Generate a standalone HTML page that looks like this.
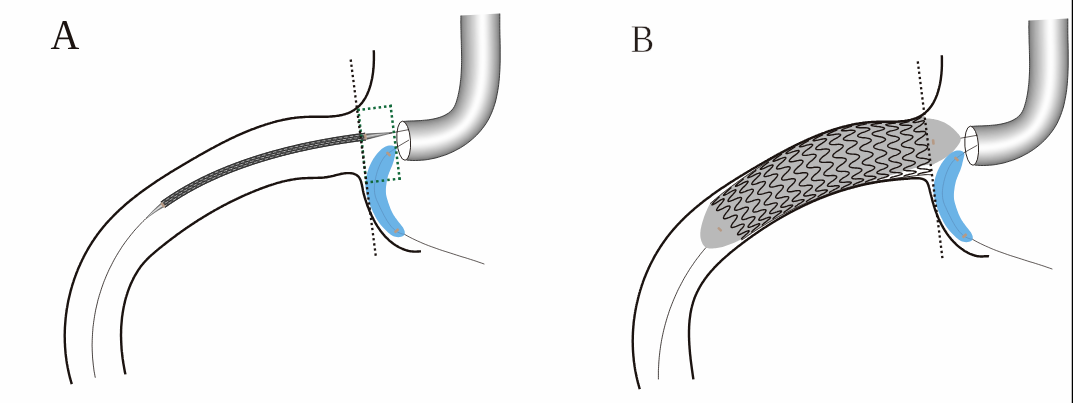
<!DOCTYPE html>
<html><head><meta charset="utf-8"><title>Figure</title>
<style>
html,body{margin:0;padding:0;background:#fefefe;}
body{width:1073px;height:403px;overflow:hidden;font-family:"Liberation Serif",serif;}
svg{display:block;will-change:transform;}
</style></head>
<body>
<svg width="1073" height="403" viewBox="0 0 1073 403">
<defs>
<linearGradient id="tp" gradientUnits="userSpaceOnUse" x1="365" y1="134" x2="366" y2="139.5">
<stop offset="0" stop-color="#444"/><stop offset="0.5" stop-color="#cfcfcf"/><stop offset="1" stop-color="#444"/>
</linearGradient>
<linearGradient id="tl" gradientUnits="userSpaceOnUse" x1="157" y1="204" x2="161" y2="209">
<stop offset="0" stop-color="#666"/><stop offset="0.5" stop-color="#eee"/><stop offset="1" stop-color="#666"/>
</linearGradient>
<filter id="soft" x="-5%" y="-5%" width="110%" height="110%"><feGaussianBlur stdDeviation="0.9"/></filter>
</defs>
<rect width="1073" height="403" fill="#fefefe"/>

<g font-family="Liberation Serif, serif" text-rendering="geometricPrecision">
<text transform="translate(50.51 48.6) scale(0.9446 1.0071)" font-size="42.27" fill="#1b1310">A</text>
<text transform="translate(630.69 52.15) scale(0.8954 1)" font-size="39.23" fill="#241c19" stroke="#fefefe" stroke-width="0.55">B</text>
</g>

<g id="A">
<g id="common">
<clipPath id="tubeclip"><path d="M403.2,121.4 L405.3,121.3 L407.5,121.1 L409.6,121.0 L411.7,120.9 L413.9,120.9 L416.0,120.8 L418.1,120.7 L420.3,120.6 L422.4,120.4 L424.5,120.2 L426.6,120.0 L428.8,119.8 L430.9,119.4 L433.0,119.1 L435.1,118.6 L437.1,118.1 L439.2,117.5 L441.2,116.8 L443.2,116.0 L445.1,115.1 L447.0,114.0 L448.8,112.9 L450.4,111.5 L451.9,110.0 L453.3,108.3 L454.4,106.5 L455.3,104.6 L456.1,102.6 L456.7,100.6 L457.3,98.5 L457.9,96.5 L458.3,94.4 L458.8,92.3 L459.2,90.2 L459.6,88.1 L459.9,86.0 L460.2,83.9 L460.4,81.7 L460.7,79.6 L460.9,77.5 L461.0,75.4 L461.2,73.2 L461.3,71.1 L461.4,69.0 L461.5,66.8 L461.5,64.7 L461.6,62.6 L461.6,60.4 L461.6,58.3 L461.6,56.2 L461.6,54.0 L461.5,51.9 L461.5,49.8 L461.4,47.6 L461.4,45.5 L461.3,43.4 L461.3,41.2 L461.2,39.1 L461.1,37.0 L461.1,34.8 L461.0,32.7 L461.0,30.5 L460.9,28.4 L460.9,26.3 L460.9,24.1 L460.8,22.0 L460.9,19.9 L460.9,17.7 L460.9,15.6 L499.8,13.6 L499.8,16.6 L499.8,19.5 L499.8,22.5 L499.8,25.4 L499.8,28.4 L499.9,31.4 L499.9,34.3 L500.0,37.3 L500.1,40.2 L500.1,43.2 L500.2,46.1 L500.2,49.1 L500.2,52.1 L500.2,55.0 L500.2,58.0 L500.2,60.9 L500.1,63.9 L500.0,66.8 L499.9,69.8 L499.7,72.8 L499.5,75.7 L499.3,78.7 L499.0,81.6 L498.7,84.5 L498.3,87.5 L497.8,90.4 L497.3,93.3 L496.7,96.2 L496.1,99.1 L495.4,102.0 L494.5,104.8 L493.6,107.6 L492.6,110.4 L491.5,113.1 L490.3,115.8 L489.0,118.5 L487.5,121.1 L486.0,123.6 L484.3,126.0 L482.5,128.4 L480.7,130.7 L478.7,132.9 L476.7,135.1 L474.6,137.1 L472.4,139.1 L470.1,141.0 L467.8,142.8 L465.4,144.6 L462.9,146.2 L460.4,147.8 L457.8,149.2 L455.2,150.6 L452.6,151.9 L449.9,153.1 L447.1,154.3 L444.4,155.3 L441.5,156.2 L438.7,157.1 L435.9,157.9 L433.0,158.5 L430.1,159.1 L427.2,159.6 L424.2,160.0 L421.3,160.2 L418.3,160.4 L415.4,160.5 L412.4,160.5 L409.4,160.3 L406.5,160.1Z"/></clipPath>
<g clip-path="url(#tubeclip)"><g filter="url(#soft)">
<path d="M399.1,120.2 L403.1,119.9 L405.2,119.7 L407.3,119.6 L409.4,119.5 L411.5,119.4 L413.6,119.3 L415.7,119.2 L417.8,119.1 L419.9,119.0 L422.0,118.9 L424.1,118.7 L426.2,118.5 L428.3,118.3 L430.3,118.0 L432.4,117.7 L434.5,117.2 L436.5,116.7 L438.5,116.2 L440.5,115.5 L442.5,114.7 L444.4,113.8 L446.2,112.8 L448.0,111.7 L449.6,110.3 L451.1,108.9 L452.4,107.2 L453.5,105.4 L454.4,103.5 L455.1,101.5 L455.7,99.5 L456.2,97.4 L456.7,95.4 L457.2,93.3 L457.6,91.2 L457.9,89.2 L458.3,87.1 L458.6,85.0 L458.8,82.9 L459.1,80.8 L459.3,78.7 L459.5,76.6 L459.6,74.5 L459.7,72.4 L459.8,70.3 L459.9,68.2 L460.0,66.1 L460.0,64.0 L460.1,61.9 L460.1,59.8 L460.1,57.7 L460.0,55.6 L460.0,53.5 L460.0,51.4 L459.9,49.3 L459.9,47.2 L459.8,45.1 L459.8,43.0 L459.7,40.9 L459.6,38.8 L459.6,36.7 L459.5,34.6 L459.5,32.5 L459.4,30.4 L459.4,28.3 L459.3,26.2 L459.3,24.1 L459.3,22.0 L459.3,19.9 L459.3,17.8 L459.3,15.7 L459.4,11.7 L461.2,11.6 L461.2,15.6 L461.1,17.7 L461.1,19.9 L461.1,22.0 L461.1,24.2 L461.1,26.3 L461.2,28.4 L461.2,30.6 L461.3,32.7 L461.3,34.9 L461.4,37.0 L461.5,39.1 L461.5,41.3 L461.6,43.4 L461.6,45.6 L461.7,47.7 L461.7,49.8 L461.8,52.0 L461.8,54.1 L461.8,56.3 L461.8,58.4 L461.8,60.5 L461.8,62.7 L461.8,64.8 L461.7,67.0 L461.6,69.1 L461.5,71.2 L461.4,73.4 L461.3,75.5 L461.1,77.6 L460.9,79.8 L460.7,81.9 L460.4,84.0 L460.1,86.1 L459.8,88.3 L459.4,90.4 L459.0,92.5 L458.5,94.6 L458.0,96.6 L457.5,98.7 L456.9,100.8 L456.2,102.8 L455.4,104.8 L454.5,106.7 L453.4,108.5 L452.1,110.2 L450.6,111.7 L448.9,113.1 L447.1,114.2 L445.2,115.3 L443.3,116.2 L441.3,117.0 L439.3,117.7 L437.2,118.3 L435.2,118.9 L433.1,119.3 L431.0,119.7 L428.8,120.0 L426.7,120.3 L424.6,120.5 L422.5,120.7 L420.3,120.8 L418.2,120.9 L416.1,121.0 L413.9,121.1 L411.8,121.2 L409.6,121.3 L407.5,121.4 L405.4,121.5 L403.2,121.7 L399.2,121.9Z" fill="#6e6e6e"/>
<path d="M399.2,121.4 L403.2,121.1 L405.3,121.0 L407.4,120.9 L409.6,120.8 L411.7,120.7 L413.8,120.6 L415.9,120.5 L418.1,120.4 L420.2,120.3 L422.3,120.2 L424.4,120.0 L426.6,119.8 L428.7,119.5 L430.8,119.2 L432.9,118.8 L435.0,118.4 L437.0,117.9 L439.1,117.3 L441.1,116.6 L443.1,115.8 L445.0,114.9 L446.9,113.8 L448.6,112.7 L450.3,111.3 L451.8,109.8 L453.1,108.1 L454.2,106.3 L455.1,104.4 L455.9,102.4 L456.6,100.4 L457.1,98.3 L457.7,96.3 L458.1,94.2 L458.6,92.1 L459.0,90.0 L459.3,87.9 L459.7,85.8 L460.0,83.7 L460.2,81.6 L460.4,79.5 L460.6,77.4 L460.8,75.2 L460.9,73.1 L461.1,71.0 L461.2,68.9 L461.2,66.7 L461.3,64.6 L461.3,62.5 L461.3,60.3 L461.3,58.2 L461.3,56.1 L461.3,53.9 L461.3,51.8 L461.2,49.7 L461.2,47.6 L461.1,45.4 L461.1,43.3 L461.0,41.2 L460.9,39.0 L460.9,36.9 L460.8,34.8 L460.8,32.7 L460.7,30.5 L460.7,28.4 L460.6,26.3 L460.6,24.1 L460.6,22.0 L460.6,19.9 L460.6,17.7 L460.6,15.6 L460.7,11.6 L462.5,11.5 L462.5,15.5 L462.4,17.7 L462.4,19.9 L462.4,22.0 L462.4,24.2 L462.4,26.4 L462.5,28.5 L462.5,30.7 L462.6,32.9 L462.6,35.0 L462.7,37.2 L462.8,39.4 L462.8,41.5 L462.9,43.7 L462.9,45.9 L463.0,48.0 L463.0,50.2 L463.1,52.4 L463.1,54.5 L463.1,56.7 L463.1,58.9 L463.1,61.0 L463.1,63.2 L463.0,65.4 L463.0,67.5 L462.9,69.7 L462.8,71.9 L462.6,74.0 L462.5,76.2 L462.3,78.4 L462.1,80.5 L461.8,82.7 L461.5,84.8 L461.2,87.0 L460.8,89.1 L460.4,91.2 L460.0,93.3 L459.5,95.4 L459.0,97.5 L458.4,99.6 L457.8,101.7 L457.1,103.7 L456.2,105.7 L455.3,107.7 L454.1,109.5 L452.8,111.2 L451.2,112.7 L449.5,114.1 L447.7,115.3 L445.8,116.3 L443.9,117.3 L441.9,118.1 L439.8,118.8 L437.8,119.5 L435.7,120.0 L433.5,120.5 L431.4,120.9 L429.3,121.2 L427.1,121.5 L425.0,121.7 L422.8,121.9 L420.7,122.1 L418.5,122.2 L416.3,122.3 L414.2,122.4 L412.0,122.5 L409.8,122.6 L407.7,122.7 L405.5,122.8 L403.3,122.9 L399.3,123.2Z" fill="#797979"/>
<path d="M399.3,122.7 L403.3,122.4 L405.4,122.3 L407.6,122.2 L409.7,122.1 L411.9,122.0 L414.1,121.9 L416.2,121.8 L418.4,121.7 L420.5,121.6 L422.7,121.4 L424.8,121.2 L427.0,121.0 L429.1,120.7 L431.2,120.4 L433.4,120.0 L435.5,119.5 L437.5,119.0 L439.6,118.4 L441.6,117.7 L443.6,116.8 L445.6,115.9 L447.5,114.9 L449.3,113.7 L450.9,112.3 L452.5,110.8 L453.8,109.1 L455.0,107.3 L455.9,105.4 L456.7,103.4 L457.4,101.3 L458.0,99.3 L458.6,97.2 L459.1,95.1 L459.6,93.0 L460.0,90.9 L460.4,88.8 L460.8,86.6 L461.1,84.5 L461.4,82.4 L461.6,80.2 L461.8,78.1 L462.0,75.9 L462.2,73.8 L462.3,71.6 L462.4,69.5 L462.5,67.3 L462.5,65.2 L462.6,63.0 L462.6,60.8 L462.6,58.7 L462.6,56.5 L462.6,54.4 L462.6,52.2 L462.5,50.1 L462.5,47.9 L462.4,45.7 L462.4,43.6 L462.3,41.4 L462.2,39.3 L462.2,37.1 L462.1,35.0 L462.1,32.8 L462.0,30.6 L462.0,28.5 L461.9,26.3 L461.9,24.2 L461.9,22.0 L461.9,19.9 L461.9,17.7 L461.9,15.5 L462.0,11.5 L463.8,11.5 L463.8,15.5 L463.7,17.6 L463.7,19.8 L463.7,22.0 L463.7,24.2 L463.7,26.4 L463.8,28.6 L463.8,30.8 L463.9,33.0 L463.9,35.2 L464.0,37.4 L464.1,39.6 L464.1,41.8 L464.2,44.0 L464.2,46.2 L464.3,48.4 L464.3,50.6 L464.4,52.8 L464.4,55.0 L464.4,57.2 L464.4,59.4 L464.4,61.6 L464.3,63.7 L464.3,65.9 L464.2,68.1 L464.1,70.3 L464.0,72.5 L463.8,74.7 L463.7,76.9 L463.5,79.1 L463.2,81.3 L462.9,83.4 L462.6,85.6 L462.3,87.8 L461.9,89.9 L461.5,92.1 L461.0,94.2 L460.5,96.3 L459.9,98.4 L459.3,100.5 L458.6,102.6 L457.9,104.7 L457.0,106.7 L456.0,108.6 L454.8,110.5 L453.4,112.2 L451.9,113.7 L450.1,115.1 L448.3,116.3 L446.4,117.4 L444.4,118.3 L442.4,119.2 L440.4,119.9 L438.3,120.6 L436.2,121.2 L434.0,121.6 L431.9,122.1 L429.7,122.4 L427.5,122.7 L425.4,123.0 L423.2,123.2 L421.0,123.4 L418.8,123.5 L416.6,123.6 L414.4,123.8 L412.2,123.8 L410.0,123.9 L407.8,124.0 L405.6,124.1 L403.4,124.2 L399.5,124.5Z" fill="#8b8b8b"/>
<path d="M399.4,124.0 L403.4,123.7 L405.6,123.6 L407.8,123.5 L409.9,123.4 L412.1,123.3 L414.3,123.2 L416.5,123.1 L418.7,123.0 L420.9,122.9 L423.0,122.7 L425.2,122.5 L427.4,122.2 L429.5,122.0 L431.7,121.6 L433.8,121.2 L436.0,120.7 L438.1,120.1 L440.1,119.5 L442.2,118.7 L444.2,117.9 L446.2,116.9 L448.1,115.9 L449.9,114.7 L451.6,113.3 L453.2,111.8 L454.5,110.1 L455.7,108.2 L456.7,106.3 L457.5,104.3 L458.3,102.3 L458.9,100.2 L459.5,98.1 L460.1,96.0 L460.6,93.9 L461.1,91.7 L461.5,89.6 L461.9,87.4 L462.2,85.3 L462.5,83.1 L462.8,81.0 L463.0,78.8 L463.2,76.6 L463.4,74.4 L463.5,72.3 L463.6,70.1 L463.7,67.9 L463.8,65.7 L463.8,63.5 L463.9,61.4 L463.9,59.2 L463.9,57.0 L463.9,54.8 L463.8,52.6 L463.8,50.4 L463.8,48.2 L463.7,46.1 L463.7,43.9 L463.6,41.7 L463.5,39.5 L463.5,37.3 L463.4,35.1 L463.4,33.0 L463.3,30.8 L463.3,28.6 L463.2,26.4 L463.2,24.2 L463.2,22.0 L463.2,19.8 L463.2,17.7 L463.2,15.5 L463.3,11.5 L465.1,11.4 L465.1,15.4 L465.0,17.6 L465.0,19.8 L465.0,22.1 L465.0,24.3 L465.0,26.5 L465.1,28.7 L465.1,30.9 L465.2,33.2 L465.2,35.4 L465.3,37.6 L465.4,39.8 L465.4,42.1 L465.5,44.3 L465.5,46.5 L465.6,48.7 L465.6,51.0 L465.6,53.2 L465.7,55.4 L465.7,57.6 L465.7,59.8 L465.6,62.1 L465.6,64.3 L465.5,66.5 L465.4,68.7 L465.3,70.9 L465.2,73.2 L465.0,75.4 L464.9,77.6 L464.6,79.8 L464.4,82.0 L464.1,84.2 L463.7,86.4 L463.4,88.6 L463.0,90.8 L462.5,92.9 L462.0,95.1 L461.5,97.2 L460.8,99.4 L460.2,101.5 L459.5,103.5 L458.7,105.6 L457.8,107.6 L456.7,109.6 L455.5,111.4 L454.1,113.1 L452.5,114.7 L450.8,116.1 L448.9,117.3 L447.0,118.4 L445.0,119.4 L443.0,120.2 L440.9,121.0 L438.8,121.7 L436.6,122.3 L434.5,122.8 L432.3,123.3 L430.1,123.7 L427.9,124.0 L425.7,124.3 L423.5,124.5 L421.3,124.7 L419.1,124.8 L416.9,125.0 L414.7,125.1 L412.4,125.2 L410.2,125.2 L408.0,125.3 L405.8,125.4 L403.6,125.5 L399.6,125.7Z" fill="#959595"/>
<path d="M399.5,125.2 L403.5,125.0 L405.7,124.9 L407.9,124.8 L410.1,124.7 L412.3,124.6 L414.6,124.5 L416.8,124.4 L419.0,124.3 L421.2,124.2 L423.4,124.0 L425.6,123.8 L427.8,123.5 L430.0,123.2 L432.1,122.8 L434.3,122.4 L436.4,121.8 L438.6,121.3 L440.7,120.6 L442.8,119.8 L444.8,119.0 L446.8,118.0 L448.7,116.9 L450.5,115.7 L452.3,114.3 L453.8,112.7 L455.2,111.0 L456.4,109.2 L457.5,107.2 L458.4,105.2 L459.1,103.2 L459.8,101.1 L460.5,99.0 L461.1,96.9 L461.6,94.7 L462.1,92.6 L462.5,90.4 L462.9,88.3 L463.3,86.1 L463.6,83.9 L463.9,81.7 L464.2,79.5 L464.4,77.3 L464.6,75.1 L464.7,72.9 L464.8,70.7 L464.9,68.5 L465.0,66.3 L465.1,64.1 L465.1,61.9 L465.1,59.6 L465.2,57.4 L465.1,55.2 L465.1,53.0 L465.1,50.8 L465.1,48.6 L465.0,46.4 L464.9,44.2 L464.9,42.0 L464.8,39.7 L464.8,37.5 L464.7,35.3 L464.7,33.1 L464.6,30.9 L464.6,28.7 L464.5,26.5 L464.5,24.3 L464.5,22.0 L464.5,19.8 L464.5,17.6 L464.5,15.4 L464.6,11.4 L466.4,11.3 L466.3,15.3 L466.3,17.6 L466.3,19.8 L466.3,22.1 L466.3,24.3 L466.3,26.6 L466.4,28.8 L466.4,31.1 L466.5,33.3 L466.5,35.6 L466.6,37.8 L466.7,40.1 L466.7,42.3 L466.8,44.6 L466.8,46.8 L466.9,49.1 L466.9,51.3 L466.9,53.6 L466.9,55.8 L466.9,58.1 L466.9,60.3 L466.9,62.6 L466.8,64.8 L466.8,67.1 L466.7,69.3 L466.6,71.6 L466.4,73.8 L466.2,76.0 L466.0,78.3 L465.8,80.5 L465.5,82.8 L465.2,85.0 L464.9,87.2 L464.5,89.4 L464.0,91.6 L463.5,93.8 L463.0,96.0 L462.4,98.1 L461.8,100.3 L461.1,102.4 L460.4,104.5 L459.5,106.5 L458.6,108.6 L457.5,110.5 L456.2,112.4 L454.8,114.1 L453.2,115.7 L451.4,117.1 L449.6,118.3 L447.6,119.4 L445.6,120.4 L443.5,121.3 L441.4,122.1 L439.3,122.8 L437.1,123.5 L435.0,124.0 L432.8,124.5 L430.6,124.9 L428.3,125.2 L426.1,125.5 L423.9,125.8 L421.6,126.0 L419.4,126.1 L417.1,126.3 L414.9,126.4 L412.7,126.5 L410.4,126.6 L408.2,126.6 L405.9,126.7 L403.7,126.8 L399.7,127.0Z" fill="#9e9e9e"/>
<path d="M399.6,126.5 L403.6,126.3 L405.9,126.2 L408.1,126.1 L410.3,126.0 L412.6,125.9 L414.8,125.9 L417.0,125.7 L419.3,125.6 L421.5,125.4 L423.7,125.2 L426.0,125.0 L428.2,124.7 L430.4,124.4 L432.6,124.0 L434.8,123.5 L436.9,123.0 L439.1,122.4 L441.2,121.7 L443.3,120.9 L445.4,120.0 L447.4,119.0 L449.3,117.9 L451.2,116.7 L452.9,115.3 L454.5,113.7 L456.0,112.0 L457.2,110.1 L458.3,108.2 L459.2,106.2 L460.0,104.1 L460.7,102.0 L461.4,99.9 L462.0,97.8 L462.6,95.6 L463.1,93.4 L463.6,91.3 L464.0,89.1 L464.4,86.9 L464.8,84.7 L465.1,82.5 L465.3,80.2 L465.6,78.0 L465.8,75.8 L465.9,73.6 L466.1,71.3 L466.2,69.1 L466.3,66.8 L466.3,64.6 L466.4,62.4 L466.4,60.1 L466.4,57.9 L466.4,55.7 L466.4,53.4 L466.4,51.2 L466.3,48.9 L466.3,46.7 L466.2,44.5 L466.2,42.2 L466.1,40.0 L466.1,37.7 L466.0,35.5 L466.0,33.3 L465.9,31.0 L465.9,28.8 L465.8,26.5 L465.8,24.3 L465.8,22.1 L465.8,19.8 L465.8,17.6 L465.8,15.3 L465.9,11.3 L467.7,11.3 L467.6,15.3 L467.6,17.5 L467.6,19.8 L467.6,22.1 L467.6,24.4 L467.6,26.6 L467.7,28.9 L467.7,31.2 L467.8,33.5 L467.8,35.8 L467.9,38.0 L467.9,40.3 L468.0,42.6 L468.1,44.9 L468.1,47.1 L468.2,49.4 L468.2,51.7 L468.2,54.0 L468.2,56.3 L468.2,58.5 L468.2,60.8 L468.2,63.1 L468.1,65.4 L468.0,67.6 L467.9,69.9 L467.8,72.2 L467.6,74.5 L467.5,76.7 L467.2,79.0 L467.0,81.2 L466.7,83.5 L466.4,85.7 L466.0,88.0 L465.6,90.2 L465.1,92.4 L464.6,94.6 L464.0,96.8 L463.4,99.0 L462.7,101.2 L462.0,103.3 L461.2,105.4 L460.3,107.5 L459.4,109.5 L458.2,111.5 L456.9,113.3 L455.5,115.1 L453.8,116.6 L452.1,118.1 L450.2,119.3 L448.2,120.5 L446.2,121.5 L444.1,122.4 L442.0,123.2 L439.8,124.0 L437.6,124.6 L435.4,125.2 L433.2,125.7 L431.0,126.1 L428.7,126.4 L426.5,126.8 L424.2,127.0 L422.0,127.2 L419.7,127.4 L417.4,127.6 L415.1,127.7 L412.9,127.8 L410.6,127.9 L408.3,128.0 L406.0,128.0 L403.8,128.1 L399.8,128.3Z" fill="#a8a8a8"/>
<path d="M399.7,127.8 L403.7,127.6 L406.0,127.5 L408.3,127.4 L410.5,127.3 L412.8,127.3 L415.0,127.2 L417.3,127.0 L419.6,126.9 L421.8,126.7 L424.1,126.5 L426.3,126.3 L428.6,126.0 L430.8,125.6 L433.0,125.2 L435.2,124.7 L437.4,124.1 L439.6,123.5 L441.7,122.8 L443.9,122.0 L445.9,121.1 L448.0,120.1 L449.9,118.9 L451.8,117.7 L453.6,116.2 L455.2,114.7 L456.7,113.0 L457.9,111.1 L459.0,109.1 L460.0,107.1 L460.9,105.0 L461.6,102.9 L462.3,100.8 L463.0,98.7 L463.6,96.5 L464.2,94.3 L464.7,92.1 L465.1,89.9 L465.5,87.7 L465.9,85.4 L466.2,83.2 L466.5,81.0 L466.8,78.7 L467.0,76.5 L467.2,74.2 L467.3,71.9 L467.4,69.7 L467.5,67.4 L467.6,65.1 L467.7,62.9 L467.7,60.6 L467.7,58.3 L467.7,56.1 L467.7,53.8 L467.7,51.5 L467.6,49.3 L467.6,47.0 L467.5,44.7 L467.5,42.5 L467.4,40.2 L467.4,37.9 L467.3,35.7 L467.3,33.4 L467.2,31.1 L467.2,28.9 L467.1,26.6 L467.1,24.3 L467.1,22.1 L467.1,19.8 L467.1,17.5 L467.1,15.3 L467.2,11.3 L469.0,11.2 L468.9,15.2 L468.9,17.5 L468.9,19.8 L468.9,22.1 L468.9,24.4 L468.9,26.7 L469.0,29.0 L469.0,31.3 L469.1,33.6 L469.1,35.9 L469.2,38.2 L469.2,40.5 L469.3,42.8 L469.4,45.2 L469.4,47.5 L469.4,49.8 L469.5,52.1 L469.5,54.4 L469.5,56.7 L469.5,59.0 L469.5,61.3 L469.4,63.6 L469.4,65.9 L469.3,68.2 L469.2,70.5 L469.0,72.8 L468.9,75.1 L468.7,77.4 L468.4,79.7 L468.2,82.0 L467.8,84.2 L467.5,86.5 L467.1,88.8 L466.6,91.0 L466.2,93.3 L465.6,95.5 L465.0,97.7 L464.4,99.9 L463.7,102.1 L462.9,104.2 L462.1,106.3 L461.2,108.4 L460.1,110.5 L459.0,112.4 L457.7,114.3 L456.2,116.0 L454.5,117.6 L452.7,119.1 L450.8,120.3 L448.8,121.5 L446.7,122.6 L444.6,123.5 L442.5,124.3 L440.3,125.1 L438.1,125.8 L435.9,126.3 L433.7,126.9 L431.4,127.3 L429.1,127.7 L426.9,128.0 L424.6,128.3 L422.3,128.5 L420.0,128.7 L417.7,128.9 L415.4,129.0 L413.1,129.1 L410.8,129.2 L408.5,129.3 L406.2,129.3 L403.9,129.4 L399.9,129.6Z" fill="#b0b0b0"/>
<path d="M399.8,129.0 L403.8,128.9 L406.1,128.8 L408.4,128.7 L410.7,128.7 L413.0,128.6 L415.3,128.5 L417.6,128.4 L419.9,128.2 L422.2,128.0 L424.4,127.8 L426.7,127.5 L429.0,127.2 L431.2,126.8 L433.5,126.4 L435.7,125.9 L437.9,125.3 L440.1,124.6 L442.3,123.9 L444.4,123.1 L446.5,122.1 L448.6,121.1 L450.5,119.9 L452.4,118.7 L454.2,117.2 L455.9,115.6 L457.4,113.9 L458.7,112.0 L459.8,110.1 L460.8,108.0 L461.7,106.0 L462.5,103.8 L463.3,101.7 L464.0,99.5 L464.6,97.4 L465.2,95.2 L465.7,92.9 L466.2,90.7 L466.6,88.5 L467.0,86.2 L467.4,83.9 L467.7,81.7 L467.9,79.4 L468.2,77.1 L468.4,74.8 L468.5,72.6 L468.7,70.3 L468.8,68.0 L468.9,65.7 L468.9,63.4 L469.0,61.1 L469.0,58.8 L469.0,56.5 L469.0,54.2 L469.0,51.9 L468.9,49.6 L468.9,47.3 L468.8,45.0 L468.8,42.7 L468.7,40.4 L468.7,38.2 L468.6,35.9 L468.6,33.6 L468.5,31.3 L468.5,29.0 L468.4,26.7 L468.4,24.4 L468.4,22.1 L468.4,19.8 L468.4,17.5 L468.4,15.2 L468.5,11.2 L470.3,11.1 L470.2,15.1 L470.2,17.5 L470.2,19.8 L470.2,22.1 L470.2,24.5 L470.2,26.8 L470.3,29.1 L470.3,31.4 L470.4,33.8 L470.4,36.1 L470.5,38.4 L470.5,40.8 L470.6,43.1 L470.7,45.4 L470.7,47.8 L470.7,50.1 L470.8,52.4 L470.8,54.8 L470.8,57.1 L470.8,59.4 L470.7,61.8 L470.7,64.1 L470.6,66.4 L470.5,68.8 L470.4,71.1 L470.3,73.4 L470.1,75.7 L469.9,78.1 L469.6,80.4 L469.3,82.7 L469.0,85.0 L468.6,87.3 L468.2,89.6 L467.7,91.8 L467.2,94.1 L466.7,96.4 L466.0,98.6 L465.3,100.8 L464.6,103.0 L463.8,105.1 L462.9,107.3 L462.0,109.4 L460.9,111.4 L459.7,113.4 L458.4,115.3 L456.8,117.0 L455.1,118.6 L453.3,120.1 L451.4,121.4 L449.4,122.5 L447.3,123.6 L445.2,124.6 L443.0,125.4 L440.8,126.2 L438.6,126.9 L436.4,127.5 L434.1,128.1 L431.8,128.5 L429.5,128.9 L427.2,129.3 L424.9,129.6 L422.6,129.8 L420.3,130.0 L418.0,130.2 L415.6,130.3 L413.3,130.4 L411.0,130.5 L408.6,130.6 L406.3,130.6 L404.0,130.7 L400.0,130.8Z" fill="#b7b7b7"/>
<path d="M400.0,130.3 L403.9,130.2 L406.3,130.1 L408.6,130.0 L410.9,130.0 L413.2,129.9 L415.5,129.8 L417.9,129.7 L420.2,129.5 L422.5,129.3 L424.8,129.1 L427.1,128.8 L429.4,128.4 L431.7,128.0 L433.9,127.6 L436.2,127.0 L438.4,126.4 L440.6,125.8 L442.8,125.0 L445.0,124.1 L447.1,123.2 L449.1,122.1 L451.1,121.0 L453.1,119.7 L454.9,118.2 L456.6,116.6 L458.1,114.9 L459.4,113.0 L460.6,111.0 L461.7,109.0 L462.6,106.9 L463.4,104.8 L464.2,102.6 L465.0,100.4 L465.6,98.2 L466.2,96.0 L466.8,93.8 L467.3,91.5 L467.8,89.3 L468.2,87.0 L468.5,84.7 L468.9,82.4 L469.1,80.1 L469.4,77.8 L469.6,75.5 L469.8,73.2 L469.9,70.9 L470.0,68.5 L470.1,66.2 L470.2,63.9 L470.2,61.6 L470.3,59.3 L470.3,56.9 L470.3,54.6 L470.3,52.3 L470.2,50.0 L470.2,47.6 L470.1,45.3 L470.1,43.0 L470.0,40.7 L470.0,38.4 L469.9,36.0 L469.9,33.7 L469.8,31.4 L469.8,29.1 L469.7,26.8 L469.7,24.4 L469.7,22.1 L469.7,19.8 L469.7,17.5 L469.7,15.1 L469.8,11.1 L471.6,11.1 L471.5,15.1 L471.5,17.4 L471.5,19.8 L471.5,22.1 L471.5,24.5 L471.5,26.9 L471.6,29.2 L471.6,31.6 L471.7,33.9 L471.7,36.3 L471.8,38.7 L471.8,41.0 L471.9,43.4 L472.0,45.7 L472.0,48.1 L472.0,50.5 L472.1,52.8 L472.1,55.2 L472.1,57.5 L472.1,59.9 L472.0,62.3 L472.0,64.6 L471.9,67.0 L471.8,69.3 L471.6,71.7 L471.5,74.0 L471.3,76.4 L471.1,78.7 L470.8,81.1 L470.5,83.4 L470.2,85.7 L469.8,88.1 L469.3,90.4 L468.8,92.7 L468.3,94.9 L467.7,97.2 L467.0,99.5 L466.3,101.7 L465.5,103.9 L464.7,106.0 L463.8,108.2 L462.8,110.3 L461.7,112.3 L460.5,114.3 L459.1,116.2 L457.5,118.0 L455.8,119.6 L454.0,121.1 L452.0,122.4 L450.0,123.6 L447.9,124.7 L445.7,125.7 L443.6,126.5 L441.4,127.3 L439.1,128.1 L436.8,128.7 L434.6,129.2 L432.3,129.7 L429.9,130.2 L427.6,130.5 L425.3,130.8 L422.9,131.1 L420.6,131.3 L418.2,131.5 L415.9,131.6 L413.5,131.7 L411.2,131.8 L408.8,131.9 L406.5,131.9 L404.1,132.0 L400.1,132.1Z" fill="#bfbfbf"/>
<path d="M400.1,131.6 L404.1,131.5 L406.4,131.4 L408.7,131.4 L411.1,131.3 L413.4,131.2 L415.8,131.1 L418.1,131.0 L420.5,130.8 L422.8,130.6 L425.1,130.3 L427.5,130.0 L429.8,129.7 L432.1,129.2 L434.4,128.8 L436.7,128.2 L438.9,127.6 L441.1,126.9 L443.4,126.1 L445.5,125.2 L447.7,124.3 L449.7,123.2 L451.8,122.0 L453.7,120.7 L455.5,119.2 L457.2,117.6 L458.8,115.8 L460.2,113.9 L461.4,112.0 L462.5,109.9 L463.4,107.8 L464.3,105.7 L465.2,103.5 L465.9,101.3 L466.6,99.1 L467.3,96.9 L467.9,94.6 L468.4,92.3 L468.9,90.0 L469.3,87.7 L469.7,85.4 L470.0,83.1 L470.3,80.8 L470.6,78.5 L470.8,76.1 L471.0,73.8 L471.2,71.4 L471.3,69.1 L471.4,66.8 L471.5,64.4 L471.5,62.1 L471.5,59.7 L471.6,57.4 L471.6,55.0 L471.5,52.7 L471.5,50.3 L471.5,48.0 L471.4,45.6 L471.4,43.3 L471.3,40.9 L471.3,38.6 L471.2,36.2 L471.2,33.9 L471.1,31.5 L471.1,29.2 L471.0,26.8 L471.0,24.5 L471.0,22.1 L471.0,19.8 L471.0,17.4 L471.0,15.1 L471.1,11.1 L472.9,11.0 L472.8,15.0 L472.8,17.4 L472.8,19.8 L472.8,22.2 L472.8,24.5 L472.8,26.9 L472.9,29.3 L472.9,31.7 L473.0,34.1 L473.0,36.5 L473.1,38.9 L473.1,41.2 L473.2,43.6 L473.2,46.0 L473.3,48.4 L473.3,50.8 L473.3,53.2 L473.4,55.6 L473.4,58.0 L473.3,60.3 L473.3,62.7 L473.2,65.1 L473.1,67.5 L473.0,69.9 L472.9,72.3 L472.7,74.6 L472.5,77.0 L472.3,79.4 L472.0,81.8 L471.7,84.1 L471.3,86.5 L470.9,88.8 L470.4,91.2 L469.9,93.5 L469.4,95.8 L468.7,98.1 L468.0,100.3 L467.3,102.6 L466.5,104.8 L465.6,107.0 L464.7,109.1 L463.6,111.2 L462.5,113.3 L461.2,115.3 L459.8,117.2 L458.2,118.9 L456.5,120.6 L454.6,122.1 L452.6,123.4 L450.6,124.6 L448.5,125.7 L446.3,126.7 L444.1,127.7 L441.9,128.5 L439.6,129.2 L437.3,129.9 L435.0,130.4 L432.7,130.9 L430.3,131.4 L428.0,131.8 L425.6,132.1 L423.3,132.4 L420.9,132.6 L418.5,132.8 L416.1,132.9 L413.8,133.1 L411.4,133.1 L409.0,133.2 L406.6,133.2 L404.2,133.3 L400.2,133.4Z" fill="#c7c7c7"/>
<path d="M400.2,132.9 L404.2,132.8 L406.5,132.7 L408.9,132.7 L411.3,132.6 L413.7,132.5 L416.0,132.4 L418.4,132.3 L420.8,132.1 L423.1,131.9 L425.5,131.6 L427.8,131.3 L430.2,130.9 L432.5,130.5 L434.8,130.0 L437.1,129.4 L439.4,128.7 L441.7,128.0 L443.9,127.2 L446.1,126.3 L448.2,125.3 L450.3,124.2 L452.4,123.0 L454.3,121.7 L456.2,120.2 L457.9,118.6 L459.5,116.8 L460.9,114.9 L462.2,112.9 L463.3,110.9 L464.3,108.7 L465.2,106.6 L466.1,104.4 L466.9,102.2 L467.6,100.0 L468.3,97.7 L468.9,95.4 L469.5,93.1 L470.0,90.8 L470.4,88.5 L470.8,86.2 L471.2,83.8 L471.5,81.5 L471.8,79.1 L472.0,76.8 L472.2,74.4 L472.4,72.0 L472.5,69.7 L472.6,67.3 L472.7,64.9 L472.8,62.5 L472.8,60.2 L472.8,57.8 L472.8,55.4 L472.8,53.0 L472.8,50.7 L472.8,48.3 L472.7,45.9 L472.7,43.5 L472.6,41.2 L472.6,38.8 L472.5,36.4 L472.5,34.0 L472.4,31.7 L472.4,29.3 L472.3,26.9 L472.3,24.5 L472.3,22.1 L472.3,19.8 L472.3,17.4 L472.3,15.0 L472.4,11.0 L474.2,10.9 L474.1,14.9 L474.1,17.3 L474.1,19.8 L474.1,22.2 L474.1,24.6 L474.1,27.0 L474.2,29.4 L474.2,31.8 L474.3,34.2 L474.3,36.7 L474.4,39.1 L474.4,41.5 L474.5,43.9 L474.5,46.3 L474.6,48.7 L474.6,51.1 L474.6,53.6 L474.6,56.0 L474.6,58.4 L474.6,60.8 L474.6,63.2 L474.5,65.6 L474.4,68.0 L474.3,70.5 L474.1,72.9 L473.9,75.3 L473.7,77.7 L473.5,80.1 L473.2,82.5 L472.8,84.8 L472.5,87.2 L472.0,89.6 L471.6,91.9 L471.0,94.3 L470.4,96.6 L469.8,98.9 L469.0,101.2 L468.3,103.5 L467.4,105.7 L466.5,107.9 L465.5,110.0 L464.4,112.2 L463.3,114.2 L462.0,116.2 L460.5,118.1 L458.9,119.9 L457.1,121.6 L455.2,123.1 L453.2,124.4 L451.2,125.7 L449.0,126.8 L446.9,127.8 L444.6,128.8 L442.4,129.6 L440.1,130.4 L437.8,131.0 L435.5,131.6 L433.1,132.2 L430.7,132.6 L428.4,133.0 L426.0,133.4 L423.6,133.7 L421.2,133.9 L418.8,134.1 L416.4,134.2 L414.0,134.4 L411.6,134.4 L409.1,134.5 L406.7,134.5 L404.3,134.6 L400.3,134.6Z" fill="#cecece"/>
<path d="M400.3,134.1 L404.3,134.0 L406.7,134.0 L409.1,134.0 L411.5,133.9 L413.9,133.8 L416.3,133.7 L418.7,133.6 L421.1,133.4 L423.5,133.1 L425.8,132.9 L428.2,132.5 L430.6,132.1 L432.9,131.7 L435.3,131.2 L437.6,130.6 L439.9,129.9 L442.2,129.2 L444.4,128.3 L446.6,127.4 L448.8,126.4 L450.9,125.2 L453.0,124.0 L455.0,122.7 L456.9,121.2 L458.6,119.5 L460.2,117.8 L461.7,115.8 L462.9,113.9 L464.1,111.8 L465.2,109.7 L466.1,107.5 L467.0,105.3 L467.9,103.1 L468.6,100.8 L469.3,98.6 L470.0,96.3 L470.6,94.0 L471.1,91.6 L471.6,89.3 L472.0,86.9 L472.4,84.6 L472.7,82.2 L473.0,79.8 L473.2,77.4 L473.5,75.0 L473.6,72.6 L473.8,70.2 L473.9,67.8 L474.0,65.4 L474.1,63.0 L474.1,60.6 L474.1,58.2 L474.1,55.8 L474.1,53.4 L474.1,51.0 L474.1,48.6 L474.0,46.2 L474.0,43.8 L473.9,41.4 L473.9,39.0 L473.8,36.6 L473.8,34.2 L473.7,31.8 L473.7,29.4 L473.6,27.0 L473.6,24.6 L473.6,22.2 L473.6,19.8 L473.6,17.4 L473.6,14.9 L473.7,10.9 L475.5,10.9 L475.4,14.9 L475.4,17.3 L475.4,19.7 L475.4,22.2 L475.4,24.6 L475.4,27.1 L475.5,29.5 L475.5,32.0 L475.6,34.4 L475.6,36.8 L475.7,39.3 L475.7,41.7 L475.8,44.2 L475.8,46.6 L475.9,49.0 L475.9,51.5 L475.9,53.9 L475.9,56.4 L475.9,58.8 L475.9,61.3 L475.8,63.7 L475.8,66.1 L475.7,68.6 L475.5,71.0 L475.4,73.4 L475.2,75.9 L474.9,78.3 L474.7,80.7 L474.4,83.2 L474.0,85.6 L473.6,88.0 L473.2,90.4 L472.7,92.7 L472.1,95.1 L471.5,97.4 L470.8,99.8 L470.0,102.1 L469.2,104.3 L468.3,106.6 L467.4,108.8 L466.4,111.0 L465.3,113.1 L464.0,115.2 L462.7,117.2 L461.2,119.1 L459.6,120.9 L457.8,122.5 L455.9,124.1 L453.8,125.4 L451.8,126.7 L449.6,127.9 L447.4,128.9 L445.2,129.9 L442.9,130.7 L440.6,131.5 L438.3,132.2 L435.9,132.8 L433.5,133.4 L431.2,133.9 L428.8,134.3 L426.3,134.6 L423.9,134.9 L421.5,135.2 L419.1,135.4 L416.6,135.6 L414.2,135.7 L411.7,135.8 L409.3,135.8 L406.9,135.8 L404.4,135.8 L400.4,135.9Z" fill="#d6d6d6"/>
<path d="M400.4,135.4 L404.4,135.3 L406.8,135.3 L409.2,135.3 L411.7,135.2 L414.1,135.2 L416.5,135.0 L419.0,134.9 L421.4,134.7 L423.8,134.4 L426.2,134.1 L428.6,133.8 L431.0,133.4 L433.4,132.9 L435.7,132.4 L438.1,131.7 L440.4,131.1 L442.7,130.3 L445.0,129.4 L447.2,128.5 L449.4,127.4 L451.5,126.3 L453.6,125.0 L455.6,123.7 L457.5,122.1 L459.3,120.5 L460.9,118.7 L462.4,116.8 L463.7,114.8 L464.9,112.7 L466.0,110.6 L467.0,108.4 L468.0,106.2 L468.8,104.0 L469.6,101.7 L470.4,99.4 L471.1,97.1 L471.7,94.8 L472.2,92.4 L472.7,90.0 L473.2,87.7 L473.6,85.3 L473.9,82.9 L474.2,80.5 L474.5,78.1 L474.7,75.6 L474.9,73.2 L475.0,70.8 L475.2,68.4 L475.3,65.9 L475.3,63.5 L475.4,61.1 L475.4,58.6 L475.4,56.2 L475.4,53.8 L475.4,51.4 L475.4,48.9 L475.3,46.5 L475.3,44.1 L475.2,41.6 L475.2,39.2 L475.1,36.8 L475.1,34.3 L475.0,31.9 L474.9,29.5 L474.9,27.0 L474.9,24.6 L474.9,22.2 L474.9,19.7 L474.9,17.3 L474.9,14.9 L475.0,10.9 L476.8,10.8 L476.7,14.8 L476.7,17.3 L476.7,19.7 L476.7,22.2 L476.7,24.7 L476.7,27.1 L476.8,29.6 L476.8,32.1 L476.9,34.5 L476.9,37.0 L477.0,39.5 L477.0,42.0 L477.1,44.4 L477.1,46.9 L477.2,49.4 L477.2,51.8 L477.2,54.3 L477.2,56.8 L477.2,59.2 L477.2,61.7 L477.1,64.2 L477.0,66.6 L476.9,69.1 L476.8,71.6 L476.6,74.0 L476.4,76.5 L476.2,79.0 L475.9,81.4 L475.6,83.8 L475.2,86.3 L474.8,88.7 L474.3,91.1 L473.8,93.5 L473.2,95.9 L472.5,98.3 L471.8,100.6 L471.1,102.9 L470.2,105.2 L469.3,107.5 L468.3,109.7 L467.2,111.9 L466.1,114.0 L464.8,116.1 L463.4,118.1 L461.9,120.1 L460.2,121.9 L458.4,123.5 L456.5,125.1 L454.5,126.5 L452.3,127.7 L450.2,128.9 L448.0,130.0 L445.7,131.0 L443.4,131.9 L441.1,132.7 L438.7,133.4 L436.4,134.0 L434.0,134.6 L431.6,135.1 L429.1,135.5 L426.7,135.9 L424.3,136.2 L421.8,136.5 L419.3,136.7 L416.9,136.9 L414.4,137.0 L411.9,137.1 L409.5,137.1 L407.0,137.1 L404.5,137.1 L400.6,137.2Z" fill="#dedede"/>
<path d="M400.5,136.7 L404.5,136.6 L407.0,136.6 L409.4,136.6 L411.9,136.6 L414.3,136.5 L416.8,136.3 L419.2,136.2 L421.7,136.0 L424.1,135.7 L426.6,135.4 L429.0,135.0 L431.4,134.6 L433.8,134.1 L436.2,133.5 L438.5,132.9 L440.9,132.2 L443.2,131.4 L445.5,130.5 L447.7,129.6 L450.0,128.5 L452.1,127.3 L454.2,126.0 L456.2,124.7 L458.2,123.1 L460.0,121.5 L461.6,119.7 L463.1,117.8 L464.5,115.7 L465.8,113.7 L466.9,111.5 L467.9,109.3 L468.9,107.1 L469.8,104.9 L470.7,102.6 L471.4,100.3 L472.1,97.9 L472.8,95.6 L473.3,93.2 L473.9,90.8 L474.3,88.4 L474.7,86.0 L475.1,83.6 L475.4,81.1 L475.7,78.7 L475.9,76.3 L476.1,73.8 L476.3,71.4 L476.4,68.9 L476.5,66.4 L476.6,64.0 L476.7,61.5 L476.7,59.1 L476.7,56.6 L476.7,54.2 L476.7,51.7 L476.7,49.2 L476.6,46.8 L476.6,44.3 L476.5,41.9 L476.5,39.4 L476.4,36.9 L476.4,34.5 L476.3,32.0 L476.2,29.6 L476.2,27.1 L476.2,24.7 L476.2,22.2 L476.2,19.7 L476.2,17.3 L476.2,14.8 L476.3,10.8 L478.1,10.7 L478.0,14.7 L478.0,17.2 L478.0,19.7 L478.0,22.2 L478.0,24.7 L478.0,27.2 L478.1,29.7 L478.1,32.2 L478.2,34.7 L478.2,37.2 L478.3,39.7 L478.3,42.2 L478.4,44.7 L478.4,47.2 L478.5,49.7 L478.5,52.2 L478.5,54.7 L478.5,57.2 L478.5,59.7 L478.4,62.2 L478.4,64.7 L478.3,67.2 L478.2,69.6 L478.0,72.1 L477.8,74.6 L477.6,77.1 L477.4,79.6 L477.1,82.1 L476.8,84.5 L476.4,87.0 L475.9,89.5 L475.4,91.9 L474.9,94.3 L474.3,96.7 L473.6,99.1 L472.9,101.5 L472.1,103.8 L471.2,106.1 L470.2,108.4 L469.2,110.6 L468.1,112.8 L466.9,115.0 L465.6,117.1 L464.2,119.1 L462.6,121.0 L460.9,122.8 L459.1,124.5 L457.1,126.1 L455.1,127.5 L452.9,128.8 L450.8,130.0 L448.5,131.1 L446.2,132.1 L443.9,133.0 L441.6,133.8 L439.2,134.6 L436.8,135.2 L434.4,135.8 L432.0,136.3 L429.5,136.8 L427.0,137.2 L424.6,137.5 L422.1,137.8 L419.6,138.0 L417.1,138.2 L414.6,138.3 L412.1,138.4 L409.6,138.4 L407.1,138.4 L404.7,138.4 L400.7,138.4Z" fill="#e6e6e6"/>
<path d="M400.6,137.9 L404.6,137.9 L407.1,137.9 L409.6,137.9 L412.1,137.9 L414.5,137.8 L417.0,137.7 L419.5,137.5 L422.0,137.3 L424.4,137.0 L426.9,136.7 L429.4,136.3 L431.8,135.8 L434.2,135.3 L436.6,134.7 L439.0,134.1 L441.4,133.4 L443.7,132.5 L446.0,131.6 L448.3,130.6 L450.5,129.5 L452.7,128.4 L454.8,127.1 L456.9,125.7 L458.8,124.1 L460.7,122.4 L462.3,120.6 L463.9,118.7 L465.3,116.7 L466.6,114.6 L467.7,112.5 L468.8,110.3 L469.8,108.0 L470.8,105.8 L471.7,103.5 L472.5,101.1 L473.2,98.8 L473.8,96.4 L474.4,94.0 L475.0,91.6 L475.5,89.2 L475.9,86.7 L476.3,84.3 L476.6,81.8 L476.9,79.3 L477.1,76.9 L477.4,74.4 L477.5,71.9 L477.7,69.4 L477.8,67.0 L477.9,64.5 L477.9,62.0 L478.0,59.5 L478.0,57.0 L478.0,54.5 L478.0,52.0 L478.0,49.6 L477.9,47.1 L477.9,44.6 L477.8,42.1 L477.8,39.6 L477.7,37.1 L477.7,34.6 L477.6,32.2 L477.5,29.7 L477.5,27.2 L477.5,24.7 L477.5,22.2 L477.5,19.7 L477.5,17.2 L477.5,14.7 L477.6,10.7 L479.4,10.7 L479.3,14.7 L479.3,17.2 L479.3,19.7 L479.3,22.2 L479.3,24.8 L479.3,27.3 L479.4,29.8 L479.4,32.3 L479.5,34.9 L479.5,37.4 L479.6,39.9 L479.6,42.4 L479.7,44.9 L479.7,47.5 L479.8,50.0 L479.8,52.5 L479.8,55.0 L479.8,57.6 L479.8,60.1 L479.7,62.6 L479.6,65.1 L479.6,67.7 L479.4,70.2 L479.3,72.7 L479.1,75.2 L478.9,77.7 L478.6,80.2 L478.3,82.7 L477.9,85.2 L477.5,87.7 L477.1,90.2 L476.6,92.7 L476.0,95.1 L475.4,97.5 L474.7,100.0 L473.9,102.3 L473.1,104.7 L472.2,107.0 L471.2,109.3 L470.1,111.5 L469.0,113.8 L467.7,115.9 L466.4,118.0 L464.9,120.0 L463.3,122.0 L461.6,123.8 L459.7,125.5 L457.8,127.1 L455.7,128.5 L453.5,129.8 L451.3,131.0 L449.1,132.2 L446.8,133.2 L444.4,134.1 L442.1,135.0 L439.7,135.7 L437.3,136.4 L434.8,137.0 L432.4,137.6 L429.9,138.0 L427.4,138.5 L424.9,138.8 L422.4,139.1 L419.9,139.3 L417.4,139.5 L414.8,139.6 L412.3,139.7 L409.8,139.7 L407.3,139.8 L404.8,139.7 L400.8,139.7Z" fill="#efefef"/>
<path d="M400.7,139.2 L404.7,139.2 L407.2,139.2 L409.7,139.2 L412.2,139.2 L414.8,139.1 L417.3,139.0 L419.8,138.8 L422.3,138.6 L424.8,138.3 L427.3,137.9 L429.7,137.5 L432.2,137.1 L434.6,136.5 L437.1,135.9 L439.5,135.3 L441.9,134.5 L444.2,133.7 L446.6,132.7 L448.9,131.7 L451.1,130.6 L453.3,129.4 L455.4,128.1 L457.5,126.7 L459.5,125.1 L461.3,123.4 L463.1,121.6 L464.6,119.7 L466.1,117.6 L467.4,115.5 L468.6,113.4 L469.7,111.2 L470.8,108.9 L471.8,106.7 L472.7,104.3 L473.5,102.0 L474.3,99.6 L474.9,97.2 L475.6,94.8 L476.1,92.4 L476.6,89.9 L477.1,87.4 L477.5,85.0 L477.8,82.5 L478.1,80.0 L478.4,77.5 L478.6,75.0 L478.8,72.5 L478.9,70.0 L479.0,67.5 L479.1,65.0 L479.2,62.4 L479.3,59.9 L479.3,57.4 L479.3,54.9 L479.3,52.4 L479.2,49.9 L479.2,47.4 L479.2,44.8 L479.1,42.3 L479.1,39.8 L479.0,37.3 L478.9,34.8 L478.9,32.3 L478.8,29.8 L478.8,27.3 L478.8,24.7 L478.8,22.2 L478.7,19.7 L478.8,17.2 L478.8,14.7 L478.9,10.7 L480.7,10.6 L480.6,14.6 L480.6,17.1 L480.6,19.7 L480.6,22.2 L480.6,24.8 L480.6,27.3 L480.7,29.9 L480.7,32.5 L480.8,35.0 L480.8,37.6 L480.9,40.1 L480.9,42.7 L481.0,45.2 L481.0,47.8 L481.1,50.3 L481.1,52.9 L481.1,55.4 L481.1,58.0 L481.0,60.5 L481.0,63.1 L480.9,65.6 L480.8,68.2 L480.7,70.7 L480.5,73.3 L480.3,75.8 L480.1,78.3 L479.8,80.9 L479.5,83.4 L479.1,85.9 L478.7,88.4 L478.2,90.9 L477.7,93.4 L477.1,95.9 L476.5,98.4 L475.7,100.8 L474.9,103.2 L474.1,105.6 L473.1,107.9 L472.1,110.2 L471.0,112.5 L469.8,114.7 L468.5,116.8 L467.2,119.0 L465.7,121.0 L464.1,122.9 L462.3,124.8 L460.4,126.5 L458.4,128.0 L456.3,129.5 L454.1,130.9 L451.9,132.1 L449.6,133.2 L447.3,134.3 L445.0,135.2 L442.6,136.1 L440.1,136.9 L437.7,137.6 L435.2,138.2 L432.8,138.8 L430.3,139.3 L427.8,139.7 L425.2,140.1 L422.7,140.4 L420.2,140.6 L417.6,140.8 L415.1,140.9 L412.5,141.0 L410.0,141.1 L407.4,141.1 L404.9,141.0 L400.9,141.0Z" fill="#f7f7f7"/>
<path d="M400.8,140.5 L404.8,140.5 L407.4,140.5 L409.9,140.5 L412.4,140.5 L415.0,140.4 L417.5,140.3 L420.1,140.1 L422.6,139.9 L425.1,139.6 L427.6,139.2 L430.1,138.8 L432.6,138.3 L435.1,137.8 L437.5,137.1 L440.0,136.4 L442.4,135.7 L444.7,134.8 L447.1,133.8 L449.4,132.8 L451.7,131.7 L453.9,130.4 L456.1,129.1 L458.1,127.7 L460.1,126.1 L462.0,124.4 L463.8,122.6 L465.4,120.6 L466.9,118.6 L468.2,116.5 L469.5,114.3 L470.6,112.1 L471.7,109.8 L472.7,107.5 L473.7,105.2 L474.5,102.8 L475.3,100.5 L476.0,98.0 L476.7,95.6 L477.3,93.1 L477.8,90.6 L478.2,88.2 L478.7,85.7 L479.0,83.1 L479.3,80.6 L479.6,78.1 L479.8,75.6 L480.0,73.0 L480.2,70.5 L480.3,68.0 L480.4,65.4 L480.5,62.9 L480.5,60.4 L480.6,57.8 L480.6,55.3 L480.6,52.7 L480.5,50.2 L480.5,47.6 L480.5,45.1 L480.4,42.6 L480.4,40.0 L480.3,37.5 L480.2,34.9 L480.2,32.4 L480.1,29.9 L480.1,27.3 L480.1,24.8 L480.0,22.2 L480.0,19.7 L480.1,17.2 L480.1,14.6 L480.1,10.6 L482.0,10.5 L481.9,14.5 L481.9,17.1 L481.9,19.7 L481.9,22.3 L481.9,24.8 L481.9,27.4 L482.0,30.0 L482.0,32.6 L482.1,35.2 L482.1,37.7 L482.2,40.3 L482.2,42.9 L482.3,45.5 L482.3,48.1 L482.4,50.6 L482.4,53.2 L482.4,55.8 L482.4,58.4 L482.3,61.0 L482.3,63.5 L482.2,66.1 L482.1,68.7 L481.9,71.3 L481.8,73.8 L481.6,76.4 L481.3,79.0 L481.0,81.5 L480.7,84.1 L480.3,86.6 L479.9,89.2 L479.4,91.7 L478.9,94.2 L478.2,96.7 L477.6,99.2 L476.8,101.6 L476.0,104.0 L475.1,106.4 L474.1,108.8 L473.0,111.1 L471.9,113.4 L470.7,115.6 L469.4,117.8 L468.0,119.9 L466.4,121.9 L464.8,123.9 L463.0,125.7 L461.1,127.5 L459.0,129.0 L456.9,130.5 L454.7,131.9 L452.5,133.2 L450.2,134.3 L447.8,135.4 L445.5,136.4 L443.1,137.3 L440.6,138.1 L438.2,138.8 L435.7,139.5 L433.2,140.0 L430.6,140.6 L428.1,141.0 L425.6,141.4 L423.0,141.7 L420.4,141.9 L417.9,142.1 L415.3,142.3 L412.7,142.3 L410.1,142.4 L407.6,142.4 L405.0,142.3 L401.0,142.3Z" fill="#fcfcfc"/>
<path d="M400.9,141.7 L404.9,141.8 L407.5,141.8 L410.1,141.8 L412.6,141.8 L415.2,141.7 L417.8,141.6 L420.3,141.4 L422.9,141.2 L425.4,140.9 L428.0,140.5 L430.5,140.1 L433.0,139.5 L435.5,139.0 L438.0,138.3 L440.4,137.6 L442.9,136.8 L445.3,135.9 L447.6,134.9 L450.0,133.9 L452.2,132.7 L454.5,131.5 L456.7,130.1 L458.8,128.6 L460.8,127.1 L462.7,125.3 L464.5,123.5 L466.1,121.6 L467.6,119.5 L469.0,117.4 L470.3,115.2 L471.5,113.0 L472.7,110.7 L473.7,108.4 L474.7,106.1 L475.6,103.7 L476.4,101.3 L477.1,98.8 L477.8,96.4 L478.4,93.9 L478.9,91.4 L479.4,88.9 L479.8,86.3 L480.2,83.8 L480.6,81.3 L480.8,78.7 L481.1,76.2 L481.3,73.6 L481.4,71.0 L481.6,68.5 L481.7,65.9 L481.8,63.3 L481.8,60.8 L481.8,58.2 L481.9,55.6 L481.9,53.1 L481.8,50.5 L481.8,47.9 L481.8,45.4 L481.7,42.8 L481.7,40.2 L481.6,37.7 L481.5,35.1 L481.5,32.5 L481.4,30.0 L481.4,27.4 L481.4,24.8 L481.3,22.3 L481.3,19.7 L481.4,17.1 L481.4,14.5 L481.4,10.5 L483.3,10.5 L483.2,14.5 L483.2,17.1 L483.2,19.7 L483.2,22.3 L483.2,24.9 L483.2,27.5 L483.3,30.1 L483.3,32.7 L483.4,35.3 L483.4,37.9 L483.5,40.5 L483.5,43.1 L483.6,45.7 L483.6,48.3 L483.7,51.0 L483.7,53.6 L483.7,56.2 L483.7,58.8 L483.6,61.4 L483.6,64.0 L483.5,66.6 L483.3,69.2 L483.2,71.8 L483.0,74.4 L482.8,77.0 L482.6,79.6 L482.3,82.2 L481.9,84.7 L481.5,87.3 L481.1,89.9 L480.6,92.4 L480.0,95.0 L479.4,97.5 L478.6,100.0 L477.9,102.5 L477.0,104.9 L476.1,107.3 L475.1,109.7 L474.0,112.0 L472.8,114.3 L471.5,116.5 L470.2,118.7 L468.7,120.8 L467.2,122.9 L465.5,124.9 L463.7,126.7 L461.7,128.4 L459.7,130.0 L457.5,131.5 L455.3,132.9 L453.1,134.2 L450.7,135.4 L448.4,136.5 L446.0,137.5 L443.5,138.4 L441.1,139.3 L438.6,140.0 L436.1,140.7 L433.6,141.3 L431.0,141.8 L428.5,142.3 L425.9,142.7 L423.3,143.0 L420.7,143.2 L418.1,143.4 L415.5,143.6 L412.9,143.7 L410.3,143.7 L407.7,143.7 L405.1,143.6 L401.1,143.5Z" fill="#fefefe"/>
<path d="M401.1,143.0 L405.0,143.1 L407.6,143.1 L410.2,143.2 L412.8,143.1 L415.4,143.0 L418.0,142.9 L420.6,142.7 L423.2,142.5 L425.8,142.1 L428.3,141.8 L430.9,141.3 L433.4,140.8 L435.9,140.2 L438.4,139.5 L440.9,138.8 L443.4,138.0 L445.8,137.0 L448.2,136.1 L450.5,135.0 L452.8,133.8 L455.1,132.5 L457.3,131.1 L459.4,129.6 L461.4,128.0 L463.4,126.3 L465.2,124.5 L466.9,122.5 L468.4,120.5 L469.9,118.3 L471.2,116.2 L472.4,113.9 L473.6,111.7 L474.7,109.3 L475.7,107.0 L476.6,104.6 L477.4,102.1 L478.2,99.7 L478.9,97.2 L479.5,94.7 L480.1,92.1 L480.6,89.6 L481.0,87.0 L481.4,84.5 L481.8,81.9 L482.1,79.3 L482.3,76.8 L482.5,74.2 L482.7,71.6 L482.8,69.0 L483.0,66.4 L483.0,63.8 L483.1,61.2 L483.1,58.6 L483.2,56.0 L483.2,53.4 L483.1,50.8 L483.1,48.2 L483.1,45.6 L483.0,43.0 L483.0,40.4 L482.9,37.8 L482.8,35.2 L482.8,32.7 L482.7,30.1 L482.7,27.5 L482.7,24.9 L482.6,22.3 L482.6,19.7 L482.7,17.1 L482.7,14.5 L482.7,10.5 L484.6,10.4 L484.5,14.4 L484.5,17.0 L484.5,19.7 L484.5,22.3 L484.5,24.9 L484.5,27.6 L484.6,30.2 L484.6,32.8 L484.7,35.5 L484.7,38.1 L484.8,40.7 L484.8,43.4 L484.9,46.0 L484.9,48.6 L484.9,51.3 L485.0,53.9 L485.0,56.5 L484.9,59.2 L484.9,61.8 L484.8,64.4 L484.7,67.1 L484.6,69.7 L484.5,72.3 L484.3,75.0 L484.1,77.6 L483.8,80.2 L483.5,82.8 L483.1,85.4 L482.7,88.0 L482.2,90.6 L481.7,93.2 L481.1,95.7 L480.5,98.3 L479.7,100.8 L478.9,103.3 L478.1,105.8 L477.1,108.2 L476.0,110.6 L474.9,112.9 L473.7,115.2 L472.4,117.5 L471.0,119.7 L469.5,121.8 L467.9,123.8 L466.2,125.8 L464.3,127.7 L462.4,129.4 L460.3,131.0 L458.1,132.6 L455.9,134.0 L453.6,135.3 L451.3,136.5 L448.9,137.6 L446.5,138.6 L444.0,139.6 L441.6,140.4 L439.1,141.2 L436.5,141.9 L434.0,142.5 L431.4,143.1 L428.8,143.5 L426.2,143.9 L423.6,144.3 L421.0,144.5 L418.4,144.7 L415.7,144.9 L413.1,145.0 L410.5,145.0 L407.8,145.0 L405.2,144.9 L401.2,144.8Z" fill="#fefefe"/>
<path d="M401.2,144.3 L405.2,144.4 L407.8,144.4 L410.4,144.5 L413.0,144.4 L415.6,144.4 L418.3,144.2 L420.9,144.0 L423.5,143.8 L426.1,143.4 L428.7,143.0 L431.2,142.6 L433.8,142.0 L436.4,141.4 L438.9,140.7 L441.4,140.0 L443.8,139.1 L446.3,138.2 L448.7,137.2 L451.1,136.0 L453.4,134.8 L455.7,133.6 L457.9,132.2 L460.0,130.6 L462.1,129.0 L464.1,127.3 L465.9,125.4 L467.6,123.5 L469.2,121.4 L470.7,119.3 L472.0,117.1 L473.3,114.9 L474.5,112.6 L475.7,110.2 L476.7,107.8 L477.6,105.4 L478.5,103.0 L479.3,100.5 L480.0,98.0 L480.7,95.4 L481.3,92.9 L481.8,90.3 L482.2,87.7 L482.6,85.2 L483.0,82.6 L483.3,80.0 L483.6,77.3 L483.8,74.7 L484.0,72.1 L484.1,69.5 L484.2,66.9 L484.3,64.3 L484.4,61.6 L484.4,59.0 L484.4,56.4 L484.4,53.8 L484.4,51.1 L484.4,48.5 L484.4,45.9 L484.3,43.3 L484.3,40.6 L484.2,38.0 L484.1,35.4 L484.1,32.8 L484.0,30.2 L484.0,27.5 L484.0,24.9 L483.9,22.3 L483.9,19.7 L483.9,17.0 L484.0,14.4 L484.0,10.4 L485.8,10.3 L485.8,14.3 L485.8,17.0 L485.8,19.6 L485.8,22.3 L485.8,25.0 L485.8,27.6 L485.9,30.3 L485.9,33.0 L486.0,35.6 L486.0,38.3 L486.1,40.9 L486.1,43.6 L486.2,46.3 L486.2,48.9 L486.2,51.6 L486.3,54.2 L486.2,56.9 L486.2,59.6 L486.2,62.2 L486.1,64.9 L486.0,67.6 L485.9,70.2 L485.7,72.9 L485.5,75.5 L485.3,78.2 L485.0,80.8 L484.7,83.5 L484.3,86.1 L483.9,88.7 L483.4,91.3 L482.9,93.9 L482.3,96.5 L481.6,99.1 L480.8,101.6 L480.0,104.1 L479.1,106.6 L478.1,109.1 L477.0,111.5 L475.8,113.8 L474.6,116.1 L473.3,118.4 L471.8,120.6 L470.3,122.7 L468.7,124.8 L466.9,126.8 L465.0,128.6 L463.0,130.4 L460.9,132.0 L458.7,133.6 L456.5,135.0 L454.2,136.3 L451.8,137.6 L449.4,138.7 L447.0,139.8 L444.5,140.7 L442.0,141.6 L439.5,142.4 L436.9,143.1 L434.4,143.8 L431.8,144.3 L429.2,144.8 L426.5,145.2 L423.9,145.6 L421.3,145.8 L418.6,146.1 L415.9,146.2 L413.3,146.3 L410.6,146.3 L408.0,146.3 L405.3,146.2 L401.3,146.1Z" fill="#f8f8f8"/>
<path d="M401.3,145.6 L405.3,145.7 L407.9,145.7 L410.6,145.8 L413.2,145.8 L415.9,145.7 L418.5,145.5 L421.1,145.3 L423.8,145.1 L426.4,144.7 L429.0,144.3 L431.6,143.8 L434.2,143.3 L436.8,142.6 L439.3,141.9 L441.8,141.1 L444.3,140.3 L446.8,139.3 L449.2,138.3 L451.6,137.1 L454.0,135.9 L456.3,134.6 L458.5,133.2 L460.7,131.6 L462.8,130.0 L464.7,128.3 L466.6,126.4 L468.4,124.4 L470.0,122.4 L471.5,120.2 L472.9,118.0 L474.2,115.8 L475.5,113.5 L476.6,111.1 L477.7,108.7 L478.7,106.3 L479.6,103.8 L480.4,101.3 L481.1,98.8 L481.8,96.2 L482.4,93.6 L482.9,91.0 L483.4,88.4 L483.8,85.8 L484.2,83.2 L484.5,80.6 L484.8,77.9 L485.0,75.3 L485.2,72.7 L485.4,70.0 L485.5,67.4 L485.6,64.7 L485.7,62.1 L485.7,59.4 L485.7,56.8 L485.7,54.1 L485.7,51.5 L485.7,48.8 L485.7,46.2 L485.6,43.5 L485.6,40.9 L485.5,38.2 L485.4,35.6 L485.4,32.9 L485.3,30.3 L485.3,27.6 L485.3,25.0 L485.2,22.3 L485.2,19.6 L485.2,17.0 L485.3,14.3 L485.3,10.3 L487.1,10.3 L487.1,14.3 L487.1,16.9 L487.0,19.6 L487.1,22.3 L487.1,25.0 L487.1,27.7 L487.2,30.4 L487.2,33.1 L487.3,35.8 L487.3,38.5 L487.4,41.1 L487.4,43.8 L487.5,46.5 L487.5,49.2 L487.5,51.9 L487.5,54.6 L487.5,57.3 L487.5,60.0 L487.5,62.7 L487.4,65.3 L487.3,68.0 L487.1,70.7 L487.0,73.4 L486.8,76.1 L486.5,78.8 L486.2,81.4 L485.9,84.1 L485.5,86.8 L485.1,89.4 L484.6,92.0 L484.0,94.7 L483.4,97.3 L482.7,99.9 L481.9,102.4 L481.1,105.0 L480.1,107.5 L479.1,109.9 L478.0,112.4 L476.8,114.7 L475.5,117.1 L474.1,119.3 L472.6,121.5 L471.1,123.7 L469.4,125.8 L467.6,127.7 L465.7,129.6 L463.7,131.4 L461.6,133.0 L459.4,134.6 L457.1,136.0 L454.8,137.4 L452.4,138.6 L450.0,139.8 L447.5,140.9 L445.0,141.9 L442.5,142.8 L440.0,143.6 L437.4,144.3 L434.8,145.0 L432.2,145.6 L429.5,146.1 L426.9,146.5 L424.2,146.9 L421.5,147.2 L418.9,147.4 L416.2,147.5 L413.5,147.6 L410.8,147.6 L408.1,147.6 L405.4,147.5 L401.4,147.3Z" fill="#f2f2f2"/>
<path d="M401.4,146.8 L405.4,146.9 L408.0,147.0 L410.7,147.1 L413.4,147.1 L416.1,147.0 L418.8,146.8 L421.4,146.6 L424.1,146.3 L426.7,146.0 L429.4,145.6 L432.0,145.1 L434.6,144.5 L437.2,143.8 L439.8,143.1 L442.3,142.3 L444.8,141.4 L447.3,140.4 L449.8,139.4 L452.2,138.2 L454.5,137.0 L456.9,135.6 L459.1,134.2 L461.3,132.6 L463.4,131.0 L465.4,129.2 L467.3,127.4 L469.1,125.4 L470.8,123.3 L472.3,121.2 L473.8,119.0 L475.1,116.7 L476.4,114.4 L477.6,112.0 L478.7,109.6 L479.7,107.1 L480.6,104.6 L481.5,102.1 L482.3,99.5 L482.9,97.0 L483.6,94.4 L484.1,91.8 L484.6,89.1 L485.0,86.5 L485.4,83.8 L485.8,81.2 L486.0,78.5 L486.3,75.9 L486.5,73.2 L486.6,70.5 L486.8,67.8 L486.9,65.2 L486.9,62.5 L487.0,59.8 L487.0,57.1 L487.0,54.5 L487.0,51.8 L487.0,49.1 L487.0,46.4 L486.9,43.7 L486.9,41.1 L486.8,38.4 L486.7,35.7 L486.7,33.0 L486.6,30.4 L486.6,27.7 L486.6,25.0 L486.5,22.3 L486.5,19.6 L486.5,17.0 L486.6,14.3 L486.6,10.3 L488.4,10.2 L488.4,14.2 L488.4,16.9 L488.3,19.6 L488.4,22.3 L488.4,25.1 L488.4,27.8 L488.5,30.5 L488.5,33.2 L488.6,35.9 L488.6,38.6 L488.7,41.4 L488.7,44.1 L488.8,46.8 L488.8,49.5 L488.8,52.2 L488.8,54.9 L488.8,57.7 L488.8,60.4 L488.7,63.1 L488.7,65.8 L488.6,68.5 L488.4,71.2 L488.2,73.9 L488.0,76.6 L487.8,79.4 L487.5,82.1 L487.1,84.7 L486.7,87.4 L486.3,90.1 L485.8,92.8 L485.2,95.4 L484.5,98.0 L483.8,100.7 L483.0,103.2 L482.1,105.8 L481.2,108.3 L480.1,110.8 L479.0,113.2 L477.7,115.6 L476.4,118.0 L475.0,120.2 L473.5,122.5 L471.9,124.6 L470.1,126.7 L468.3,128.7 L466.4,130.6 L464.3,132.4 L462.2,134.0 L460.0,135.6 L457.7,137.1 L455.3,138.5 L453.0,139.7 L450.5,140.9 L448.0,142.0 L445.5,143.0 L443.0,143.9 L440.4,144.8 L437.8,145.5 L435.2,146.2 L432.5,146.8 L429.9,147.3 L427.2,147.8 L424.5,148.2 L421.8,148.5 L419.1,148.7 L416.4,148.8 L413.7,148.9 L411.0,148.9 L408.2,148.9 L405.5,148.7 L401.5,148.6Z" fill="#e9e9e9"/>
<path d="M401.5,148.1 L405.5,148.2 L408.2,148.3 L410.9,148.4 L413.6,148.4 L416.3,148.3 L419.0,148.2 L421.7,147.9 L424.4,147.6 L427.1,147.3 L429.7,146.8 L432.4,146.3 L435.0,145.7 L437.6,145.1 L440.2,144.3 L442.8,143.5 L445.3,142.6 L447.8,141.6 L450.3,140.5 L452.7,139.3 L455.1,138.0 L457.5,136.7 L459.7,135.2 L461.9,133.6 L464.1,132.0 L466.1,130.2 L468.0,128.3 L469.8,126.3 L471.5,124.2 L473.1,122.1 L474.6,119.9 L476.0,117.6 L477.3,115.3 L478.6,112.9 L479.7,110.5 L480.8,108.0 L481.7,105.5 L482.6,102.9 L483.4,100.3 L484.1,97.7 L484.7,95.1 L485.3,92.5 L485.8,89.8 L486.2,87.2 L486.6,84.5 L487.0,81.8 L487.3,79.1 L487.5,76.4 L487.7,73.7 L487.9,71.0 L488.0,68.3 L488.2,65.6 L488.2,62.9 L488.3,60.2 L488.3,57.5 L488.3,54.8 L488.3,52.1 L488.3,49.4 L488.3,46.7 L488.2,44.0 L488.2,41.3 L488.1,38.6 L488.0,35.9 L488.0,33.2 L487.9,30.4 L487.9,27.7 L487.9,25.0 L487.8,22.3 L487.8,19.6 L487.8,16.9 L487.9,14.2 L487.9,10.2 L489.7,10.1 L489.7,14.1 L489.7,16.9 L489.6,19.6 L489.6,22.4 L489.7,25.1 L489.7,27.8 L489.8,30.6 L489.8,33.3 L489.9,36.1 L489.9,38.8 L490.0,41.6 L490.0,44.3 L490.1,47.1 L490.1,49.8 L490.1,52.5 L490.1,55.3 L490.1,58.0 L490.1,60.8 L490.0,63.5 L489.9,66.3 L489.8,69.0 L489.7,71.7 L489.5,74.5 L489.3,77.2 L489.0,79.9 L488.7,82.7 L488.3,85.4 L487.9,88.1 L487.5,90.8 L486.9,93.5 L486.3,96.2 L485.7,98.8 L484.9,101.4 L484.1,104.1 L483.2,106.6 L482.2,109.2 L481.1,111.7 L479.9,114.1 L478.7,116.5 L477.3,118.9 L475.8,121.2 L474.3,123.4 L472.6,125.6 L470.9,127.7 L469.0,129.7 L467.1,131.6 L465.0,133.4 L462.8,135.0 L460.6,136.6 L458.3,138.1 L455.9,139.5 L453.5,140.8 L451.1,142.0 L448.6,143.1 L446.0,144.2 L443.4,145.1 L440.8,146.0 L438.2,146.8 L435.6,147.5 L432.9,148.1 L430.2,148.6 L427.5,149.1 L424.8,149.5 L422.1,149.8 L419.3,150.0 L416.6,150.2 L413.9,150.2 L411.1,150.2 L408.4,150.2 L405.6,150.0 L401.7,149.9Z" fill="#dedede"/>
<path d="M401.6,149.4 L405.6,149.5 L408.3,149.7 L411.1,149.7 L413.8,149.7 L416.5,149.6 L419.2,149.5 L422.0,149.2 L424.7,148.9 L427.4,148.6 L430.1,148.1 L432.8,147.6 L435.4,147.0 L438.1,146.3 L440.7,145.5 L443.3,144.6 L445.8,143.7 L448.3,142.7 L450.8,141.6 L453.3,140.4 L455.7,139.1 L458.0,137.7 L460.3,136.2 L462.6,134.6 L464.7,133.0 L466.8,131.2 L468.7,129.3 L470.6,127.3 L472.3,125.2 L474.0,123.0 L475.5,120.8 L476.9,118.5 L478.3,116.2 L479.5,113.8 L480.7,111.3 L481.8,108.8 L482.8,106.3 L483.7,103.7 L484.5,101.1 L485.2,98.5 L485.9,95.9 L486.5,93.2 L487.0,90.5 L487.5,87.8 L487.9,85.1 L488.2,82.4 L488.5,79.7 L488.8,77.0 L489.0,74.3 L489.2,71.5 L489.3,68.8 L489.4,66.1 L489.5,63.3 L489.6,60.6 L489.6,57.9 L489.6,55.1 L489.6,52.4 L489.6,49.7 L489.6,46.9 L489.5,44.2 L489.5,41.5 L489.4,38.7 L489.3,36.0 L489.3,33.3 L489.2,30.5 L489.2,27.8 L489.2,25.1 L489.1,22.3 L489.1,19.6 L489.1,16.9 L489.2,14.1 L489.2,10.1 L491.0,10.1 L491.0,14.1 L490.9,16.8 L490.9,19.6 L490.9,22.4 L491.0,25.1 L491.0,27.9 L491.1,30.7 L491.1,33.5 L491.2,36.2 L491.2,39.0 L491.3,41.8 L491.3,44.5 L491.4,47.3 L491.4,50.1 L491.4,52.9 L491.4,55.6 L491.4,58.4 L491.4,61.2 L491.3,63.9 L491.2,66.7 L491.1,69.5 L490.9,72.2 L490.8,75.0 L490.5,77.8 L490.3,80.5 L489.9,83.3 L489.6,86.0 L489.1,88.8 L488.7,91.5 L488.1,94.2 L487.5,96.9 L486.8,99.6 L486.0,102.2 L485.2,104.9 L484.3,107.5 L483.2,110.0 L482.1,112.5 L480.9,115.0 L479.6,117.4 L478.2,119.8 L476.7,122.1 L475.1,124.3 L473.4,126.5 L471.6,128.6 L469.7,130.6 L467.7,132.5 L465.6,134.3 L463.5,136.0 L461.2,137.7 L458.9,139.2 L456.5,140.6 L454.1,141.9 L451.6,143.1 L449.1,144.3 L446.5,145.3 L443.9,146.3 L441.3,147.2 L438.7,148.0 L436.0,148.7 L433.3,149.3 L430.6,149.9 L427.8,150.4 L425.1,150.8 L422.4,151.1 L419.6,151.3 L416.8,151.5 L414.1,151.5 L411.3,151.5 L408.5,151.5 L405.8,151.3 L401.8,151.1Z" fill="#d4d4d4"/>
<path d="M401.7,150.6 L405.7,150.8 L408.5,151.0 L411.2,151.0 L414.0,151.0 L416.7,150.9 L419.5,150.8 L422.2,150.5 L425.0,150.2 L427.7,149.8 L430.4,149.4 L433.1,148.8 L435.8,148.2 L438.5,147.5 L441.1,146.7 L443.7,145.8 L446.3,144.9 L448.9,143.8 L451.4,142.7 L453.8,141.5 L456.3,140.1 L458.6,138.7 L461.0,137.2 L463.2,135.6 L465.4,133.9 L467.5,132.1 L469.5,130.2 L471.3,128.2 L473.1,126.1 L474.8,124.0 L476.4,121.7 L477.8,119.4 L479.2,117.1 L480.5,114.7 L481.7,112.2 L482.8,109.7 L483.8,107.1 L484.8,104.5 L485.6,101.9 L486.4,99.3 L487.0,96.6 L487.6,93.9 L488.2,91.2 L488.7,88.5 L489.1,85.8 L489.4,83.0 L489.8,80.3 L490.0,77.5 L490.3,74.8 L490.4,72.0 L490.6,69.3 L490.7,66.5 L490.8,63.8 L490.9,61.0 L490.9,58.3 L490.9,55.5 L490.9,52.7 L490.9,50.0 L490.9,47.2 L490.8,44.4 L490.8,41.7 L490.7,38.9 L490.6,36.2 L490.6,33.4 L490.5,30.6 L490.5,27.9 L490.5,25.1 L490.4,22.4 L490.4,19.6 L490.4,16.8 L490.5,14.1 L490.5,10.1 L492.3,10.0 L492.3,14.0 L492.2,16.8 L492.2,19.6 L492.2,22.4 L492.3,25.2 L492.3,28.0 L492.4,30.8 L492.4,33.6 L492.5,36.4 L492.5,39.2 L492.6,42.0 L492.6,44.8 L492.7,47.6 L492.7,50.4 L492.7,53.2 L492.7,56.0 L492.7,58.8 L492.7,61.6 L492.6,64.4 L492.5,67.2 L492.4,70.0 L492.2,72.8 L492.0,75.6 L491.8,78.3 L491.5,81.1 L491.2,83.9 L490.8,86.7 L490.3,89.4 L489.8,92.2 L489.3,94.9 L488.6,97.6 L487.9,100.3 L487.2,103.0 L486.3,105.7 L485.3,108.3 L484.3,110.9 L483.1,113.4 L481.9,115.9 L480.5,118.3 L479.1,120.7 L477.6,123.0 L475.9,125.3 L474.2,127.5 L472.4,129.6 L470.5,131.6 L468.4,133.5 L466.3,135.3 L464.1,137.0 L461.8,138.7 L459.5,140.2 L457.1,141.6 L454.6,143.0 L452.1,144.2 L449.6,145.4 L447.0,146.5 L444.4,147.5 L441.7,148.4 L439.1,149.2 L436.4,149.9 L433.7,150.6 L430.9,151.2 L428.2,151.6 L425.4,152.1 L422.6,152.4 L419.8,152.6 L417.0,152.8 L414.2,152.9 L411.4,152.9 L408.7,152.8 L405.9,152.6 L401.9,152.4Z" fill="#c9c9c9"/>
<path d="M401.8,151.9 L405.8,152.1 L408.6,152.3 L411.4,152.3 L414.2,152.3 L417.0,152.3 L419.7,152.1 L422.5,151.9 L425.3,151.5 L428.0,151.1 L430.8,150.6 L433.5,150.1 L436.2,149.4 L438.9,148.7 L441.6,147.9 L444.2,147.0 L446.8,146.0 L449.4,144.9 L451.9,143.8 L454.4,142.5 L456.8,141.2 L459.2,139.8 L461.6,138.3 L463.8,136.6 L466.0,134.9 L468.2,133.1 L470.2,131.2 L472.1,129.2 L473.9,127.1 L475.6,124.9 L477.2,122.7 L478.7,120.4 L480.2,118.0 L481.5,115.6 L482.7,113.1 L483.9,110.5 L484.9,108.0 L485.8,105.4 L486.7,102.7 L487.5,100.0 L488.2,97.3 L488.8,94.6 L489.4,91.9 L489.9,89.2 L490.3,86.4 L490.7,83.7 L491.0,80.9 L491.3,78.1 L491.5,75.3 L491.7,72.6 L491.9,69.8 L492.0,67.0 L492.1,64.2 L492.1,61.4 L492.2,58.6 L492.2,55.8 L492.2,53.0 L492.2,50.3 L492.2,47.5 L492.1,44.7 L492.1,41.9 L492.0,39.1 L491.9,36.3 L491.9,33.5 L491.8,30.7 L491.8,28.0 L491.7,25.2 L491.7,22.4 L491.7,19.6 L491.7,16.8 L491.8,14.0 L491.8,10.0 L493.6,9.9 L493.6,13.9 L493.5,16.7 L493.5,19.6 L493.5,22.4 L493.6,25.2 L493.6,28.1 L493.7,30.9 L493.7,33.7 L493.8,36.5 L493.8,39.4 L493.9,42.2 L493.9,45.0 L494.0,47.8 L494.0,50.7 L494.0,53.5 L494.0,56.3 L494.0,59.1 L493.9,62.0 L493.9,64.8 L493.8,67.6 L493.6,70.4 L493.5,73.3 L493.3,76.1 L493.0,78.9 L492.7,81.7 L492.4,84.5 L492.0,87.3 L491.5,90.1 L491.0,92.9 L490.5,95.6 L489.8,98.4 L489.1,101.1 L488.3,103.8 L487.4,106.5 L486.4,109.1 L485.3,111.7 L484.1,114.3 L482.9,116.8 L481.5,119.2 L480.0,121.6 L478.4,124.0 L476.7,126.2 L475.0,128.4 L473.1,130.5 L471.2,132.5 L469.1,134.5 L467.0,136.3 L464.7,138.0 L462.4,139.7 L460.1,141.2 L457.6,142.7 L455.2,144.1 L452.7,145.3 L450.1,146.5 L447.5,147.6 L444.9,148.6 L442.2,149.6 L439.5,150.4 L436.8,151.2 L434.0,151.8 L431.3,152.4 L428.5,152.9 L425.7,153.3 L422.9,153.7 L420.1,153.9 L417.3,154.1 L414.4,154.2 L411.6,154.2 L408.8,154.1 L406.0,153.9 L402.0,153.7Z" fill="#bebebe"/>
<path d="M401.9,153.2 L405.9,153.4 L408.7,153.6 L411.5,153.6 L414.4,153.7 L417.2,153.6 L420.0,153.4 L422.8,153.2 L425.6,152.8 L428.4,152.4 L431.1,151.9 L433.9,151.3 L436.6,150.7 L439.3,149.9 L442.0,149.1 L444.7,148.2 L447.3,147.2 L449.9,146.1 L452.4,144.9 L455.0,143.6 L457.4,142.3 L459.8,140.8 L462.2,139.3 L464.5,137.6 L466.7,135.9 L468.8,134.1 L470.9,132.2 L472.8,130.1 L474.7,128.0 L476.4,125.8 L478.1,123.6 L479.6,121.3 L481.1,118.9 L482.5,116.4 L483.7,113.9 L484.9,111.4 L486.0,108.8 L486.9,106.2 L487.8,103.5 L488.6,100.8 L489.3,98.1 L490.0,95.4 L490.6,92.6 L491.1,89.8 L491.5,87.1 L491.9,84.3 L492.2,81.5 L492.5,78.7 L492.8,75.9 L493.0,73.1 L493.1,70.3 L493.3,67.4 L493.4,64.6 L493.4,61.8 L493.5,59.0 L493.5,56.2 L493.5,53.4 L493.5,50.6 L493.4,47.7 L493.4,44.9 L493.4,42.1 L493.3,39.3 L493.2,36.5 L493.2,33.7 L493.1,30.8 L493.1,28.0 L493.0,25.2 L493.0,22.4 L493.0,19.6 L493.0,16.8 L493.1,13.9 L493.1,9.9 L494.9,9.9 L494.9,13.9 L494.8,16.7 L494.8,19.6 L494.8,22.4 L494.9,25.3 L494.9,28.1 L494.9,31.0 L495.0,33.8 L495.1,36.7 L495.1,39.5 L495.2,42.4 L495.2,45.2 L495.3,48.1 L495.3,51.0 L495.3,53.8 L495.3,56.7 L495.3,59.5 L495.2,62.4 L495.2,65.2 L495.0,68.1 L494.9,70.9 L494.7,73.8 L494.5,76.6 L494.3,79.5 L494.0,82.3 L493.6,85.1 L493.2,88.0 L492.8,90.8 L492.2,93.6 L491.6,96.4 L491.0,99.1 L490.2,101.9 L489.4,104.6 L488.5,107.3 L487.5,110.0 L486.3,112.6 L485.1,115.2 L483.8,117.7 L482.4,120.2 L480.9,122.6 L479.3,124.9 L477.6,127.2 L475.8,129.3 L473.9,131.5 L471.9,133.5 L469.8,135.4 L467.6,137.3 L465.4,139.0 L463.0,140.7 L460.7,142.3 L458.2,143.7 L455.7,145.1 L453.2,146.4 L450.6,147.6 L448.0,148.8 L445.3,149.8 L442.6,150.8 L439.9,151.6 L437.2,152.4 L434.4,153.1 L431.6,153.7 L428.8,154.2 L426.0,154.6 L423.2,155.0 L420.3,155.2 L417.5,155.4 L414.6,155.5 L411.8,155.5 L408.9,155.4 L406.1,155.2 L402.1,155.0Z" fill="#b3b3b3"/>
<path d="M402.0,154.4 L406.0,154.7 L408.9,154.9 L411.7,155.0 L414.6,155.0 L417.4,154.9 L420.2,154.7 L423.1,154.5 L425.9,154.1 L428.7,153.7 L431.5,153.2 L434.3,152.6 L437.0,151.9 L439.8,151.1 L442.5,150.3 L445.1,149.3 L447.8,148.3 L450.4,147.2 L453.0,146.0 L455.5,144.7 L458.0,143.3 L460.4,141.9 L462.8,140.3 L465.1,138.6 L467.4,136.9 L469.5,135.1 L471.6,133.1 L473.6,131.1 L475.5,129.0 L477.2,126.8 L478.9,124.5 L480.5,122.2 L482.0,119.8 L483.4,117.3 L484.7,114.8 L485.9,112.3 L487.0,109.6 L488.0,107.0 L488.9,104.3 L489.8,101.6 L490.5,98.8 L491.2,96.1 L491.8,93.3 L492.3,90.5 L492.7,87.7 L493.1,84.9 L493.5,82.1 L493.8,79.2 L494.0,76.4 L494.2,73.6 L494.4,70.7 L494.5,67.9 L494.6,65.1 L494.7,62.2 L494.8,59.4 L494.8,56.5 L494.8,53.7 L494.8,50.8 L494.7,48.0 L494.7,45.2 L494.7,42.3 L494.6,39.5 L494.5,36.6 L494.5,33.8 L494.4,30.9 L494.4,28.1 L494.3,25.3 L494.3,22.4 L494.3,19.6 L494.3,16.7 L494.4,13.9 L494.4,9.9 L496.2,9.8 L496.2,13.8 L496.1,16.7 L496.1,19.6 L496.1,22.4 L496.2,25.3 L496.2,28.2 L496.2,31.1 L496.3,34.0 L496.4,36.8 L496.4,39.7 L496.5,42.6 L496.5,45.5 L496.6,48.4 L496.6,51.2 L496.6,54.1 L496.6,57.0 L496.6,59.9 L496.5,62.8 L496.4,65.7 L496.3,68.5 L496.2,71.4 L496.0,74.3 L495.8,77.2 L495.5,80.0 L495.2,82.9 L494.9,85.8 L494.4,88.6 L494.0,91.4 L493.4,94.3 L492.8,97.1 L492.1,99.9 L491.4,102.7 L490.5,105.4 L489.6,108.1 L488.5,110.8 L487.4,113.4 L486.1,116.0 L484.8,118.6 L483.3,121.1 L481.8,123.5 L480.1,125.8 L478.4,128.1 L476.5,130.3 L474.6,132.4 L472.6,134.5 L470.5,136.4 L468.3,138.3 L466.0,140.0 L463.7,141.7 L461.3,143.3 L458.8,144.8 L456.3,146.2 L453.7,147.5 L451.1,148.8 L448.5,149.9 L445.8,151.0 L443.1,152.0 L440.4,152.8 L437.6,153.6 L434.8,154.3 L432.0,155.0 L429.2,155.5 L426.3,155.9 L423.5,156.3 L420.6,156.6 L417.7,156.7 L414.8,156.8 L411.9,156.8 L409.1,156.7 L406.2,156.5 L402.2,156.2Z" fill="#a8a8a8"/>
<path d="M402.2,155.7 L406.1,156.0 L409.0,156.2 L411.9,156.3 L414.7,156.3 L417.6,156.2 L420.5,156.0 L423.3,155.8 L426.2,155.4 L429.0,155.0 L431.8,154.5 L434.6,153.8 L437.4,153.1 L440.2,152.4 L442.9,151.5 L445.6,150.5 L448.3,149.5 L450.9,148.3 L453.5,147.1 L456.1,145.8 L458.6,144.4 L461.0,142.9 L463.4,141.3 L465.7,139.6 L468.0,137.9 L470.2,136.0 L472.3,134.1 L474.3,132.0 L476.2,129.9 L478.1,127.7 L479.8,125.4 L481.4,123.1 L483.0,120.7 L484.4,118.2 L485.7,115.7 L487.0,113.1 L488.1,110.5 L489.1,107.8 L490.1,105.1 L490.9,102.3 L491.7,99.6 L492.3,96.8 L492.9,94.0 L493.5,91.2 L493.9,88.3 L494.4,85.5 L494.7,82.7 L495.0,79.8 L495.3,76.9 L495.5,74.1 L495.7,71.2 L495.8,68.4 L495.9,65.5 L496.0,62.6 L496.1,59.7 L496.1,56.9 L496.1,54.0 L496.1,51.1 L496.0,48.3 L496.0,45.4 L496.0,42.5 L495.9,39.6 L495.8,36.8 L495.8,33.9 L495.7,31.0 L495.7,28.2 L495.6,25.3 L495.6,22.4 L495.6,19.6 L495.6,16.7 L495.7,13.8 L495.7,9.8 L497.5,9.7 L497.5,13.7 L497.4,16.6 L497.4,19.5 L497.4,22.4 L497.5,25.4 L497.5,28.3 L497.5,31.2 L497.6,34.1 L497.7,37.0 L497.7,39.9 L497.8,42.8 L497.8,45.7 L497.9,48.6 L497.9,51.5 L497.9,54.4 L497.9,57.4 L497.9,60.3 L497.8,63.2 L497.7,66.1 L497.6,69.0 L497.5,71.9 L497.3,74.8 L497.0,77.7 L496.8,80.6 L496.5,83.5 L496.1,86.4 L495.7,89.2 L495.2,92.1 L494.6,95.0 L494.0,97.8 L493.3,100.6 L492.5,103.4 L491.6,106.2 L490.6,108.9 L489.6,111.6 L488.4,114.3 L487.1,116.9 L485.8,119.5 L484.3,122.0 L482.7,124.4 L481.0,126.7 L479.2,129.0 L477.3,131.2 L475.4,133.4 L473.3,135.4 L471.2,137.4 L468.9,139.3 L466.6,141.0 L464.3,142.7 L461.8,144.3 L459.4,145.9 L456.8,147.3 L454.3,148.6 L451.6,149.9 L449.0,151.1 L446.3,152.2 L443.5,153.2 L440.8,154.1 L438.0,154.9 L435.2,155.6 L432.3,156.2 L429.5,156.8 L426.6,157.2 L423.7,157.6 L420.8,157.9 L417.9,158.0 L415.0,158.1 L412.1,158.1 L409.2,158.0 L406.3,157.8 L402.3,157.5Z" fill="#9d9d9d"/>
<path d="M402.3,157.0 L406.3,157.3 L409.1,157.5 L412.0,157.6 L414.9,157.6 L417.8,157.5 L420.7,157.3 L423.6,157.1 L426.5,156.7 L429.4,156.3 L432.2,155.7 L435.0,155.1 L437.8,154.4 L440.6,153.6 L443.4,152.7 L446.1,151.7 L448.8,150.6 L451.4,149.5 L454.0,148.2 L456.6,146.9 L459.1,145.4 L461.6,143.9 L464.0,142.3 L466.4,140.6 L468.7,138.9 L470.9,137.0 L473.0,135.0 L475.1,133.0 L477.0,130.9 L478.9,128.7 L480.7,126.4 L482.3,124.0 L483.9,121.6 L485.4,119.1 L486.7,116.6 L488.0,114.0 L489.2,111.3 L490.2,108.6 L491.2,105.9 L492.0,103.1 L492.8,100.3 L493.5,97.5 L494.1,94.7 L494.7,91.8 L495.2,89.0 L495.6,86.1 L496.0,83.2 L496.3,80.4 L496.5,77.5 L496.8,74.6 L496.9,71.7 L497.1,68.8 L497.2,65.9 L497.3,63.0 L497.3,60.1 L497.4,57.2 L497.4,54.3 L497.4,51.4 L497.3,48.5 L497.3,45.6 L497.3,42.7 L497.2,39.8 L497.1,36.9 L497.1,34.0 L497.0,31.1 L497.0,28.2 L496.9,25.3 L496.9,22.4 L496.9,19.5 L496.9,16.6 L496.9,13.7 L497.0,9.7 L498.8,9.7 L498.8,13.7 L498.7,16.6 L498.7,19.5 L498.7,22.5 L498.8,25.4 L498.8,28.3 L498.8,31.3 L498.9,34.2 L499.0,37.1 L499.0,40.1 L499.1,43.0 L499.1,46.0 L499.2,48.9 L499.2,51.8 L499.2,54.8 L499.2,57.7 L499.1,60.6 L499.1,63.6 L499.0,66.5 L498.9,69.4 L498.7,72.4 L498.5,75.3 L498.3,78.2 L498.0,81.2 L497.7,84.1 L497.3,87.0 L496.9,89.9 L496.4,92.8 L495.8,95.7 L495.2,98.5 L494.4,101.4 L493.6,104.2 L492.7,107.0 L491.7,109.8 L490.7,112.5 L489.5,115.2 L488.2,117.8 L486.7,120.4 L485.2,122.9 L483.6,125.3 L481.9,127.7 L480.0,130.0 L478.1,132.2 L476.1,134.3 L474.0,136.4 L471.8,138.4 L469.6,140.2 L467.3,142.0 L464.9,143.8 L462.4,145.4 L459.9,146.9 L457.4,148.4 L454.8,149.8 L452.2,151.0 L449.5,152.2 L446.7,153.3 L444.0,154.3 L441.2,155.3 L438.4,156.1 L435.6,156.9 L432.7,157.5 L429.8,158.1 L426.9,158.5 L424.0,158.9 L421.1,159.2 L418.1,159.4 L415.2,159.4 L412.3,159.4 L409.3,159.3 L406.4,159.1 L402.4,158.8Z" fill="#8f8f8f"/>
<path d="M402.4,158.3 L406.4,158.5 L409.3,158.8 L412.2,158.9 L415.1,158.9 L418.1,158.8 L421.0,158.7 L423.9,158.4 L426.8,158.0 L429.7,157.6 L432.6,157.0 L435.4,156.4 L438.2,155.6 L441.0,154.8 L443.8,153.9 L446.6,152.9 L449.3,151.8 L451.9,150.6 L454.6,149.3 L457.2,148.0 L459.7,146.5 L462.2,145.0 L464.6,143.3 L467.0,141.6 L469.3,139.8 L471.6,138.0 L473.7,136.0 L475.8,133.9 L477.8,131.8 L479.7,129.6 L481.5,127.3 L483.2,124.9 L484.8,122.5 L486.4,120.0 L487.8,117.4 L489.0,114.8 L490.2,112.1 L491.3,109.4 L492.3,106.7 L493.2,103.9 L494.0,101.1 L494.7,98.2 L495.3,95.4 L495.9,92.5 L496.4,89.6 L496.8,86.7 L497.2,83.8 L497.5,80.9 L497.8,78.0 L498.0,75.1 L498.2,72.2 L498.4,69.3 L498.5,66.3 L498.6,63.4 L498.6,60.5 L498.7,57.6 L498.7,54.6 L498.7,51.7 L498.6,48.8 L498.6,45.9 L498.6,42.9 L498.5,40.0 L498.4,37.1 L498.4,34.2 L498.3,31.2 L498.3,28.3 L498.2,25.4 L498.2,22.5 L498.2,19.5 L498.2,16.6 L498.2,13.7 L498.3,9.7 L500.1,9.6 L500.1,13.6 L500.0,16.6 L500.0,19.5 L500.0,22.5 L500.1,25.4 L500.1,28.4 L500.1,31.4 L500.2,34.3 L500.3,37.3 L500.3,40.3 L500.4,43.2 L500.4,46.2 L500.5,49.2 L500.5,52.1 L500.5,55.1 L500.5,58.0 L500.4,61.0 L500.4,64.0 L500.3,66.9 L500.2,69.9 L500.0,72.9 L499.8,75.8 L499.6,78.8 L499.3,81.7 L498.9,84.7 L498.5,87.6 L498.1,90.5 L497.6,93.4 L497.0,96.4 L496.3,99.2 L495.6,102.1 L494.8,105.0 L493.8,107.8 L492.8,110.6 L491.7,113.3 L490.5,116.0 L489.2,118.7 L487.7,121.3 L486.2,123.8 L484.5,126.2 L482.7,128.6 L480.8,130.9 L478.9,133.1 L476.8,135.3 L474.7,137.3 L472.5,139.3 L470.2,141.2 L467.9,143.0 L465.5,144.8 L463.0,146.4 L460.5,148.0 L457.9,149.5 L455.3,150.9 L452.7,152.2 L450.0,153.4 L447.2,154.5 L444.4,155.5 L441.6,156.5 L438.8,157.3 L435.9,158.1 L433.0,158.8 L430.1,159.4 L427.2,159.8 L424.3,160.2 L421.3,160.5 L418.4,160.7 L415.4,160.8 L412.4,160.7 L409.5,160.6 L406.5,160.4 L402.5,160.0Z" fill="#7c7c7c"/>
<path d="M402.5,159.5 L406.5,159.8 L409.4,160.1 L412.4,160.2 L415.3,160.2 L418.3,160.1 L421.2,160.0 L424.2,159.7 L427.1,159.3 L430.0,158.8 L432.9,158.3 L435.8,157.6 L438.6,156.9 L441.5,156.0 L444.3,155.1 L447.0,154.0 L449.8,152.9 L452.5,151.7 L455.1,150.4 L457.7,149.0 L460.3,147.6 L462.8,146.0 L465.2,144.4 L467.6,142.6 L470.0,140.8 L472.2,138.9 L474.4,137.0 L476.5,134.9 L478.6,132.7 L480.5,130.5 L482.4,128.2 L484.1,125.9 L485.8,123.4 L487.3,120.9 L488.8,118.3 L490.1,115.7 L491.3,113.0 L492.4,110.2 L493.4,107.5 L494.3,104.7 L495.1,101.8 L495.9,99.0 L496.5,96.1 L497.1,93.2 L497.6,90.3 L498.1,87.4 L498.4,84.4 L498.8,81.5 L499.1,78.6 L499.3,75.6 L499.5,72.7 L499.6,69.7 L499.8,66.8 L499.9,63.8 L499.9,60.9 L500.0,57.9 L500.0,55.0 L500.0,52.0 L499.9,49.0 L499.9,46.1 L499.9,43.1 L499.8,40.2 L499.7,37.2 L499.7,34.3 L499.6,31.3 L499.6,28.4 L499.5,25.4 L499.5,22.5 L499.5,19.5 L499.5,16.6 L499.5,13.6 L499.6,9.6 L501.4,9.5 L501.4,13.5 L501.3,16.5 L501.3,19.5 L501.3,22.5 L501.4,25.5 L501.4,28.5 L501.4,31.5 L501.5,34.5 L501.6,37.5 L501.6,40.4 L501.7,43.4 L501.7,46.4 L501.8,49.4 L501.8,52.4 L501.8,55.4 L501.8,58.4 L501.7,61.4 L501.7,64.4 L501.6,67.4 L501.4,70.4 L501.3,73.3 L501.1,76.3 L500.8,79.3 L500.5,82.3 L500.2,85.3 L499.8,88.2 L499.3,91.2 L498.8,94.1 L498.2,97.1 L497.5,100.0 L496.7,102.9 L495.9,105.7 L495.0,108.6 L493.9,111.4 L492.8,114.1 L491.5,116.9 L490.2,119.5 L488.7,122.1 L487.1,124.7 L485.4,127.1 L483.6,129.5 L481.7,131.8 L479.7,134.1 L477.6,136.2 L475.4,138.3 L473.2,140.3 L470.9,142.2 L468.5,144.0 L466.1,145.8 L463.6,147.5 L461.1,149.0 L458.5,150.5 L455.9,152.0 L453.2,153.3 L450.5,154.5 L447.7,155.7 L444.9,156.7 L442.1,157.7 L439.2,158.6 L436.3,159.4 L433.4,160.0 L430.5,160.6 L427.5,161.1 L424.5,161.5 L421.6,161.8 L418.6,162.0 L415.6,162.1 L412.6,162.0 L409.6,161.9 L406.6,161.6 L402.6,161.3Z" fill="#707070"/>
</g></g>
<path d="M403.2,121.4 L405.3,121.3 L407.5,121.1 L409.6,121.0 L411.7,120.9 L413.9,120.9 L416.0,120.8 L418.1,120.7 L420.3,120.6 L422.4,120.4 L424.5,120.2 L426.6,120.0 L428.8,119.8 L430.9,119.4 L433.0,119.1 L435.1,118.6 L437.1,118.1 L439.2,117.5 L441.2,116.8 L443.2,116.0 L445.1,115.1 L447.0,114.0 L448.8,112.9 L450.4,111.5 L451.9,110.0 L453.3,108.3 L454.4,106.5 L455.3,104.6 L456.1,102.6 L456.7,100.6 L457.3,98.5 L457.9,96.5 L458.3,94.4 L458.8,92.3 L459.2,90.2 L459.6,88.1 L459.9,86.0 L460.2,83.9 L460.4,81.7 L460.7,79.6 L460.9,77.5 L461.0,75.4 L461.2,73.2 L461.3,71.1 L461.4,69.0 L461.5,66.8 L461.5,64.7 L461.6,62.6 L461.6,60.4 L461.6,58.3 L461.6,56.2 L461.6,54.0 L461.5,51.9 L461.5,49.8 L461.4,47.6 L461.4,45.5 L461.3,43.4 L461.3,41.2 L461.2,39.1 L461.1,37.0 L461.1,34.8 L461.0,32.7 L461.0,30.5 L460.9,28.4 L460.9,26.3 L460.9,24.1 L460.8,22.0 L460.9,19.9 L460.9,17.7 L460.9,15.6" fill="none" stroke="#2e2e2e" stroke-width="0.9" stroke-linecap="butt" stroke-linejoin="round" />
<path d="M406.5,160.1 L409.4,160.3 L412.4,160.5 L415.4,160.5 L418.3,160.4 L421.3,160.2 L424.2,160.0 L427.2,159.6 L430.1,159.1 L433.0,158.5 L435.9,157.9 L438.7,157.1 L441.5,156.2 L444.4,155.3 L447.1,154.3 L449.9,153.1 L452.6,151.9 L455.2,150.6 L457.8,149.2 L460.4,147.8 L462.9,146.2 L465.4,144.6 L467.8,142.8 L470.1,141.0 L472.4,139.1 L474.6,137.1 L476.7,135.1 L478.7,132.9 L480.7,130.7 L482.5,128.4 L484.3,126.0 L486.0,123.6 L487.5,121.1 L489.0,118.5 L490.3,115.8 L491.5,113.1 L492.6,110.4 L493.6,107.6 L494.5,104.8 L495.4,102.0 L496.1,99.1 L496.7,96.2 L497.3,93.3 L497.8,90.4 L498.3,87.5 L498.7,84.5 L499.0,81.6 L499.3,78.7 L499.5,75.7 L499.7,72.8 L499.9,69.8 L500.0,66.8 L500.1,63.9 L500.2,60.9 L500.2,58.0 L500.2,55.0 L500.2,52.1 L500.2,49.1 L500.2,46.1 L500.1,43.2 L500.1,40.2 L500.0,37.3 L499.9,34.3 L499.9,31.4 L499.8,28.4 L499.8,25.4 L499.8,22.5 L499.8,19.5 L499.8,16.6 L499.8,13.6" fill="none" stroke="#2e2e2e" stroke-width="0.9" stroke-linecap="butt" stroke-linejoin="round" />
<path d="M392.0,145.6 L393.5,146.0 L394.8,146.6 L395.8,147.5 L396.3,148.6 L396.4,150.0 L396.1,151.4 L395.7,152.9 L395.3,154.4 L395.0,155.8 L394.6,157.2 L394.3,158.5 L394.0,159.9 L393.6,161.2 L393.2,162.4 L392.8,163.7 L392.4,165.0 L391.9,166.3 L391.3,167.5 L390.8,168.8 L390.2,170.1 L389.7,171.4 L389.1,172.7 L388.7,174.0 L388.2,175.3 L387.8,176.7 L387.5,178.0 L387.2,179.4 L386.9,180.7 L386.7,182.1 L386.5,183.5 L386.3,184.9 L386.1,186.3 L386.0,187.7 L385.9,189.1 L385.9,190.5 L385.9,191.9 L386.0,193.2 L386.1,194.6 L386.4,196.0 L386.7,197.3 L387.1,198.7 L387.5,200.0 L387.9,201.3 L388.3,202.7 L388.8,204.0 L389.2,205.3 L389.7,206.6 L390.2,207.9 L390.7,209.2 L391.3,210.5 L391.9,211.7 L392.5,213.0 L393.2,214.2 L393.9,215.4 L394.7,216.5 L395.4,217.7 L396.3,218.8 L397.1,220.0 L397.9,221.1 L398.8,222.2 L399.7,223.2 L400.5,224.3 L401.4,225.4 L402.2,226.5 L403.0,227.6 L403.7,228.9 L404.3,230.2 L404.7,231.6 L404.8,233.0 L404.6,234.3 L403.8,235.4 L402.6,236.2 L401.2,236.8 L399.7,237.1 L398.3,237.2 L396.8,237.1 L395.5,236.8 L394.2,236.4 L392.9,235.9 L391.7,235.2 L390.5,234.4 L389.4,233.6 L388.3,232.7 L387.3,231.7 L386.3,230.8 L385.3,229.8 L384.3,228.8 L383.3,227.8 L382.4,226.8 L381.5,225.7 L380.6,224.7 L379.7,223.6 L378.9,222.5 L378.1,221.3 L377.4,220.2 L376.6,219.0 L375.9,217.8 L375.2,216.6 L374.6,215.3 L374.0,214.1 L373.3,212.8 L372.7,211.6 L372.2,210.3 L371.6,209.0 L371.1,207.7 L370.5,206.4 L370.0,205.2 L369.5,203.9 L369.1,202.5 L368.6,201.2 L368.2,199.9 L367.8,198.6 L367.4,197.2 L367.0,195.9 L366.7,194.5 L366.4,193.2 L366.1,191.8 L365.9,190.4 L365.7,189.0 L365.5,187.7 L365.4,186.3 L365.4,184.9 L365.4,183.5 L365.5,182.1 L365.7,180.7 L365.8,179.3 L366.1,178.0 L366.3,176.6 L366.6,175.2 L367.0,173.9 L367.3,172.5 L367.7,171.2 L368.2,169.9 L368.6,168.5 L369.1,167.2 L369.6,166.0 L370.2,164.7 L370.8,163.4 L371.4,162.2 L372.1,161.0 L372.8,159.8 L373.5,158.6 L374.3,157.4 L375.1,156.3 L375.9,155.2 L376.8,154.1 L377.7,153.0 L378.6,151.9 L379.6,150.9 L380.6,149.9 L381.6,149.0 L382.7,148.2 L383.9,147.4 L385.1,146.7 L386.4,146.2 L387.7,145.8 L389.1,145.5 L390.5,145.4 L392.0,145.6Z" fill="#6bb3e6"/>
<path d="M395.8,148.4 L394.3,149.3 L392.7,150.2 L391.2,151.2 L389.7,152.2 L388.3,153.2 L386.9,154.4 L385.6,155.6 L384.4,156.9 L383.4,158.4 L382.4,159.9 L381.5,161.4 L380.6,163.0 L379.9,164.7 L379.2,166.3 L378.5,168.0 L377.9,169.7 L377.3,171.4 L376.8,173.1 L376.4,174.8 L375.9,176.6 L375.6,178.3 L375.2,180.1 L374.9,181.8 L374.7,183.6 L374.5,185.4 L374.4,187.2 L374.4,189.0 L374.5,190.8 L374.6,192.5 L374.9,194.3 L375.3,196.1 L375.8,197.8 L376.4,199.4 L377.1,201.1 L377.9,202.7 L378.6,204.4 L379.4,206.0 L380.1,207.6 L380.9,209.2 L381.7,210.8 L382.5,212.4 L383.3,214.0 L384.1,215.5 L385.0,217.1 L385.9,218.7 L386.8,220.3 L387.8,221.8 L388.8,223.3 L389.9,224.8 L391.0,226.2 L392.2,227.6 L393.4,228.8 L394.8,230.0 L396.2,231.1 L397.6,232.0 L399.2,232.8 L400.9,233.5 L402.6,234.0 L404.5,234.3" fill="none" stroke="#5a8fbe" stroke-width="0.7" stroke-linecap="butt" stroke-linejoin="round" />
<rect x="385.80" y="152.65" width="5.4" height="2.7" rx="0.8" fill="#b69a85" transform="rotate(45 388.50 154.00)"/>
<rect x="393.90" y="229.45" width="5.4" height="2.7" rx="0.8" fill="#b69a85" transform="rotate(-42 396.60 230.80)"/>
<ellipse cx="403.7" cy="140.7" rx="6.8" ry="19.6" fill="#fff" stroke="#1b1310" stroke-width="0.9" transform="rotate(-4 403.7 140.7)"/>
</g>
<path d="M389,133.4 L408.8,129.6" stroke="#1b1310" stroke-width="0.7"/>
<path d="M395.6,147.9 L409.0,140.0" stroke="#1b1310" stroke-width="0.7"/>
<path d="M366,134.0 L392,132.6 L366.4,139.4Z" fill="url(#tp)"/>
<path d="M366,134.0 L392,132.6 M366.4,139.4 L392,132.9" stroke="#333" stroke-width="0.6" fill="none"/>
<path d="M95.3,377.7 L94.9,375.7 L94.6,373.8 L94.2,371.8 L93.9,369.9 L93.7,367.9 L93.4,365.9 L93.2,364.0 L93.0,362.0 L92.8,360.0 L92.6,358.1 L92.5,356.1 L92.4,354.1 L92.3,352.1 L92.2,350.1 L92.2,348.2 L92.1,346.2 L92.1,344.2 L92.2,342.2 L92.2,340.3 L92.3,338.3 L92.4,336.3 L92.5,334.3 L92.6,332.3 L92.8,330.4 L92.9,328.4 L93.1,326.4 L93.4,324.5 L93.6,322.5 L93.9,320.6 L94.2,318.6 L94.5,316.6 L94.8,314.7 L95.2,312.7 L95.5,310.8 L95.9,308.9 L96.4,306.9 L96.8,305.0 L97.3,303.1 L97.7,301.2 L98.2,299.3 L98.8,297.3 L99.3,295.4 L99.9,293.6 L100.5,291.7 L101.1,289.8 L101.7,287.9 L102.4,286.0 L103.0,284.2 L103.7,282.3 L104.4,280.5 L105.2,278.7 L105.9,276.8 L106.7,275.0 L107.5,273.2 L108.3,271.4 L109.1,269.6 L110.0,267.8 L110.9,266.1 L111.8,264.3 L112.7,262.5 L113.6,260.8 L114.5,259.1 L115.5,257.4 L116.5,255.6 L117.5,254.0 L118.5,252.3 L119.6,250.6 L120.7,248.9 L121.7,247.3 L122.8,245.6 L124.0,244.0 L125.1,242.4 L126.3,240.8 L127.5,239.2 L128.7,237.7 L129.9,236.1 L131.1,234.6 L132.4,233.1 L133.6,231.5 L134.9,230.0 L136.2,228.6 L137.6,227.1 L138.9,225.7 L140.3,224.2 L141.6,222.8 L143.0,221.4 L144.5,220.0 L145.9,218.6 L147.3,217.3 L148.8,216.0 L150.3,214.7 L151.8,213.4 L153.3,212.1 L154.9,210.8 L156.4,209.6 L158.0,208.4 L159.6,207.1 L161.2,206.0 L162.8,204.8" fill="none" stroke="#1b1310" stroke-width="0.8" stroke-linecap="butt" stroke-linejoin="round" />
<path d="M146.9,218.0 L147.3,217.8 L147.7,217.5 L148.1,217.2 L148.5,216.9 L148.9,216.6 L149.3,216.3 L149.7,216.0 L150.1,215.7 L150.5,215.4 L150.9,215.1 L151.3,214.8 L151.7,214.6 L152.1,214.3 L152.5,214.0 L152.9,213.7 L153.3,213.4 L153.7,213.2 L154.1,212.9 L154.5,212.6 L154.9,212.3 L155.3,212.1 L155.7,211.8 L156.2,211.5 L156.6,211.3 L157.0,211.0 L157.4,210.7 L157.8,210.5 L158.2,210.2 L158.6,209.9 L159.1,209.7 L159.5,209.4 L159.9,209.2 L160.3,208.9 L160.7,208.7 L161.2,208.4 L161.6,208.2 L162.0,207.9 L162.4,207.7 L162.9,207.4 L163.3,207.2 L163.7,206.9 L164.1,206.7 L161.5,202.9 L161.1,203.3 L160.7,203.6 L160.3,203.9 L160.0,204.3 L159.6,204.6 L159.2,204.9 L158.8,205.3 L158.5,205.6 L158.1,205.9 L157.7,206.3 L157.3,206.6 L157.0,207.0 L156.6,207.3 L156.2,207.7 L155.9,208.0 L155.5,208.3 L155.2,208.7 L154.8,209.0 L154.4,209.4 L154.1,209.7 L153.7,210.1 L153.4,210.4 L153.0,210.8 L152.7,211.2 L152.3,211.5 L152.0,211.9 L151.6,212.2 L151.3,212.6 L150.9,212.9 L150.6,213.3 L150.2,213.7 L149.9,214.0 L149.6,214.4 L149.2,214.7 L148.9,215.1 L148.5,215.5 L148.2,215.8 L147.9,216.2 L147.5,216.6 L147.2,216.9 L146.9,217.3 L146.6,217.7Z" fill="#7c7c7c" stroke="#454545" stroke-width="0.5"/>
<path d="M146.8,217.9 L147.2,217.6 L147.6,217.3 L147.9,217.0 L148.3,216.7 L148.7,216.4 L149.1,216.1 L149.5,215.7 L149.8,215.4 L150.2,215.1 L150.6,214.8 L151.0,214.5 L151.4,214.2 L151.8,213.9 L152.2,213.6 L152.5,213.3 L152.9,213.0 L153.3,212.7 L153.7,212.4 L154.1,212.1 L154.5,211.8 L154.9,211.5 L155.3,211.2 L155.7,210.9 L156.1,210.7 L156.5,210.4 L156.9,210.1 L157.3,209.8 L157.7,209.5 L158.1,209.2 L158.5,208.9 L158.9,208.7 L159.3,208.4 L159.7,208.1 L160.1,207.8 L160.5,207.5 L160.9,207.3 L161.3,207.0 L161.7,206.7 L162.2,206.5 L162.6,206.2 L163.0,205.9 L163.4,205.6 L162.2,204.0 L161.8,204.3 L161.4,204.6 L161.0,204.9 L160.6,205.2 L160.2,205.5 L159.9,205.8 L159.5,206.1 L159.1,206.4 L158.7,206.8 L158.3,207.1 L157.9,207.4 L157.5,207.7 L157.2,208.0 L156.8,208.4 L156.4,208.7 L156.0,209.0 L155.7,209.3 L155.3,209.7 L154.9,210.0 L154.5,210.3 L154.2,210.6 L153.8,211.0 L153.4,211.3 L153.1,211.6 L152.7,212.0 L152.3,212.3 L152.0,212.6 L151.6,213.0 L151.2,213.3 L150.9,213.6 L150.5,214.0 L150.2,214.3 L149.8,214.7 L149.5,215.0 L149.1,215.4 L148.7,215.7 L148.4,216.0 L148.0,216.4 L147.7,216.7 L147.3,217.1 L147.0,217.4 L146.7,217.8Z" fill="#dcdcdc"/>
<path d="M162.8,204.8 L163.9,204.0 L165.0,203.2 L166.1,202.5 L167.2,201.7 L168.4,200.9 L169.5,200.2 L170.6,199.4 L171.7,198.7 L172.9,197.9 L174.0,197.2 L175.2,196.5 L176.3,195.8 L177.5,195.0 L178.6,194.3 L179.8,193.6 L180.9,192.9 L182.1,192.2 L183.2,191.5 L184.4,190.9 L185.6,190.2 L186.8,189.5 L187.9,188.8 L189.1,188.2 L190.3,187.5 L191.5,186.9 L192.7,186.2 L193.9,185.6 L195.1,184.9 L196.3,184.3 L197.5,183.7 L198.7,183.1 L199.9,182.5 L201.1,181.8 L202.3,181.2 L203.5,180.6 L204.7,180.0 L205.9,179.5 L207.2,178.9 L208.4,178.3 L209.6,177.7 L210.8,177.1 L212.1,176.6 L213.3,176.0 L214.5,175.5 L215.8,174.9 L217.0,174.4 L218.3,173.8 L219.5,173.3 L220.8,172.8 L222.0,172.2 L223.3,171.7 L224.5,171.2 L225.8,170.7 L227.0,170.2 L228.3,169.6 L229.6,169.1 L230.8,168.7 L232.1,168.2 L233.4,167.7 L234.6,167.2 L235.9,166.7 L237.2,166.2 L238.5,165.8 L239.8,165.3 L241.0,164.8 L242.3,164.4 L243.6,163.9 L244.9,163.5 L246.2,163.0 L247.5,162.6 L248.8,162.1 L250.0,161.7 L251.3,161.3 L252.6,160.8 L253.9,160.4 L255.2,160.0 L256.5,159.6 L257.8,159.2 L259.1,158.8 L260.4,158.3 L261.7,157.9 L263.1,157.5 L264.4,157.2 L265.7,156.8 L267.0,156.4 L268.3,156.0 L269.6,155.6 L270.9,155.2 L272.2,154.9 L273.5,154.5 L274.9,154.1 L276.2,153.8 L277.5,153.4 L278.8,153.1 L280.1,152.7 L281.5,152.4 L282.8,152.0 L284.1,151.7 L285.4,151.3 L286.8,151.0 L288.1,150.7 L289.4,150.3 L290.7,150.0 L292.1,149.7 L293.4,149.4 L294.7,149.1 L296.1,148.7 L297.4,148.4 L298.7,148.1 L300.1,147.8 L301.4,147.5 L302.7,147.2 L304.1,146.9 L305.4,146.7 L306.7,146.4 L308.1,146.1 L309.4,145.8 L310.7,145.5 L312.1,145.3 L313.4,145.0 L314.7,144.7 L316.1,144.5 L317.4,144.2 L318.8,143.9 L320.1,143.7 L321.4,143.4 L322.8,143.2 L324.1,142.9 L325.5,142.7 L326.8,142.4 L328.1,142.2 L329.5,142.0 L330.8,141.7 L332.2,141.5 L333.5,141.3 L334.8,141.1 L336.2,140.8 L337.5,140.6 L338.9,140.4 L340.2,140.2 L341.5,140.0 L342.9,139.8 L344.2,139.6 L345.6,139.4 L346.9,139.2 L348.2,139.0 L349.6,138.8 L350.9,138.6 L352.2,138.4 L353.6,138.2 L354.9,138.0 L356.3,137.8 L357.6,137.6 L358.9,137.5 L360.3,137.3 L361.6,137.1 L362.9,136.9 L364.3,136.8 L365.6,136.6" fill="none" stroke="#484848" stroke-width="7.6" stroke-linecap="butt" stroke-linejoin="round" />
<path d="M160.8,201.9 L161.9,201.2 L163.0,200.4 L164.1,199.6 L165.3,198.8 L166.4,198.0 L167.5,197.3 L168.7,196.5 L169.8,195.7 L171.0,195.0 L172.1,194.3 L173.3,193.5 L174.4,192.8 L175.6,192.1 L176.8,191.3 L177.9,190.6 L179.1,189.9 L180.3,189.2 L181.5,188.5 L182.6,187.8 L183.8,187.1 L185.0,186.5 L186.2,185.8 L187.4,185.1 L188.6,184.5 L189.8,183.8 L191.0,183.1 L192.2,182.5 L193.4,181.9 L194.6,181.2 L195.8,180.6 L197.1,180.0 L198.3,179.3 L199.5,178.7 L200.7,178.1 L202.0,177.5 L203.2,176.9 L204.4,176.3 L205.7,175.7 L206.9,175.1 L208.1,174.5 L209.4,174.0 L210.6,173.4 L211.9,172.8 L213.1,172.3 L214.4,171.7 L215.6,171.2 L216.9,170.6 L218.1,170.1 L219.4,169.5 L220.7,169.0 L221.9,168.5 L223.2,167.9 L224.5,167.4 L225.7,166.9 L227.0,166.4 L228.3,165.9 L229.6,165.4 L230.8,164.9 L232.1,164.4 L233.4,163.9 L234.7,163.4 L236.0,162.9 L237.3,162.5 L238.6,162.0 L239.8,161.5 L241.1,161.1 L242.4,160.6 L243.7,160.2 L245.0,159.7 L246.3,159.3 L247.6,158.8 L248.9,158.4 L250.2,157.9 L251.5,157.5 L252.9,157.1 L254.2,156.7 L255.5,156.2 L256.8,155.8 L258.1,155.4 L259.4,155.0 L260.7,154.6 L262.0,154.2 L263.4,153.8 L264.7,153.4 L266.0,153.0 L267.3,152.6 L268.6,152.3 L270.0,151.9 L271.3,151.5 L272.6,151.1 L273.9,150.8 L275.3,150.4 L276.6,150.0 L277.9,149.7 L279.2,149.3 L280.6,149.0 L281.9,148.6 L283.2,148.3 L284.6,147.9 L285.9,147.6 L287.2,147.3 L288.6,146.9 L289.9,146.6 L291.3,146.3 L292.6,146.0 L293.9,145.7 L295.3,145.3 L296.6,145.0 L297.9,144.7 L299.3,144.4 L300.6,144.1 L302.0,143.8 L303.3,143.5 L304.7,143.2 L306.0,142.9 L307.3,142.7 L308.7,142.4 L310.0,142.1 L311.4,141.8 L312.7,141.6 L314.1,141.3 L315.4,141.0 L316.8,140.8 L318.1,140.5 L319.5,140.2 L320.8,140.0 L322.1,139.7 L323.5,139.5 L324.8,139.2 L326.2,139.0 L327.5,138.8 L328.9,138.5 L330.2,138.3 L331.6,138.1 L332.9,137.8 L334.3,137.6 L335.6,137.4 L337.0,137.2 L338.3,136.9 L339.7,136.7 L341.0,136.5 L342.3,136.3 L343.7,136.1 L345.0,135.9 L346.4,135.7 L347.7,135.5 L349.1,135.3 L350.4,135.1 L351.8,134.9 L353.1,134.7 L354.4,134.5 L355.8,134.3 L357.1,134.2 L358.5,134.0 L359.8,133.8 L361.2,133.6 L362.5,133.5 L363.8,133.3 L365.2,133.1" fill="none" stroke="#262626" stroke-width="0.9" stroke-linecap="butt" stroke-linejoin="round" />
<path d="M164.8,207.6 L165.9,206.9 L167.0,206.1 L168.1,205.3 L169.2,204.6 L170.3,203.8 L171.4,203.1 L172.5,202.3 L173.7,201.6 L174.8,200.9 L175.9,200.1 L177.0,199.4 L178.2,198.7 L179.3,198.0 L180.4,197.3 L181.6,196.6 L182.7,195.9 L183.9,195.2 L185.0,194.6 L186.2,193.9 L187.3,193.2 L188.5,192.5 L189.7,191.9 L190.8,191.2 L192.0,190.6 L193.2,189.9 L194.3,189.3 L195.5,188.7 L196.7,188.0 L197.9,187.4 L199.1,186.8 L200.3,186.2 L201.4,185.6 L202.6,185.0 L203.8,184.4 L205.0,183.8 L206.2,183.2 L207.5,182.6 L208.7,182.0 L209.9,181.5 L211.1,180.9 L212.3,180.3 L213.5,179.8 L214.8,179.2 L216.0,178.7 L217.2,178.1 L218.4,177.6 L219.7,177.0 L220.9,176.5 L222.1,176.0 L223.4,175.5 L224.6,174.9 L225.9,174.4 L227.1,173.9 L228.4,173.4 L229.6,172.9 L230.9,172.4 L232.1,171.9 L233.4,171.4 L234.6,170.9 L235.9,170.5 L237.2,170.0 L238.4,169.5 L239.7,169.0 L241.0,168.6 L242.2,168.1 L243.5,167.7 L244.8,167.2 L246.0,166.8 L247.3,166.3 L248.6,165.9 L249.9,165.4 L251.2,165.0 L252.4,164.6 L253.7,164.2 L255.0,163.7 L256.3,163.3 L257.6,162.9 L258.9,162.5 L260.2,162.1 L261.5,161.7 L262.8,161.3 L264.1,160.9 L265.4,160.5 L266.7,160.1 L268.0,159.7 L269.3,159.4 L270.6,159.0 L271.9,158.6 L273.2,158.2 L274.5,157.9 L275.8,157.5 L277.1,157.1 L278.4,156.8 L279.7,156.4 L281.0,156.1 L282.4,155.7 L283.7,155.4 L285.0,155.1 L286.3,154.7 L287.6,154.4 L288.9,154.1 L290.2,153.7 L291.6,153.4 L292.9,153.1 L294.2,152.8 L295.5,152.5 L296.9,152.2 L298.2,151.9 L299.5,151.5 L300.8,151.2 L302.2,151.0 L303.5,150.7 L304.8,150.4 L306.1,150.1 L307.5,149.8 L308.8,149.5 L310.1,149.2 L311.4,149.0 L312.8,148.7 L314.1,148.4 L315.4,148.2 L316.8,147.9 L318.1,147.6 L319.4,147.4 L320.8,147.1 L322.1,146.9 L323.4,146.6 L324.8,146.4 L326.1,146.1 L327.4,145.9 L328.8,145.7 L330.1,145.4 L331.4,145.2 L332.7,145.0 L334.1,144.7 L335.4,144.5 L336.7,144.3 L338.1,144.1 L339.4,143.9 L340.7,143.6 L342.1,143.4 L343.4,143.2 L344.7,143.0 L346.1,142.8 L347.4,142.6 L348.7,142.4 L350.1,142.2 L351.4,142.0 L352.7,141.8 L354.1,141.6 L355.4,141.5 L356.7,141.3 L358.1,141.1 L359.4,140.9 L360.7,140.7 L362.0,140.6 L363.4,140.4 L364.7,140.2 L366.0,140.1" fill="none" stroke="#262626" stroke-width="0.9" stroke-linecap="butt" stroke-linejoin="round" />
<path d="M161.6,203.1 L162.7,202.3 L163.8,201.5 L164.9,200.7 L166.1,200.0 L167.2,199.2 L168.3,198.4 L169.5,197.7 L170.6,196.9 L171.7,196.2 L172.9,195.4 L174.0,194.7 L175.2,194.0 L176.3,193.2 L177.5,192.5 L178.7,191.8 L179.8,191.1 L181.0,190.4 L182.2,189.7 L183.4,189.0 L184.5,188.4 L185.7,187.7 L186.9,187.0 L188.1,186.3 L189.3,185.7 L190.5,185.0 L191.7,184.4 L192.9,183.7 L194.1,183.1 L195.3,182.5 L196.5,181.8 L197.7,181.2 L198.9,180.6 L200.1,180.0 L201.4,179.4 L202.6,178.8 L203.8,178.2 L205.0,177.6 L206.3,177.0 L207.5,176.4 L208.7,175.8 L210.0,175.2 L211.2,174.7 L212.4,174.1 L213.7,173.5 L214.9,173.0 L216.2,172.4 L217.4,171.9 L218.7,171.4 L219.9,170.8 L221.2,170.3 L222.5,169.8 L223.7,169.2 L225.0,168.7 L226.3,168.2 L227.5,167.7 L228.8,167.2 L230.1,166.7 L231.3,166.2 L232.6,165.7 L233.9,165.2 L235.2,164.7 L236.5,164.3 L237.8,163.8 L239.0,163.3 L240.3,162.9 L241.6,162.4 L242.9,161.9 L244.2,161.5 L245.5,161.0 L246.8,160.6 L248.1,160.1 L249.4,159.7 L250.7,159.3 L252.0,158.8 L253.3,158.4 L254.6,158.0 L255.9,157.6 L257.2,157.2 L258.5,156.7 L259.8,156.3 L261.1,155.9 L262.4,155.5 L263.8,155.1 L265.1,154.8 L266.4,154.4 L267.7,154.0 L269.0,153.6 L270.3,153.2 L271.7,152.8 L273.0,152.5 L274.3,152.1 L275.6,151.7 L277.0,151.4 L278.3,151.0 L279.6,150.7 L280.9,150.3 L282.3,150.0 L283.6,149.6 L284.9,149.3 L286.3,149.0 L287.6,148.6 L288.9,148.3 L290.2,148.0 L291.6,147.7 L292.9,147.3 L294.2,147.0 L295.6,146.7 L296.9,146.4 L298.3,146.1 L299.6,145.8 L300.9,145.5 L302.3,145.2 L303.6,144.9 L305.0,144.6 L306.3,144.3 L307.6,144.0 L309.0,143.8 L310.3,143.5 L311.7,143.2 L313.0,142.9 L314.3,142.7 L315.7,142.4 L317.0,142.1 L318.4,141.9 L319.7,141.6 L321.1,141.4 L322.4,141.1 L323.7,140.9 L325.1,140.6 L326.4,140.4 L327.8,140.1 L329.1,139.9 L330.5,139.7 L331.8,139.4 L333.2,139.2 L334.5,139.0 L335.8,138.8 L337.2,138.5 L338.5,138.3 L339.9,138.1 L341.2,137.9 L342.6,137.7 L343.9,137.5 L345.2,137.3 L346.6,137.1 L347.9,136.9 L349.3,136.7 L350.6,136.5 L352.0,136.3 L353.3,136.1 L354.6,135.9 L356.0,135.7 L357.3,135.6 L358.7,135.4 L360.0,135.2 L361.3,135.0 L362.7,134.9 L364.0,134.7 L365.3,134.5" fill="none" stroke="#c4c4c4" stroke-width="0.9" stroke-linecap="butt" stroke-linejoin="round" stroke-dasharray="3.2 2.4" stroke-dashoffset="0"/>
<path d="M162.8,204.8 L163.9,204.0 L165.0,203.2 L166.1,202.5 L167.2,201.7 L168.4,200.9 L169.5,200.2 L170.6,199.4 L171.7,198.7 L172.9,197.9 L174.0,197.2 L175.2,196.5 L176.3,195.8 L177.5,195.0 L178.6,194.3 L179.8,193.6 L180.9,192.9 L182.1,192.2 L183.2,191.5 L184.4,190.9 L185.6,190.2 L186.8,189.5 L187.9,188.8 L189.1,188.2 L190.3,187.5 L191.5,186.9 L192.7,186.2 L193.9,185.6 L195.1,184.9 L196.3,184.3 L197.5,183.7 L198.7,183.1 L199.9,182.5 L201.1,181.8 L202.3,181.2 L203.5,180.6 L204.7,180.0 L205.9,179.5 L207.2,178.9 L208.4,178.3 L209.6,177.7 L210.8,177.1 L212.1,176.6 L213.3,176.0 L214.5,175.5 L215.8,174.9 L217.0,174.4 L218.3,173.8 L219.5,173.3 L220.8,172.8 L222.0,172.2 L223.3,171.7 L224.5,171.2 L225.8,170.7 L227.0,170.2 L228.3,169.6 L229.6,169.1 L230.8,168.7 L232.1,168.2 L233.4,167.7 L234.6,167.2 L235.9,166.7 L237.2,166.2 L238.5,165.8 L239.8,165.3 L241.0,164.8 L242.3,164.4 L243.6,163.9 L244.9,163.5 L246.2,163.0 L247.5,162.6 L248.8,162.1 L250.0,161.7 L251.3,161.3 L252.6,160.8 L253.9,160.4 L255.2,160.0 L256.5,159.6 L257.8,159.2 L259.1,158.8 L260.4,158.3 L261.7,157.9 L263.1,157.5 L264.4,157.2 L265.7,156.8 L267.0,156.4 L268.3,156.0 L269.6,155.6 L270.9,155.2 L272.2,154.9 L273.5,154.5 L274.9,154.1 L276.2,153.8 L277.5,153.4 L278.8,153.1 L280.1,152.7 L281.5,152.4 L282.8,152.0 L284.1,151.7 L285.4,151.3 L286.8,151.0 L288.1,150.7 L289.4,150.3 L290.7,150.0 L292.1,149.7 L293.4,149.4 L294.7,149.1 L296.1,148.7 L297.4,148.4 L298.7,148.1 L300.1,147.8 L301.4,147.5 L302.7,147.2 L304.1,146.9 L305.4,146.7 L306.7,146.4 L308.1,146.1 L309.4,145.8 L310.7,145.5 L312.1,145.3 L313.4,145.0 L314.7,144.7 L316.1,144.5 L317.4,144.2 L318.8,143.9 L320.1,143.7 L321.4,143.4 L322.8,143.2 L324.1,142.9 L325.5,142.7 L326.8,142.4 L328.1,142.2 L329.5,142.0 L330.8,141.7 L332.2,141.5 L333.5,141.3 L334.8,141.1 L336.2,140.8 L337.5,140.6 L338.9,140.4 L340.2,140.2 L341.5,140.0 L342.9,139.8 L344.2,139.6 L345.6,139.4 L346.9,139.2 L348.2,139.0 L349.6,138.8 L350.9,138.6 L352.2,138.4 L353.6,138.2 L354.9,138.0 L356.3,137.8 L357.6,137.6 L358.9,137.5 L360.3,137.3 L361.6,137.1 L362.9,136.9 L364.3,136.8 L365.6,136.6" fill="none" stroke="#cccccc" stroke-width="0.9" stroke-linecap="butt" stroke-linejoin="round" stroke-dasharray="3.2 2.4" stroke-dashoffset="2.8"/>
<path d="M164.0,206.5 L165.1,205.7 L166.2,205.0 L167.3,204.2 L168.4,203.4 L169.5,202.7 L170.7,201.9 L171.8,201.2 L172.9,200.4 L174.0,199.7 L175.2,199.0 L176.3,198.2 L177.4,197.5 L178.6,196.8 L179.7,196.1 L180.8,195.4 L182.0,194.7 L183.2,194.0 L184.3,193.3 L185.5,192.7 L186.6,192.0 L187.8,191.3 L189.0,190.7 L190.1,190.0 L191.3,189.4 L192.5,188.7 L193.7,188.1 L194.9,187.4 L196.0,186.8 L197.2,186.2 L198.4,185.6 L199.6,184.9 L200.8,184.3 L202.0,183.7 L203.2,183.1 L204.4,182.5 L205.6,181.9 L206.8,181.3 L208.1,180.8 L209.3,180.2 L210.5,179.6 L211.7,179.1 L212.9,178.5 L214.2,177.9 L215.4,177.4 L216.6,176.8 L217.9,176.3 L219.1,175.7 L220.3,175.2 L221.6,174.7 L222.8,174.2 L224.1,173.6 L225.3,173.1 L226.6,172.6 L227.8,172.1 L229.1,171.6 L230.3,171.1 L231.6,170.6 L232.9,170.1 L234.1,169.6 L235.4,169.1 L236.7,168.7 L237.9,168.2 L239.2,167.7 L240.5,167.3 L241.7,166.8 L243.0,166.3 L244.3,165.9 L245.6,165.4 L246.9,165.0 L248.1,164.6 L249.4,164.1 L250.7,163.7 L252.0,163.3 L253.3,162.8 L254.6,162.4 L255.9,162.0 L257.2,161.6 L258.5,161.2 L259.8,160.8 L261.1,160.4 L262.4,160.0 L263.7,159.6 L265.0,159.2 L266.3,158.8 L267.6,158.4 L268.9,158.0 L270.2,157.6 L271.5,157.3 L272.8,156.9 L274.1,156.5 L275.4,156.2 L276.7,155.8 L278.0,155.4 L279.4,155.1 L280.7,154.7 L282.0,154.4 L283.3,154.0 L284.6,153.7 L286.0,153.4 L287.3,153.0 L288.6,152.7 L289.9,152.4 L291.2,152.1 L292.6,151.7 L293.9,151.4 L295.2,151.1 L296.5,150.8 L297.9,150.5 L299.2,150.2 L300.5,149.9 L301.8,149.6 L303.2,149.3 L304.5,149.0 L305.8,148.7 L307.2,148.4 L308.5,148.1 L309.8,147.9 L311.2,147.6 L312.5,147.3 L313.8,147.0 L315.2,146.8 L316.5,146.5 L317.8,146.3 L319.2,146.0 L320.5,145.7 L321.8,145.5 L323.2,145.2 L324.5,145.0 L325.8,144.8 L327.2,144.5 L328.5,144.3 L329.8,144.0 L331.2,143.8 L332.5,143.6 L333.9,143.3 L335.2,143.1 L336.5,142.9 L337.9,142.7 L339.2,142.5 L340.5,142.3 L341.9,142.0 L343.2,141.8 L344.5,141.6 L345.9,141.4 L347.2,141.2 L348.5,141.0 L349.9,140.8 L351.2,140.6 L352.5,140.5 L353.9,140.3 L355.2,140.1 L356.5,139.9 L357.9,139.7 L359.2,139.5 L360.5,139.4 L361.9,139.2 L363.2,139.0 L364.5,138.8 L365.9,138.7" fill="none" stroke="#c4c4c4" stroke-width="0.9" stroke-linecap="butt" stroke-linejoin="round" stroke-dasharray="3.2 2.4" stroke-dashoffset="0"/>
<path d="M162.2,203.9 L163.3,203.2 L164.4,202.4 L165.5,201.6 L166.7,200.8 L167.8,200.1 L168.9,199.3 L170.0,198.5 L171.2,197.8 L172.3,197.1 L173.5,196.3 L174.6,195.6 L175.7,194.9 L176.9,194.1 L178.1,193.4 L179.2,192.7 L180.4,192.0 L181.5,191.3 L182.7,190.6 L183.9,189.9 L185.1,189.3 L186.2,188.6 L187.4,187.9 L188.6,187.3 L189.8,186.6 L191.0,185.9 L192.2,185.3 L193.4,184.7 L194.6,184.0 L195.8,183.4 L197.0,182.8 L198.2,182.1 L199.4,181.5 L200.6,180.9 L201.8,180.3 L203.0,179.7 L204.3,179.1 L205.5,178.5 L206.7,177.9 L207.9,177.3 L209.2,176.8 L210.4,176.2 L211.6,175.6 L212.9,175.1 L214.1,174.5 L215.4,174.0 L216.6,173.4 L217.9,172.9 L219.1,172.3 L220.4,171.8 L221.6,171.3 L222.9,170.7 L224.1,170.2 L225.4,169.7 L226.7,169.2 L227.9,168.7 L229.2,168.2 L230.5,167.7 L231.7,167.2 L233.0,166.7 L234.3,166.2 L235.6,165.7 L236.8,165.2 L238.1,164.8 L239.4,164.3 L240.7,163.8 L242.0,163.4 L243.3,162.9 L244.5,162.5 L245.8,162.0 L247.1,161.6 L248.4,161.1 L249.7,160.7 L251.0,160.3 L252.3,159.8 L253.6,159.4 L254.9,159.0 L256.2,158.6 L257.5,158.2 L258.8,157.8 L260.1,157.3 L261.4,156.9 L262.7,156.5 L264.1,156.1 L265.4,155.8 L266.7,155.4 L268.0,155.0 L269.3,154.6 L270.6,154.2 L271.9,153.9 L273.3,153.5 L274.6,153.1 L275.9,152.8 L277.2,152.4 L278.6,152.0 L279.9,151.7 L281.2,151.3 L282.5,151.0 L283.9,150.7 L285.2,150.3 L286.5,150.0 L287.8,149.6 L289.2,149.3 L290.5,149.0 L291.8,148.7 L293.2,148.4 L294.5,148.0 L295.8,147.7 L297.2,147.4 L298.5,147.1 L299.8,146.8 L301.2,146.5 L302.5,146.2 L303.8,145.9 L305.2,145.6 L306.5,145.3 L307.8,145.1 L309.2,144.8 L310.5,144.5 L311.9,144.2 L313.2,144.0 L314.5,143.7 L315.9,143.4 L317.2,143.2 L318.6,142.9 L319.9,142.6 L321.2,142.4 L322.6,142.1 L323.9,141.9 L325.3,141.7 L326.6,141.4 L328.0,141.2 L329.3,140.9 L330.6,140.7 L332.0,140.5 L333.3,140.2 L334.7,140.0 L336.0,139.8 L337.4,139.6 L338.7,139.4 L340.0,139.1 L341.4,138.9 L342.7,138.7 L344.1,138.5 L345.4,138.3 L346.7,138.1 L348.1,137.9 L349.4,137.7 L350.8,137.5 L352.1,137.3 L353.4,137.1 L354.8,137.0 L356.1,136.8 L357.5,136.6 L358.8,136.4 L360.1,136.2 L361.5,136.1 L362.8,135.9 L364.1,135.7 L365.5,135.6" fill="none" stroke="#222" stroke-width="0.9" stroke-linecap="butt" stroke-linejoin="round" stroke-dasharray="2.4 3.2" stroke-dashoffset="1.4"/>
<path d="M163.4,205.7 L164.5,204.9 L165.6,204.1 L166.7,203.3 L167.8,202.6 L169.0,201.8 L170.1,201.0 L171.2,200.3 L172.3,199.6 L173.5,198.8 L174.6,198.1 L175.7,197.4 L176.9,196.6 L178.0,195.9 L179.2,195.2 L180.3,194.5 L181.5,193.8 L182.6,193.1 L183.8,192.4 L184.9,191.8 L186.1,191.1 L187.3,190.4 L188.4,189.7 L189.6,189.1 L190.8,188.4 L192.0,187.8 L193.2,187.1 L194.4,186.5 L195.5,185.9 L196.7,185.2 L197.9,184.6 L199.1,184.0 L200.3,183.4 L201.5,182.8 L202.8,182.2 L204.0,181.6 L205.2,181.0 L206.4,180.4 L207.6,179.8 L208.8,179.2 L210.1,178.7 L211.3,178.1 L212.5,177.5 L213.7,177.0 L215.0,176.4 L216.2,175.9 L217.5,175.3 L218.7,174.8 L219.9,174.2 L221.2,173.7 L222.4,173.2 L223.7,172.7 L224.9,172.2 L226.2,171.6 L227.4,171.1 L228.7,170.6 L230.0,170.1 L231.2,169.6 L232.5,169.1 L233.8,168.6 L235.0,168.2 L236.3,167.7 L237.6,167.2 L238.8,166.7 L240.1,166.3 L241.4,165.8 L242.7,165.4 L244.0,164.9 L245.2,164.5 L246.5,164.0 L247.8,163.6 L249.1,163.1 L250.4,162.7 L251.7,162.3 L253.0,161.8 L254.3,161.4 L255.6,161.0 L256.9,160.6 L258.2,160.2 L259.5,159.8 L260.8,159.4 L262.1,159.0 L263.4,158.6 L264.7,158.2 L266.0,157.8 L267.3,157.4 L268.6,157.0 L269.9,156.6 L271.2,156.2 L272.5,155.9 L273.8,155.5 L275.1,155.1 L276.5,154.8 L277.8,154.4 L279.1,154.1 L280.4,153.7 L281.7,153.4 L283.1,153.0 L284.4,152.7 L285.7,152.4 L287.0,152.0 L288.3,151.7 L289.7,151.4 L291.0,151.0 L292.3,150.7 L293.6,150.4 L295.0,150.1 L296.3,149.8 L297.6,149.5 L299.0,149.2 L300.3,148.9 L301.6,148.6 L303.0,148.3 L304.3,148.0 L305.6,147.7 L306.9,147.4 L308.3,147.1 L309.6,146.8 L310.9,146.6 L312.3,146.3 L313.6,146.0 L315.0,145.8 L316.3,145.5 L317.6,145.2 L319.0,145.0 L320.3,144.7 L321.6,144.5 L323.0,144.2 L324.3,144.0 L325.6,143.7 L327.0,143.5 L328.3,143.2 L329.7,143.0 L331.0,142.8 L332.3,142.5 L333.7,142.3 L335.0,142.1 L336.4,141.9 L337.7,141.6 L339.0,141.4 L340.4,141.2 L341.7,141.0 L343.0,140.8 L344.4,140.6 L345.7,140.4 L347.1,140.2 L348.4,140.0 L349.7,139.8 L351.1,139.6 L352.4,139.4 L353.7,139.2 L355.1,139.0 L356.4,138.9 L357.7,138.7 L359.1,138.5 L360.4,138.3 L361.7,138.1 L363.1,138.0 L364.4,137.8 L365.7,137.6" fill="none" stroke="#222" stroke-width="0.9" stroke-linecap="butt" stroke-linejoin="round" stroke-dasharray="2.4 3.2" stroke-dashoffset="4.2"/>
<rect x="362.60" y="135.40" width="5.6" height="2.4" rx="0.8" fill="#b69a85" transform="rotate(84 365.40 136.60)"/>
<rect x="160.20" y="203.70" width="5.4" height="2.6" rx="0.8" fill="#b69a85" transform="rotate(52 162.90 205.00)"/>
<path d="M71.8,384.2 L71.4,383.0 L71.1,381.7 L70.7,380.5 L70.4,379.2 L70.0,378.0 L69.7,376.7 L69.4,375.4 L69.1,374.2 L68.8,372.9 L68.5,371.6 L68.2,370.4 L68.0,369.1 L67.7,367.8 L67.5,366.6 L67.3,365.3 L67.0,364.0 L66.8,362.7 L66.6,361.4 L66.4,360.2 L66.3,358.9 L66.1,357.6 L65.9,356.3 L65.8,355.0 L65.6,353.7 L65.5,352.4 L65.4,351.1 L65.3,349.9 L65.2,348.6 L65.1,347.3 L65.0,346.0 L65.0,344.7 L64.9,343.4 L64.8,342.1 L64.8,340.8 L64.8,339.5 L64.8,338.2 L64.7,336.9 L64.7,335.6 L64.7,334.3 L64.8,333.0 L64.8,331.7 L64.8,330.4 L64.9,329.1 L64.9,327.8 L65.0,326.5 L65.1,325.2 L65.2,323.9 L65.3,322.6 L65.4,321.4 L65.5,320.1 L65.6,318.8 L65.7,317.5 L65.9,316.2 L66.0,314.9 L66.2,313.6 L66.4,312.3 L66.6,311.0 L66.7,309.8 L66.9,308.5 L67.2,307.2 L67.4,305.9 L67.6,304.7 L67.8,303.4 L68.1,302.1 L68.3,300.8 L68.6,299.6 L68.9,298.3 L69.2,297.0 L69.5,295.8 L69.8,294.5 L70.1,293.3 L70.4,292.0 L70.7,290.7 L71.1,289.5 L71.4,288.3 L71.8,287.0 L72.1,285.8 L72.5,284.5 L72.9,283.3 L73.3,282.1 L73.7,280.8 L74.1,279.6 L74.5,278.4 L75.0,277.2 L75.4,275.9 L75.9,274.7 L76.3,273.5 L76.8,272.3 L77.3,271.1 L77.7,269.9 L78.2,268.7 L78.7,267.5 L79.2,266.4 L79.8,265.2 L80.3,264.0 L80.8,262.8 L81.4,261.7 L81.9,260.5 L82.5,259.3 L83.1,258.2 L83.6,257.0 L84.2,255.9 L84.8,254.7 L85.4,253.6 L86.0,252.5 L86.7,251.3 L87.3,250.2 L87.9,249.1 L88.6,248.0 L89.2,246.9 L89.9,245.8 L90.6,244.7 L91.3,243.6 L91.9,242.5 L92.6,241.5 L93.4,240.4 L94.1,239.3 L94.8,238.3 L95.5,237.2 L96.3,236.2 L97.0,235.1 L97.8,234.1 L98.5,233.1 L99.3,232.0 L100.1,231.0 L100.9,230.0 L101.7,229.0 L102.5,228.0 L103.3,227.0 L104.1,226.0 L105.0,225.1 L105.8,224.1 L106.6,223.1 L107.5,222.2 L108.3,221.2 L109.2,220.3 L110.1,219.3 L111.0,218.4 L111.9,217.5 L112.8,216.5 L113.7,215.6 L114.6,214.7 L115.5,213.8 L116.4,212.9 L117.3,212.0 L118.3,211.1 L119.2,210.2 L120.1,209.4 L121.1,208.5 L122.1,207.6 L123.0,206.8 L124.0,205.9 L125.0,205.0 L125.9,204.2 L126.9,203.3 L127.9,202.5 L128.9,201.7 L129.9,200.8 L130.9,200.0 L131.9,199.2 L132.9,198.4 L134.0,197.6 L135.0,196.8 L136.0,196.0 L137.0,195.2 L138.1,194.4 L139.1,193.6 L140.2,192.8 L141.2,192.0 L142.3,191.3 L143.3,190.5 L144.4,189.7 L145.4,189.0 L146.5,188.2 L147.6,187.4 L148.7,186.7 L149.7,185.9 L150.8,185.2 L151.9,184.4 L153.0,183.7 L154.1,183.0 L155.2,182.2 L156.2,181.5 L157.3,180.8 L158.4,180.1 L159.5,179.4 L160.6,178.6 L161.7,177.9 L162.8,177.2 L164.0,176.5 L165.1,175.8 L166.2,175.1 L167.3,174.4 L168.4,173.7 L169.5,173.0 L170.6,172.3 L171.7,171.6 L172.9,171.0 L174.0,170.3 L175.1,169.6 L176.2,168.9 L177.3,168.2 L178.5,167.6 L179.6,166.9 L180.7,166.2 L181.8,165.6 L182.9,164.9 L184.1,164.2 L185.2,163.6 L186.3,162.9 L187.4,162.3 L188.6,161.6 L189.7,160.9 L190.8,160.3 L191.9,159.6 L193.0,159.0 L194.1,158.3 L195.3,157.7 L196.4,157.1 L197.5,156.4 L198.6,155.8 L199.7,155.1 L200.8,154.5 L202.0,153.9 L203.1,153.2 L204.2,152.6 L205.3,152.0 L206.4,151.4 L207.5,150.7 L208.7,150.1 L209.8,149.5 L210.9,148.9 L212.0,148.3 L213.2,147.7 L214.3,147.1 L215.4,146.5 L216.5,145.9 L217.7,145.3 L218.8,144.7 L219.9,144.1 L221.0,143.5 L222.2,142.9 L223.3,142.3 L224.4,141.8 L225.6,141.2 L226.7,140.6 L227.9,140.1 L229.0,139.5 L230.2,138.9 L231.3,138.4 L232.5,137.8 L233.6,137.3 L234.8,136.8 L235.9,136.2 L237.1,135.7 L238.3,135.2 L239.4,134.6 L240.6,134.1 L241.8,133.6 L242.9,133.1 L244.1,132.6 L245.3,132.1 L246.5,131.6 L247.7,131.1 L248.9,130.6 L250.1,130.2 L251.3,129.7 L252.5,129.2 L253.7,128.8 L254.9,128.3 L256.1,127.8 L257.3,127.4 L258.6,127.0 L259.8,126.5 L261.0,126.1 L262.3,125.7 L263.5,125.3 L264.7,124.8 L266.0,124.4 L267.2,124.1 L268.5,123.7 L269.8,123.3 L271.0,122.9 L272.3,122.6 L273.5,122.2 L274.8,121.9 L276.1,121.5 L277.3,121.2 L278.6,120.9 L279.9,120.6 L281.2,120.3 L282.4,120.0 L283.7,119.7 L285.0,119.5 L286.3,119.2 L287.6,119.0 L288.9,118.8 L290.2,118.5 L291.5,118.3 L292.7,118.1 L294.0,118.0 L295.3,117.8 L296.6,117.6 L297.9,117.5 L299.2,117.4 L300.5,117.3 L301.8,117.2 L303.1,117.1 L304.4,117.0 L305.7,116.9 L307.0,116.9 L308.3,116.9 L309.6,116.8 L310.9,116.8 L312.2,116.8 L313.5,116.8 L314.8,116.8 L316.1,116.8 L317.4,116.8 L318.7,116.8 L320.0,116.8 L321.3,116.8 L322.6,116.8 L323.9,116.8 L325.2,116.8 L326.5,116.7 L327.8,116.7 L329.1,116.6 L330.4,116.5 L331.7,116.5 L333.0,116.3 L334.2,116.2 L335.5,116.1 L336.8,115.9 L338.1,115.7 L339.3,115.5 L340.6,115.2 L341.9,115.0 L343.1,114.7 L344.4,114.3 L345.6,114.0 L346.9,113.5 L348.1,113.1 L349.3,112.6 L350.4,112.1 L351.6,111.5 L352.7,110.8 L353.8,110.2 L354.9,109.4 L355.9,108.7 L357.0,107.9 L357.9,107.1 L358.9,106.2 L359.8,105.3 L360.7,104.3 L361.5,103.4 L362.3,102.4 L363.1,101.3 L363.8,100.3 L364.5,99.2 L365.2,98.1 L365.8,97.0 L366.4,95.8 L367.0,94.7 L367.5,93.5 L368.0,92.3 L368.5,91.1 L369.0,89.8 L369.4,88.6 L369.8,87.4 L370.2,86.1 L370.6,84.8 L370.9,83.6 L371.2,82.3 L371.5,81.0 L371.8,79.7 L372.1,78.5 L372.3,77.2 L372.5,75.9 L372.7,74.7 L372.9,73.4 L373.1,72.1 L373.2,70.8 L373.3,69.6 L373.5,68.3 L373.6,67.0 L373.7,65.7 L373.7,64.5 L373.8,63.2 L373.8,61.9 L373.9,60.6 L373.9,59.3 L373.9,58.0 L373.9,56.7 L373.9,55.4 L373.9,54.1 L373.9,52.8 L373.8,51.5 L373.8,50.2" fill="none" stroke="#1b1310" stroke-width="2.4" stroke-linecap="butt" stroke-linejoin="round" />
<path d="M125.4,374.4 L125.2,373.3 L124.9,372.1 L124.7,371.0 L124.5,369.8 L124.3,368.7 L124.1,367.5 L123.9,366.4 L123.7,365.3 L123.5,364.1 L123.3,363.0 L123.1,361.8 L123.0,360.7 L122.8,359.5 L122.6,358.4 L122.5,357.2 L122.3,356.0 L122.2,354.9 L122.1,353.7 L122.0,352.6 L121.8,351.4 L121.7,350.3 L121.6,349.1 L121.5,348.0 L121.5,346.8 L121.4,345.6 L121.3,344.5 L121.3,343.3 L121.2,342.2 L121.2,341.0 L121.1,339.8 L121.1,338.7 L121.1,337.5 L121.0,336.4 L121.0,335.2 L121.0,334.1 L121.1,332.9 L121.1,331.7 L121.1,330.6 L121.1,329.4 L121.2,328.3 L121.2,327.1 L121.3,326.0 L121.4,324.8 L121.5,323.7 L121.6,322.5 L121.7,321.3 L121.8,320.2 L121.9,319.0 L122.0,317.9 L122.1,316.7 L122.3,315.6 L122.5,314.5 L122.6,313.3 L122.8,312.2 L123.0,311.0 L123.2,309.9 L123.4,308.7 L123.6,307.6 L123.8,306.5 L124.1,305.3 L124.3,304.2 L124.6,303.1 L124.9,301.9 L125.1,300.8 L125.4,299.7 L125.7,298.5 L126.0,297.4 L126.4,296.3 L126.7,295.2 L127.1,294.1 L127.4,292.9 L127.8,291.8 L128.2,290.7 L128.6,289.6 L129.0,288.5 L129.4,287.4 L129.8,286.4 L130.3,285.3 L130.7,284.2 L131.2,283.1 L131.7,282.1 L132.2,281.0 L132.7,280.0 L133.2,278.9 L133.7,277.9 L134.3,276.8 L134.8,275.8 L135.4,274.8 L136.0,273.8 L136.6,272.8 L137.2,271.8 L137.8,270.8 L138.4,269.9 L139.1,268.9 L139.8,268.0 L140.4,267.0 L141.1,266.1 L141.8,265.2 L142.6,264.3 L143.3,263.4 L144.1,262.5 L144.8,261.7 L145.6,260.8 L146.4,260.0 L147.2,259.1 L148.0,258.3 L148.9,257.5 L149.7,256.7 L150.6,255.9 L151.4,255.1 L152.3,254.4 L153.2,253.6 L154.1,252.8 L154.9,252.1 L155.8,251.3 L156.7,250.6 L157.6,249.8 L158.5,249.1 L159.4,248.3 L160.3,247.6 L161.3,246.9 L162.2,246.1 L163.1,245.4 L164.0,244.7 L164.9,244.0 L165.8,243.3 L166.7,242.5 L167.7,241.8 L168.6,241.1 L169.5,240.4 L170.4,239.7 L171.3,239.0 L172.3,238.3 L173.2,237.6 L174.1,236.9 L175.1,236.2 L176.0,235.5 L176.9,234.8 L177.9,234.1 L178.8,233.5 L179.8,232.8 L180.7,232.1 L181.6,231.4 L182.6,230.8 L183.5,230.1 L184.5,229.4 L185.4,228.8 L186.4,228.1 L187.3,227.5 L188.3,226.8 L189.2,226.2 L190.2,225.5 L191.2,224.9 L192.1,224.2 L193.1,223.6 L194.1,223.0 L195.0,222.3 L196.0,221.7 L197.0,221.1 L197.9,220.4 L198.9,219.8 L199.9,219.2 L200.9,218.6 L201.9,218.0 L202.8,217.4 L203.8,216.8 L204.8,216.2 L205.8,215.6 L206.8,215.0 L207.8,214.4 L208.8,213.8 L209.8,213.2 L210.8,212.6 L211.8,212.0 L212.8,211.5 L213.8,210.9 L214.8,210.3 L215.8,209.8 L216.8,209.2 L217.8,208.6 L218.8,208.1 L219.8,207.5 L220.9,207.0 L221.9,206.4 L222.9,205.9 L223.9,205.3 L224.9,204.8 L226.0,204.3 L227.0,203.7 L228.0,203.2 L229.1,202.7 L230.1,202.1 L231.1,201.6 L232.2,201.1 L233.2,200.6 L234.3,200.1 L235.3,199.6 L236.4,199.1 L237.4,198.6 L238.5,198.1 L239.5,197.6 L240.6,197.1 L241.6,196.6 L242.7,196.1 L243.8,195.7 L244.8,195.2 L245.9,194.7 L247.0,194.3 L248.0,193.8 L249.1,193.3 L250.2,192.9 L251.3,192.4 L252.3,192.0 L253.4,191.5 L254.5,191.1 L255.6,190.6 L256.7,190.2 L257.8,189.8 L258.9,189.3 L260.0,188.9 L261.1,188.5 L262.2,188.1 L263.3,187.7 L264.4,187.3 L265.5,186.9 L266.6,186.5 L267.7,186.1 L268.8,185.7 L269.9,185.3 L271.0,185.0 L272.1,184.6 L273.2,184.3 L274.4,183.9 L275.5,183.6 L276.6,183.2 L277.7,182.9 L278.8,182.6 L280.0,182.3 L281.1,182.0 L282.2,181.7 L283.3,181.4 L284.4,181.2 L285.6,180.9 L286.7,180.7 L287.8,180.4 L289.0,180.2 L290.1,180.0 L291.2,179.8 L292.3,179.6 L293.5,179.4 L294.6,179.2 L295.7,179.0 L296.9,178.9 L298.0,178.7 L299.1,178.6 L300.3,178.5 L301.4,178.4 L302.5,178.3 L303.7,178.2 L304.8,178.2 L305.9,178.1 L307.0,178.1 L308.2,178.0 L309.3,178.0 L310.4,178.0 L311.6,178.0 L312.7,178.0 L313.8,177.9 L315.0,177.9 L316.1,177.9 L317.3,177.9 L318.4,177.8 L319.5,177.8 L320.7,177.7 L321.8,177.7 L323.0,177.6 L324.1,177.5 L325.3,177.3 L326.5,177.2 L327.6,177.0 L328.8,176.8 L329.9,176.6 L331.1,176.3 L332.3,176.1 L333.5,175.8 L334.7,175.5 L335.8,175.2 L337.0,174.9 L338.2,174.6 L339.4,174.3 L340.6,174.0 L341.7,173.8 L342.9,173.6 L344.1,173.4 L345.3,173.2 L346.5,173.1 L347.6,173.1 L348.8,173.1 L350.0,173.1 L351.1,173.2 L352.3,173.4 L353.4,173.7 L354.5,174.1 L355.5,174.5 L356.5,175.0 L357.4,175.7 L358.3,176.4 L359.0,177.3 L359.6,178.2 L360.1,179.2 L360.6,180.3 L361.0,181.4 L361.3,182.6 L361.6,183.7 L361.9,184.9 L362.1,186.1 L362.4,187.3 L362.6,188.4 L362.8,189.6 L363.0,190.8 L363.3,191.9 L363.5,193.0 L363.8,194.1 L364.1,195.2 L364.4,196.3 L364.7,197.4 L365.1,198.5 L365.4,199.6 L365.8,200.7 L366.1,201.7 L366.5,202.8 L366.9,203.9 L367.2,205.0 L367.6,206.1 L368.1,207.1 L368.5,208.2 L368.9,209.3 L369.3,210.4 L369.8,211.5 L370.3,212.5 L370.7,213.6 L371.2,214.7 L371.7,215.8 L372.2,216.8 L372.7,217.9 L373.3,218.9 L373.8,220.0 L374.4,221.0 L374.9,222.0 L375.5,223.1 L376.1,224.1 L376.7,225.1 L377.3,226.1 L378.0,227.1 L378.6,228.0 L379.3,229.0 L379.9,230.0 L380.6,230.9 L381.3,231.8 L382.0,232.7 L382.8,233.6 L383.5,234.5 L384.3,235.4 L385.0,236.3 L385.8,237.1 L386.6,237.9 L387.5,238.7 L388.3,239.5 L389.1,240.3 L390.0,241.1 L390.9,241.8 L391.8,242.5 L392.7,243.2 L393.6,243.9 L394.6,244.6 L395.5,245.2 L396.5,245.8 L397.5,246.4 L398.5,247.0 L399.5,247.5 L400.6,248.0 L401.7,248.5 L402.7,249.0 L403.8,249.4 L404.9,249.8 L406.0,250.2 L407.1,250.5 L408.3,250.8 L409.4,251.1 L410.5,251.3 L411.7,251.4 L412.9,251.5 L414.0,251.6 L415.2,251.6 L416.4,251.6 L417.5,251.5 L418.7,251.5 L419.8,251.4 L421.0,251.4" fill="none" stroke="#1b1310" stroke-width="2.4" stroke-linecap="butt" stroke-linejoin="round" />
<rect x="357.15" y="108.75" width="2.5" height="2.5" fill="#11693a" transform="rotate(-7.1 358.40 110.00)"/>
<rect x="362.52" y="108.08" width="2.5" height="2.5" fill="#11693a" transform="rotate(-7.1 363.77 109.33)"/>
<rect x="367.88" y="107.42" width="2.5" height="2.5" fill="#11693a" transform="rotate(-7.1 369.13 108.67)"/>
<rect x="373.25" y="106.75" width="2.5" height="2.5" fill="#11693a" transform="rotate(-7.1 374.50 108.00)"/>
<rect x="378.62" y="106.08" width="2.5" height="2.5" fill="#11693a" transform="rotate(-7.1 379.87 107.33)"/>
<rect x="383.98" y="105.42" width="2.5" height="2.5" fill="#11693a" transform="rotate(-7.1 385.23 106.67)"/>
<rect x="389.35" y="104.75" width="2.5" height="2.5" fill="#11693a" transform="rotate(-7.1 390.60 106.00)"/>
<rect x="389.35" y="104.75" width="2.5" height="2.5" fill="#11693a" transform="rotate(82.9 390.60 106.00)"/>
<rect x="389.99" y="109.94" width="2.5" height="2.5" fill="#11693a" transform="rotate(82.9 391.24 111.19)"/>
<rect x="390.64" y="115.12" width="2.5" height="2.5" fill="#11693a" transform="rotate(82.9 391.89 116.37)"/>
<rect x="391.28" y="120.31" width="2.5" height="2.5" fill="#11693a" transform="rotate(82.9 392.53 121.56)"/>
<rect x="391.92" y="125.49" width="2.5" height="2.5" fill="#11693a" transform="rotate(82.9 393.17 126.74)"/>
<rect x="392.56" y="130.68" width="2.5" height="2.5" fill="#11693a" transform="rotate(82.9 393.81 131.93)"/>
<rect x="393.21" y="135.86" width="2.5" height="2.5" fill="#11693a" transform="rotate(82.9 394.46 137.11)"/>
<rect x="393.85" y="141.05" width="2.5" height="2.5" fill="#11693a" transform="rotate(82.9 395.10 142.30)"/>
<rect x="394.49" y="146.24" width="2.5" height="2.5" fill="#11693a" transform="rotate(82.9 395.74 147.49)"/>
<rect x="395.14" y="151.42" width="2.5" height="2.5" fill="#11693a" transform="rotate(82.9 396.39 152.67)"/>
<rect x="395.78" y="156.61" width="2.5" height="2.5" fill="#11693a" transform="rotate(82.9 397.03 157.86)"/>
<rect x="396.42" y="161.79" width="2.5" height="2.5" fill="#11693a" transform="rotate(82.9 397.67 163.04)"/>
<rect x="397.06" y="166.98" width="2.5" height="2.5" fill="#11693a" transform="rotate(82.9 398.31 168.23)"/>
<rect x="397.71" y="172.16" width="2.5" height="2.5" fill="#11693a" transform="rotate(82.9 398.96 173.41)"/>
<rect x="398.35" y="177.35" width="2.5" height="2.5" fill="#11693a" transform="rotate(82.9 399.60 178.60)"/>
<rect x="364.95" y="181.35" width="2.5" height="2.5" fill="#11693a" transform="rotate(-6.8 366.20 182.60)"/>
<rect x="370.52" y="180.68" width="2.5" height="2.5" fill="#11693a" transform="rotate(-6.8 371.77 181.93)"/>
<rect x="376.08" y="180.02" width="2.5" height="2.5" fill="#11693a" transform="rotate(-6.8 377.33 181.27)"/>
<rect x="381.65" y="179.35" width="2.5" height="2.5" fill="#11693a" transform="rotate(-6.8 382.90 180.60)"/>
<rect x="387.22" y="178.68" width="2.5" height="2.5" fill="#11693a" transform="rotate(-6.8 388.47 179.93)"/>
<rect x="392.78" y="178.02" width="2.5" height="2.5" fill="#11693a" transform="rotate(-6.8 394.03 179.27)"/>
<rect x="398.35" y="177.35" width="2.5" height="2.5" fill="#11693a" transform="rotate(-6.8 399.60 178.60)"/>
<rect x="357.15" y="108.75" width="2.5" height="2.5" fill="#11693a" transform="rotate(83.9 358.40 110.00)"/>
<rect x="357.71" y="113.94" width="2.5" height="2.5" fill="#11693a" transform="rotate(83.9 358.96 115.19)"/>
<rect x="358.26" y="119.12" width="2.5" height="2.5" fill="#11693a" transform="rotate(83.9 359.51 120.37)"/>
<rect x="358.82" y="124.31" width="2.5" height="2.5" fill="#11693a" transform="rotate(83.9 360.07 125.56)"/>
<rect x="359.38" y="129.49" width="2.5" height="2.5" fill="#11693a" transform="rotate(83.9 360.63 130.74)"/>
<rect x="359.94" y="134.68" width="2.5" height="2.5" fill="#11693a" transform="rotate(83.9 361.19 135.93)"/>
<rect x="360.49" y="139.86" width="2.5" height="2.5" fill="#11693a" transform="rotate(83.9 361.74 141.11)"/>
<rect x="361.05" y="145.05" width="2.5" height="2.5" fill="#11693a" transform="rotate(83.9 362.30 146.30)"/>
<rect x="361.61" y="150.24" width="2.5" height="2.5" fill="#11693a" transform="rotate(83.9 362.86 151.49)"/>
<rect x="362.16" y="155.42" width="2.5" height="2.5" fill="#11693a" transform="rotate(83.9 363.41 156.67)"/>
<rect x="362.72" y="160.61" width="2.5" height="2.5" fill="#11693a" transform="rotate(83.9 363.97 161.86)"/>
<rect x="363.28" y="165.79" width="2.5" height="2.5" fill="#11693a" transform="rotate(83.9 364.53 167.04)"/>
<rect x="363.84" y="170.98" width="2.5" height="2.5" fill="#11693a" transform="rotate(83.9 365.09 172.23)"/>
<rect x="364.39" y="176.16" width="2.5" height="2.5" fill="#11693a" transform="rotate(83.9 365.64 177.41)"/>
<rect x="364.95" y="181.35" width="2.5" height="2.5" fill="#11693a" transform="rotate(83.9 366.20 182.60)"/>
<rect x="349.70" y="59.50" width="2.3" height="2.3" fill="#1b1310" transform="rotate(82.7 350.85 60.65)"/>
<rect x="350.35" y="64.60" width="2.3" height="2.3" fill="#1b1310" transform="rotate(82.7 351.50 65.75)"/>
<rect x="351.00" y="69.71" width="2.3" height="2.3" fill="#1b1310" transform="rotate(82.7 352.15 70.86)"/>
<rect x="351.65" y="74.81" width="2.3" height="2.3" fill="#1b1310" transform="rotate(82.7 352.80 75.96)"/>
<rect x="352.31" y="79.92" width="2.3" height="2.3" fill="#1b1310" transform="rotate(82.7 353.46 81.07)"/>
<rect x="352.96" y="85.02" width="2.3" height="2.3" fill="#1b1310" transform="rotate(82.7 354.11 86.17)"/>
<rect x="353.61" y="90.12" width="2.3" height="2.3" fill="#1b1310" transform="rotate(82.7 354.76 91.27)"/>
<rect x="354.26" y="95.23" width="2.3" height="2.3" fill="#1b1310" transform="rotate(82.7 355.41 96.38)"/>
<rect x="354.91" y="100.33" width="2.3" height="2.3" fill="#1b1310" transform="rotate(82.7 356.06 101.48)"/>
<rect x="355.56" y="105.44" width="2.3" height="2.3" fill="#1b1310" transform="rotate(82.7 356.71 106.59)"/>
<rect x="356.21" y="110.54" width="2.3" height="2.3" fill="#1b1310" transform="rotate(82.7 357.36 111.69)"/>
<rect x="356.86" y="115.64" width="2.3" height="2.3" fill="#1b1310" transform="rotate(82.7 358.01 116.79)"/>
<rect x="357.52" y="120.75" width="2.3" height="2.3" fill="#1b1310" transform="rotate(82.7 358.67 121.90)"/>
<rect x="358.17" y="125.85" width="2.3" height="2.3" fill="#1b1310" transform="rotate(82.7 359.32 127.00)"/>
<rect x="358.82" y="130.96" width="2.3" height="2.3" fill="#1b1310" transform="rotate(82.7 359.97 132.11)"/>
<rect x="359.47" y="136.06" width="2.3" height="2.3" fill="#1b1310" transform="rotate(82.7 360.62 137.21)"/>
<rect x="360.12" y="141.16" width="2.3" height="2.3" fill="#1b1310" transform="rotate(82.7 361.27 142.31)"/>
<rect x="360.77" y="146.27" width="2.3" height="2.3" fill="#1b1310" transform="rotate(82.7 361.92 147.42)"/>
<rect x="361.42" y="151.37" width="2.3" height="2.3" fill="#1b1310" transform="rotate(82.7 362.57 152.52)"/>
<rect x="362.08" y="156.47" width="2.3" height="2.3" fill="#1b1310" transform="rotate(82.7 363.23 157.62)"/>
<rect x="362.73" y="161.58" width="2.3" height="2.3" fill="#1b1310" transform="rotate(82.7 363.88 162.73)"/>
<rect x="363.38" y="166.68" width="2.3" height="2.3" fill="#1b1310" transform="rotate(82.7 364.53 167.83)"/>
<rect x="364.03" y="171.79" width="2.3" height="2.3" fill="#1b1310" transform="rotate(82.7 365.18 172.94)"/>
<rect x="364.68" y="176.89" width="2.3" height="2.3" fill="#1b1310" transform="rotate(82.7 365.83 178.04)"/>
<rect x="365.33" y="181.99" width="2.3" height="2.3" fill="#1b1310" transform="rotate(82.7 366.48 183.14)"/>
<rect x="365.98" y="187.10" width="2.3" height="2.3" fill="#1b1310" transform="rotate(82.7 367.13 188.25)"/>
<rect x="366.63" y="192.20" width="2.3" height="2.3" fill="#1b1310" transform="rotate(82.7 367.78 193.35)"/>
<rect x="367.29" y="197.31" width="2.3" height="2.3" fill="#1b1310" transform="rotate(82.7 368.44 198.46)"/>
<rect x="367.94" y="202.41" width="2.3" height="2.3" fill="#1b1310" transform="rotate(82.7 369.09 203.56)"/>
<rect x="368.59" y="207.51" width="2.3" height="2.3" fill="#1b1310" transform="rotate(82.7 369.74 208.66)"/>
<rect x="369.24" y="212.62" width="2.3" height="2.3" fill="#1b1310" transform="rotate(82.7 370.39 213.77)"/>
<rect x="369.89" y="217.72" width="2.3" height="2.3" fill="#1b1310" transform="rotate(82.7 371.04 218.87)"/>
<rect x="370.54" y="222.83" width="2.3" height="2.3" fill="#1b1310" transform="rotate(82.7 371.69 223.98)"/>
<rect x="371.19" y="227.93" width="2.3" height="2.3" fill="#1b1310" transform="rotate(82.7 372.34 229.08)"/>
<rect x="371.84" y="233.03" width="2.3" height="2.3" fill="#1b1310" transform="rotate(82.7 372.99 234.18)"/>
<rect x="372.50" y="238.14" width="2.3" height="2.3" fill="#1b1310" transform="rotate(82.7 373.65 239.29)"/>
<rect x="373.15" y="243.24" width="2.3" height="2.3" fill="#1b1310" transform="rotate(82.7 374.30 244.39)"/>
<rect x="373.80" y="248.35" width="2.3" height="2.3" fill="#1b1310" transform="rotate(82.7 374.95 249.50)"/>
<rect x="374.45" y="253.45" width="2.3" height="2.3" fill="#1b1310" transform="rotate(82.7 375.60 254.60)"/>
<path d="M404.5,234.3 L407.1,235.8 L409.7,237.2 L412.3,238.5 L415.0,239.8 L417.6,241.0 L420.3,242.2 L423.0,243.4 L425.7,244.5 L428.5,245.6 L431.2,246.6 L434.0,247.6 L436.8,248.6 L439.6,249.6 L442.3,250.5 L445.1,251.4 L448.0,252.3 L450.8,253.2 L453.6,254.1 L456.4,255.0 L459.2,255.9 L462.0,256.8 L464.9,257.6 L467.7,258.5 L470.5,259.4 L473.3,260.3 L476.1,261.2 L478.9,262.2 L481.6,263.1 L484.4,264.1" fill="none" stroke="#1b1310" stroke-width="0.7" stroke-linecap="butt" stroke-linejoin="round" />
</g>
<g id="B">
<path d="M710.1,203.6 L710.9,202.9 L711.6,202.3 L712.3,201.7 L713.1,201.0 L713.8,200.4 L714.6,199.8 L715.3,199.1 L716.1,198.5 L716.8,197.9 L717.6,197.2 L718.3,196.6 L719.1,196.0 L719.9,195.4 L720.6,194.8 L721.4,194.1 L722.2,193.5 L722.9,192.9 L723.7,192.3 L724.5,191.7 L725.3,191.1 L726.1,190.5 L726.8,189.9 L727.6,189.3 L728.4,188.7 L729.2,188.1 L730.0,187.5 L730.8,186.9 L731.6,186.3 L732.4,185.7 L733.2,185.1 L734.0,184.6 L734.8,184.0 L735.6,183.4 L736.4,182.8 L737.2,182.2 L738.0,181.7 L738.8,181.1 L739.6,180.5 L740.4,179.9 L741.2,179.4 L742.0,178.8 L742.8,178.2 L743.6,177.6 L744.4,177.1 L745.3,176.5 L746.1,176.0 L746.9,175.4 L747.7,174.8 L748.5,174.3 L749.4,173.7 L750.2,173.2 L751.0,172.6 L751.8,172.0 L752.6,171.5 L753.5,170.9 L754.3,170.4 L755.1,169.8 L756.0,169.3 L756.8,168.7 L757.6,168.2 L758.4,167.6 L759.3,167.1 L760.1,166.5 L760.9,166.0 L761.8,165.4 L762.6,164.9 L763.4,164.4 L764.3,163.8 L765.1,163.3 L765.9,162.7 L766.8,162.2 L767.6,161.7 L768.4,161.1 L769.3,160.6 L770.1,160.1 L771.0,159.5 L771.8,159.0 L772.7,158.5 L773.5,158.0 L774.3,157.4 L775.2,156.9 L776.0,156.4 L776.9,155.9 L777.7,155.4 L778.6,154.9 L779.4,154.4 L780.3,153.9 L781.2,153.4 L782.0,152.8 L782.9,152.4 L783.7,151.9 L784.6,151.4 L785.5,150.9 L786.3,150.4 L787.2,149.9 L788.1,149.5 L789.0,149.0 L789.8,148.5 L790.7,148.1 L791.6,147.6 L792.5,147.2 L793.4,146.7 L794.3,146.3 L795.2,145.9 L796.1,145.4 L796.9,145.0 L797.8,144.5 L798.7,144.1 L799.6,143.7 L800.5,143.3 L801.4,142.8 L802.3,142.4 L803.2,142.0 L804.1,141.6 L805.0,141.2 L805.9,140.8 L806.8,140.3 L807.7,139.9 L808.7,139.5 L809.6,139.1 L810.5,138.7 L811.4,138.4 L812.3,138.0 L813.2,137.6 L814.1,137.2 L815.0,136.8 L816.0,136.4 L816.9,136.1 L817.8,135.7 L818.7,135.3 L819.7,135.0 L820.6,134.6 L821.5,134.3 L822.4,133.9 L823.4,133.6 L824.3,133.2 L825.2,132.9 L826.2,132.5 L827.1,132.2 L828.0,131.9 L829.0,131.5 L829.9,131.2 L830.8,130.9 L831.8,130.6 L832.7,130.3 L833.7,130.0 L834.6,129.7 L835.6,129.4 L836.5,129.1 L837.5,128.8 L838.4,128.5 L839.4,128.2 L840.3,128.0 L841.3,127.7 L842.2,127.4 L843.2,127.2 L844.2,126.9 L845.1,126.7 L846.1,126.4 L847.0,126.2 L848.0,126.0 L849.0,125.8 L849.9,125.5 L850.9,125.3 L851.9,125.1 L852.8,124.9 L853.8,124.7 L854.8,124.5 L855.8,124.4 L856.7,124.2 L857.7,124.0 L858.7,123.9 L859.7,123.7 L860.7,123.6 L861.6,123.4 L862.6,123.3 L863.6,123.2 L864.6,123.1 L865.6,122.9 L866.6,122.8 L867.5,122.7 L868.5,122.7 L869.5,122.6 L870.5,122.5 L871.5,122.4 L872.5,122.4 L873.5,122.3 L874.5,122.3 L875.5,122.3 L876.5,122.3 L877.4,122.2 L878.4,122.2 L879.4,122.2 L880.4,122.2 L881.4,122.2 L882.4,122.2 L883.4,122.2 L884.4,122.2 L885.4,122.2 L886.4,122.2 L887.4,122.2 L888.4,122.2 L889.4,122.2 L890.4,122.2 L891.4,122.2 L892.4,122.2 L893.4,122.2 L894.3,122.1 L895.3,122.1 L896.3,122.1 L897.3,122.0 L898.3,121.9 L899.3,121.9 L900.3,121.8 L901.3,121.7 L902.3,121.6 L903.3,121.5 L904.3,121.4 L905.3,121.2 L906.3,121.1 L907.3,120.9 L908.2,120.7 L909.2,120.5 L910.2,120.3 L911.2,120.1 L912.1,119.8 L913.1,119.5 L914.1,119.2 L915.0,118.9 L916.0,118.6 L916.9,118.2 L917.8,117.8 L918.7,117.4 L919.6,116.9 L920.5,116.4 L921.4,115.9 L922.2,115.4 L923.1,114.8 L923.9,114.2 L925.2,118.4 L926.6,118.4 L928.0,118.5 L929.4,118.6 L930.8,118.7 L932.2,118.9 L933.6,119.1 L935.0,119.4 L936.4,119.7 L937.8,120.1 L939.1,120.5 L940.5,120.9 L941.8,121.4 L943.1,122.0 L944.4,122.6 L945.7,123.2 L946.9,124.0 L948.1,124.7 L949.3,125.5 L950.4,126.3 L951.5,127.2 L952.5,128.1 L953.6,129.0 L954.6,130.0 L955.6,131.0 L956.6,132.1 L957.6,133.2 L958.7,134.3 L959.5,135.5 L960.3,136.7 L960.7,138.0 L960.8,139.3 L960.6,140.6 L960.1,141.9 L959.4,143.2 L958.6,144.5 L957.7,145.7 L956.8,146.9 L955.9,148.1 L955.0,149.2 L954.1,150.3 L953.2,151.3 L952.3,152.3 L951.2,153.2 L950.2,154.1 L949.1,155.0 L948.0,155.9 L946.8,156.7 L945.7,157.5 L944.5,158.3 L943.2,159.0 L942.0,159.7 L940.7,160.5 L939.5,161.1 L938.2,161.8 L937.0,162.5 L935.7,163.1 L934.5,163.8 L933.2,164.4 L932.0,165.0 L931.8,164.3 L930.7,164.4 L929.5,164.5 L928.4,164.7 L927.3,164.9 L926.1,165.1 L925.0,165.3 L923.9,165.6 L922.8,165.8 L921.7,166.1 L920.6,166.4 L919.6,166.7 L918.5,167.0 L917.4,167.3 L916.3,167.6 L915.3,167.9 L914.2,168.2 L913.2,168.5 L912.1,168.9 L911.1,169.2 L910.1,169.5 L909.0,169.8 L908.0,170.1 L907.0,170.4 L906.0,170.7 L904.9,171.0 L903.9,171.3 L902.9,171.5 L901.9,171.8 L900.9,172.1 L899.9,172.4 L899.0,172.7 L898.0,173.0 L897.0,173.3 L896.0,173.6 L895.1,173.9 L894.1,174.2 L893.2,174.5 L892.2,174.7 L891.3,175.0 L890.3,175.3 L889.4,175.6 L888.5,175.9 L887.6,176.1 L886.7,176.4 L885.8,176.7 L885.0,177.0 L884.1,177.2 L883.3,177.5 L882.5,177.7 L881.7,178.0 L880.9,178.2 L880.1,178.5 L879.3,178.8 L878.5,179.0 L877.7,179.3 L876.9,179.5 L876.1,179.8 L875.3,180.1 L874.5,180.3 L873.7,180.6 L872.9,180.8 L872.1,181.1 L871.3,181.4 L870.5,181.6 L869.7,181.9 L868.9,182.1 L868.1,182.4 L867.3,182.7 L866.5,182.9 L865.7,183.2 L864.9,183.4 L864.1,183.6 L863.3,183.8 L862.5,184.0 L861.7,184.1 L861.0,184.3 L860.2,184.5 L859.4,184.7 L858.6,184.9 L857.8,185.1 L857.0,185.3 L856.2,185.5 L855.4,185.7 L854.7,185.9 L853.9,186.1 L853.1,186.3 L852.3,186.5 L851.5,186.7 L850.7,186.9 L850.0,187.1 L849.2,187.4 L848.4,187.6 L847.6,187.8 L846.8,188.0 L846.1,188.3 L845.3,188.5 L844.5,188.7 L843.7,189.0 L842.9,189.2 L842.2,189.4 L841.4,189.7 L840.6,189.9 L839.9,190.2 L839.1,190.4 L838.3,190.7 L837.5,190.9 L836.8,191.2 L836.0,191.4 L835.2,191.7 L834.5,192.0 L833.7,192.2 L832.9,192.5 L832.2,192.8 L831.4,193.0 L830.6,193.3 L829.9,193.6 L829.1,193.9 L828.4,194.2 L827.6,194.4 L826.8,194.7 L826.1,195.0 L825.3,195.3 L824.6,195.6 L823.8,195.9 L823.0,196.2 L822.3,196.5 L821.5,196.8 L820.8,197.1 L820.0,197.4 L819.3,197.7 L818.5,198.0 L817.8,198.3 L817.0,198.6 L816.3,198.9 L815.5,199.2 L814.8,199.5 L814.0,199.8 L813.3,200.1 L812.5,200.4 L811.7,200.7 L811.0,201.0 L810.3,201.3 L809.5,201.6 L808.8,202.0 L808.0,202.3 L807.3,202.6 L806.5,202.9 L805.8,203.2 L805.0,203.6 L804.3,203.9 L803.5,204.2 L802.8,204.6 L802.1,204.9 L801.3,205.2 L800.6,205.6 L799.8,205.9 L799.1,206.2 L798.4,206.6 L797.6,206.9 L796.9,207.3 L796.2,207.6 L795.4,208.0 L794.7,208.3 L794.0,208.7 L793.2,209.0 L792.5,209.4 L791.8,209.8 L791.1,210.1 L790.3,210.5 L789.6,210.9 L788.9,211.2 L788.2,211.6 L787.4,212.0 L786.7,212.3 L786.0,212.7 L785.3,213.1 L784.5,213.5 L783.8,213.8 L783.1,214.2 L782.4,214.6 L781.7,215.0 L781.0,215.4 L780.2,215.8 L779.5,216.2 L778.8,216.6 L778.1,216.9 L777.4,217.3 L776.7,217.7 L776.0,218.1 L775.3,218.5 L774.6,218.9 L773.9,219.3 L773.2,219.7 L772.4,220.2 L771.7,220.6 L771.0,221.0 L770.3,221.4 L769.6,221.8 L768.9,222.2 L768.2,222.6 L767.5,223.0 L766.8,223.5 L766.1,223.9 L765.5,224.3 L764.8,224.7 L764.1,225.2 L763.4,225.6 L762.7,226.0 L762.0,226.4 L761.3,226.9 L760.6,227.3 L759.9,227.7 L759.2,228.2 L758.5,228.6 L757.9,229.1 L757.2,229.5 L756.5,229.9 L755.8,230.4 L755.1,230.8 L754.5,231.3 L753.8,231.7 L753.1,232.2 L752.4,232.6 L751.7,233.1 L751.1,233.5 L750.4,234.0 L749.7,234.4 L749.0,234.9 L748.4,235.4 L747.7,235.8 L747.0,236.3 L746.4,236.8 L745.7,237.2 L745.0,237.7 L744.4,238.2 L743.7,238.6 L743.0,239.1 L742.4,239.6 L741.7,240.0 L742.7,238.6 L741.4,239.2 L740.1,239.9 L738.8,240.5 L737.5,241.2 L736.2,241.8 L734.9,242.4 L733.5,243.0 L732.2,243.5 L730.8,244.1 L729.5,244.6 L728.1,245.1 L726.7,245.6 L725.4,246.1 L724.0,246.5 L722.6,246.9 L721.2,247.2 L719.8,247.5 L718.4,247.8 L717.0,248.0 L715.5,248.2 L714.1,248.3 L712.6,248.4 L711.1,248.4 L709.6,248.4 L708.2,248.2 L706.8,247.8 L705.5,247.2 L704.4,246.3 L703.5,245.2 L702.6,244.0 L702.0,242.6 L701.4,241.2 L701.0,239.8 L700.6,238.3 L700.4,236.9 L700.3,235.5 L700.3,234.0 L700.3,232.6 L700.5,231.2 L700.6,229.7 L700.9,228.3 L701.2,226.9 L701.5,225.5 L701.9,224.1 L702.3,222.6 L702.7,221.3 L703.1,219.9 L703.6,218.5 L704.0,217.1 L704.5,215.8 L705.0,214.4 L705.6,213.1 L706.1,211.7 L706.7,210.4 L707.3,209.1 L707.9,207.8 L708.5,206.5 L709.2,205.2 L709.9,203.9Z" fill="#b9b9b9"/>
<use href="#common" transform="translate(568 5)"/>
<path d="M960.6,138.2 L977.6,135.2" stroke="#1b1310" stroke-width="0.7"/>
<path d="M963.6,152.9 L977.4,145.2" stroke="#1b1310" stroke-width="0.7"/>
<path d="M658.4,379.4 L658.4,377.6 L658.4,375.8 L658.4,373.9 L658.4,372.1 L658.4,370.3 L658.5,368.5 L658.6,366.7 L658.7,364.8 L658.8,363.0 L658.9,361.2 L659.1,359.4 L659.2,357.6 L659.4,355.8 L659.6,354.0 L659.8,352.2 L660.0,350.4 L660.3,348.6 L660.5,346.8 L660.8,345.0 L661.1,343.2 L661.4,341.4 L661.7,339.6 L662.1,337.8 L662.4,336.1 L662.8,334.3 L663.2,332.5 L663.6,330.7 L664.0,329.0 L664.5,327.2 L664.9,325.5 L665.4,323.7 L665.9,322.0 L666.4,320.2 L666.9,318.5 L667.4,316.8 L668.0,315.0 L668.6,313.3 L669.1,311.6 L669.7,309.9 L670.3,308.2 L671.0,306.5 L671.6,304.8 L672.3,303.1 L673.0,301.4 L673.6,299.8 L674.4,298.1 L675.1,296.4 L675.8,294.8 L676.6,293.1 L677.3,291.5 L678.1,289.8 L678.9,288.2 L679.7,286.6 L680.6,285.0 L681.4,283.4 L682.3,281.8 L683.1,280.2 L684.0,278.6 L684.9,277.0 L685.8,275.5 L686.8,273.9 L687.7,272.4 L688.7,270.8 L689.6,269.3 L690.6,267.8 L691.6,266.3 L692.7,264.8 L693.7,263.3 L694.7,261.8 L695.8,260.3 L696.9,258.8 L698.0,257.4 L699.1,256.0 L700.2,254.5 L701.3,253.1 L702.5,251.7 L703.6,250.3 L704.8,248.9 L706.0,247.5" fill="none" stroke="#1b1310" stroke-width="0.8" stroke-linecap="butt" stroke-linejoin="round" />
<rect x="717.20" y="228.10" width="5.2" height="2.4" rx="0.8" fill="#b69a85" transform="rotate(45 719.80 229.30)"/>
<rect x="930.50" y="140.70" width="5.6" height="2.6" rx="0.8" fill="#b69a85" transform="rotate(84 933.30 142.00)"/>
<path d="M719.5,196.6 L718.9,197.2 L718.3,197.8 L717.5,198.6 L716.6,199.4 L715.5,200.5 L714.7,201.3 L714.0,202.0 L713.4,202.7 L713.0,203.2 L712.6,203.7 L712.3,204.1 L712.1,204.4 L712.0,204.7 L711.9,204.9 L712.0,204.9 L712.2,204.9 L712.5,204.9 L712.9,204.7 L713.4,204.5 L714.0,204.2 L714.6,203.8 L715.4,203.3 L716.2,202.8 L717.2,202.2 L718.6,201.3 L719.6,200.6 L720.4,200.1 L721.2,199.7 L721.9,199.4 L722.5,199.1 L723.0,198.9 L723.4,198.8 L723.8,198.8 L724.0,198.8 L724.1,199.0 L724.2,199.2 L724.1,199.5 L723.9,199.9 L723.7,200.3 L723.3,200.8 L722.9,201.4 L722.4,202.1 L721.8,202.9 L721.1,203.7 L720.0,204.8 L719.2,205.8 L718.5,206.6 L718.0,207.3 L717.5,208.0 L717.2,208.6 L716.9,209.1 L716.7,209.5 L716.6,209.9 L716.6,210.2 L716.7,210.4 L716.9,210.5 L717.2,210.6 L717.6,210.6 L718.1,210.5 L718.7,210.3 L719.4,210.0 L720.1,209.7 L721.0,209.3 L721.9,208.9 L723.1,208.3 L724.4,207.5 L725.4,207.1 L726.2,206.7 L727.0,206.4 L727.7,206.2 L728.3,206.1 L728.9,206.0 L729.3,206.0 L729.6,206.1 L729.9,206.3 L730.0,206.5 L730.0,206.8 L730.0,207.2 L729.8,207.7 L729.6,208.2 L729.3,208.8 L728.9,209.5 L728.4,210.2 L727.8,211.0 L727.1,211.9 L726.0,213.1 L725.4,214.0 L724.8,214.8 L724.4,215.5 L724.0,216.1 L723.8,216.7 L723.6,217.2 L723.5,217.7 L723.5,218.0 L723.6,218.3 L723.8,218.6 L724.1,218.7 L724.4,218.8 L724.9,218.7 L725.5,218.7 L726.1,218.5 L726.8,218.3 L727.6,218.0 L728.5,217.7 L729.5,217.3 L730.9,216.6 L732.0,216.1 L732.9,215.8 L733.8,215.5 L734.5,215.3 L735.2,215.2 L735.7,215.1 L736.2,215.1 L736.6,215.2 L736.9,215.4 L737.1,215.6 L737.3,215.9 L737.3,216.2 L737.2,216.6 L737.0,217.1 L736.8,217.7 L736.4,218.3 L736.0,219.0 L735.5,219.7 L734.9,220.5 L734.0,221.6 L733.2,222.5 L732.6,223.3 L732.2,224.0 L731.8,224.7 L731.5,225.3 L731.2,225.8 L731.1,226.3 L731.1,226.6 L731.1,227.0 L731.2,227.2 L731.4,227.4 L731.8,227.5 L732.2,227.5 L732.6,227.5 L733.2,227.4 L733.9,227.2 L734.6,227.0 L735.4,226.7 L736.3,226.4 L737.4,225.9 L738.7,225.3 L739.6,224.9 L740.5,224.6 L741.3,224.4 L741.9,224.2 L742.5,224.1 L743.0,224.1 L743.4,224.1 L743.8,224.2 L744.0,224.3 L744.1,224.5 L744.2,224.8 L744.1,225.1 L744.0,225.5 L743.8,226.0 L743.5,226.5 L743.1,227.1 L742.6,227.7 L742.0,228.4 L741.3,229.1 L740.3,230.1 L739.7,230.9 L739.1,231.6 L738.7,232.2 L738.3,232.7 L738.0,233.2 L737.7,233.7 L737.6,234.0 L737.5,234.3 L737.6,234.5 L737.7,234.7 L737.9,234.8 L738.2,234.8 L738.6,234.8 L739.1,234.7 L739.6,234.5 L740.2,234.3 L740.9,234.0 L741.7,233.7 L742.6,233.2 L743.8,232.6 L744.8,232.1 L745.6,231.7 L746.4,231.4 L747.0,231.2 L747.6,231.0 L748.1,230.8 L748.5,230.8 L748.8,230.7 L749.0,230.8 L749.1,230.9 L749.2,231.0 L749.1,231.2 L749.0,231.5 L748.7,231.8 L748.4,232.2 L748.0,232.7 L747.5,233.1 L747.0,233.7 L746.3,234.3 L745.4,235.1 L744.5,235.9 L743.8,236.5 L743.2,237.0 L742.7,237.5 L742.3,237.9 L742.0,238.3 L741.7,238.6 L741.6,238.8 L741.5,239.0 L741.5,239.1 L741.6,239.1 L741.7,239.1" fill="none" stroke="#1b1310" stroke-width="1.38" stroke-linecap="butt" stroke-linejoin="round" stroke-linecap="round"/>
<path d="M731.4,187.4 L730.8,187.9 L730.1,188.5 L729.4,189.2 L728.4,190.1 L727.2,191.1 L726.4,191.9 L725.7,192.6 L725.1,193.2 L724.6,193.7 L724.2,194.2 L723.8,194.6 L723.6,194.9 L723.5,195.1 L723.5,195.3 L723.6,195.4 L723.8,195.4 L724.1,195.3 L724.5,195.2 L725.0,195.0 L725.5,194.7 L726.2,194.4 L727.0,194.0 L727.9,193.5 L728.9,192.9 L730.3,192.0 L731.3,191.5 L732.2,191.0 L733.0,190.6 L733.7,190.3 L734.3,190.1 L734.8,189.9 L735.3,189.8 L735.6,189.8 L735.8,189.9 L736.0,190.0 L736.0,190.2 L735.9,190.5 L735.7,190.9 L735.4,191.4 L735.1,191.9 L734.6,192.5 L734.1,193.1 L733.4,193.8 L732.7,194.7 L731.6,195.8 L730.7,196.7 L730.0,197.5 L729.4,198.2 L729.0,198.8 L728.6,199.4 L728.3,199.9 L728.1,200.4 L728.0,200.7 L728.0,201.0 L728.1,201.2 L728.3,201.4 L728.6,201.5 L729.0,201.4 L729.5,201.4 L730.1,201.2 L730.7,201.0 L731.5,200.7 L732.4,200.4 L733.4,200.0 L734.5,199.4 L735.9,198.8 L736.9,198.4 L737.8,198.0 L738.6,197.8 L739.3,197.6 L739.9,197.5 L740.4,197.5 L740.8,197.5 L741.2,197.6 L741.4,197.8 L741.5,198.0 L741.6,198.3 L741.5,198.7 L741.3,199.2 L741.1,199.7 L740.7,200.3 L740.3,201.0 L739.8,201.7 L739.1,202.5 L738.4,203.4 L737.3,204.5 L736.6,205.4 L736.0,206.2 L735.6,206.9 L735.2,207.5 L734.9,208.1 L734.7,208.6 L734.6,209.0 L734.6,209.4 L734.6,209.7 L734.8,210.0 L735.1,210.1 L735.5,210.2 L735.9,210.2 L736.5,210.2 L737.2,210.1 L737.9,209.9 L738.7,209.7 L739.6,209.4 L740.7,209.0 L742.1,208.4 L743.1,208.0 L744.1,207.7 L744.9,207.4 L745.7,207.3 L746.4,207.2 L746.9,207.1 L747.4,207.2 L747.8,207.3 L748.1,207.4 L748.3,207.7 L748.4,208.0 L748.4,208.3 L748.3,208.7 L748.1,209.2 L747.9,209.8 L747.5,210.4 L747.1,211.0 L746.5,211.8 L745.9,212.6 L744.9,213.6 L744.1,214.5 L743.5,215.3 L743.0,216.0 L742.6,216.7 L742.3,217.2 L742.0,217.8 L741.9,218.2 L741.8,218.6 L741.9,219.0 L742.0,219.2 L742.2,219.4 L742.5,219.5 L742.9,219.6 L743.4,219.6 L744.0,219.5 L744.6,219.4 L745.4,219.2 L746.2,219.0 L747.1,218.6 L748.2,218.2 L749.5,217.7 L750.5,217.3 L751.3,217.1 L752.1,216.9 L752.8,216.8 L753.4,216.7 L753.9,216.7 L754.3,216.7 L754.6,216.8 L754.8,216.9 L755.0,217.2 L755.0,217.4 L754.9,217.8 L754.8,218.2 L754.5,218.6 L754.2,219.1 L753.8,219.7 L753.3,220.3 L752.7,221.0 L752.0,221.7 L751.0,222.7 L750.3,223.5 L749.7,224.1 L749.2,224.7 L748.8,225.3 L748.5,225.7 L748.3,226.2 L748.1,226.5 L748.0,226.8 L748.1,227.1 L748.2,227.2 L748.4,227.3 L748.7,227.4 L749.1,227.4 L749.5,227.3 L750.1,227.1 L750.7,226.9 L751.4,226.7 L752.2,226.4 L753.1,226.0 L754.4,225.4 L755.4,224.9 L756.2,224.6 L756.9,224.3 L757.6,224.1 L758.2,223.9 L758.7,223.8 L759.1,223.8 L759.4,223.8 L759.6,223.8 L759.7,223.9 L759.7,224.1 L759.7,224.3 L759.5,224.6 L759.3,224.9 L758.9,225.3 L758.5,225.7 L758.0,226.2 L757.4,226.7 L756.8,227.3 L755.8,228.0 L754.9,228.8 L754.2,229.4 L753.6,229.9 L753.1,230.3 L752.7,230.8 L752.4,231.1 L752.1,231.4 L751.9,231.6 L751.8,231.8 L751.8,231.9 L751.9,232.0 L752.1,232.0" fill="none" stroke="#1b1310" stroke-width="1.38" stroke-linecap="butt" stroke-linejoin="round" stroke-linecap="round"/>
<path d="M743.7,178.6 L743.1,179.1 L742.4,179.7 L741.6,180.4 L740.6,181.2 L739.3,182.2 L738.5,182.9 L737.8,183.6 L737.1,184.2 L736.6,184.7 L736.2,185.1 L735.8,185.5 L735.6,185.8 L735.5,186.1 L735.5,186.2 L735.5,186.3 L735.7,186.4 L736.0,186.3 L736.4,186.2 L736.9,186.0 L737.5,185.8 L738.2,185.4 L739.0,185.1 L739.9,184.6 L741.0,184.1 L742.4,183.3 L743.4,182.7 L744.3,182.3 L745.1,182.0 L745.9,181.7 L746.5,181.5 L747.0,181.3 L747.4,181.2 L747.8,181.2 L748.0,181.3 L748.1,181.5 L748.1,181.7 L748.0,182.0 L747.8,182.4 L747.5,182.8 L747.2,183.3 L746.7,183.9 L746.1,184.6 L745.5,185.3 L744.7,186.1 L743.5,187.1 L742.6,188.0 L741.9,188.8 L741.3,189.5 L740.8,190.1 L740.4,190.7 L740.1,191.2 L739.8,191.7 L739.7,192.0 L739.7,192.3 L739.8,192.6 L740.0,192.7 L740.3,192.8 L740.7,192.8 L741.2,192.8 L741.8,192.6 L742.5,192.5 L743.3,192.2 L744.1,191.9 L745.1,191.6 L746.3,191.0 L747.7,190.4 L748.7,190.1 L749.6,189.8 L750.4,189.6 L751.1,189.4 L751.7,189.3 L752.3,189.3 L752.7,189.4 L753.0,189.5 L753.2,189.7 L753.3,189.9 L753.4,190.3 L753.3,190.7 L753.1,191.1 L752.8,191.7 L752.5,192.2 L752.0,192.9 L751.5,193.6 L750.8,194.4 L750.0,195.3 L748.9,196.4 L748.2,197.2 L747.6,198.0 L747.1,198.7 L746.7,199.3 L746.4,199.9 L746.1,200.4 L746.0,200.9 L746.0,201.2 L746.0,201.6 L746.2,201.8 L746.5,202.0 L746.9,202.1 L747.3,202.1 L747.9,202.1 L748.5,202.0 L749.3,201.9 L750.1,201.7 L751.0,201.4 L752.1,201.1 L753.5,200.5 L754.6,200.2 L755.5,199.9 L756.4,199.7 L757.1,199.6 L757.8,199.5 L758.4,199.5 L758.9,199.6 L759.3,199.7 L759.6,199.9 L759.8,200.1 L759.8,200.4 L759.8,200.8 L759.7,201.2 L759.5,201.7 L759.2,202.3 L758.9,202.9 L758.4,203.5 L757.8,204.3 L757.2,205.0 L756.2,206.0 L755.3,206.9 L754.7,207.7 L754.2,208.4 L753.7,209.1 L753.4,209.6 L753.1,210.2 L753.0,210.6 L752.9,211.0 L752.9,211.4 L753.0,211.6 L753.2,211.8 L753.5,212.0 L753.9,212.1 L754.4,212.1 L755.0,212.0 L755.6,211.9 L756.4,211.8 L757.2,211.6 L758.1,211.3 L759.2,210.9 L760.6,210.4 L761.5,210.1 L762.4,209.9 L763.2,209.8 L763.8,209.7 L764.4,209.6 L764.9,209.6 L765.4,209.7 L765.7,209.8 L765.9,210.0 L766.0,210.2 L766.0,210.5 L766.0,210.8 L765.8,211.2 L765.5,211.7 L765.2,212.2 L764.8,212.7 L764.2,213.3 L763.6,214.0 L762.9,214.7 L761.8,215.7 L761.1,216.4 L760.5,217.0 L760.0,217.6 L759.6,218.2 L759.3,218.6 L759.0,219.1 L758.8,219.4 L758.8,219.7 L758.8,220.0 L758.9,220.1 L759.1,220.3 L759.4,220.3 L759.8,220.3 L760.2,220.2 L760.8,220.1 L761.4,220.0 L762.1,219.7 L762.9,219.5 L763.9,219.1 L765.1,218.6 L766.1,218.2 L767.0,217.9 L767.7,217.6 L768.4,217.4 L769.0,217.3 L769.4,217.2 L769.8,217.1 L770.2,217.1 L770.4,217.2 L770.5,217.3 L770.5,217.5 L770.4,217.7 L770.3,218.0 L770.0,218.3 L769.7,218.7 L769.2,219.1 L768.7,219.5 L768.1,220.0 L767.4,220.6 L766.5,221.3 L765.5,222.1 L764.8,222.6 L764.2,223.1 L763.7,223.6 L763.3,224.0 L762.9,224.3 L762.6,224.6 L762.4,224.8 L762.3,225.0 L762.3,225.1 L762.4,225.2 L762.6,225.2" fill="none" stroke="#1b1310" stroke-width="1.38" stroke-linecap="butt" stroke-linejoin="round" stroke-linecap="round"/>
<path d="M756.2,170.1 L755.6,170.6 L754.9,171.2 L754.1,171.8 L753.0,172.6 L751.8,173.6 L750.9,174.3 L750.1,174.9 L749.5,175.5 L749.0,176.0 L748.5,176.5 L748.2,176.9 L747.9,177.2 L747.8,177.4 L747.8,177.6 L747.8,177.7 L748.0,177.7 L748.3,177.7 L748.7,177.6 L749.2,177.4 L749.8,177.2 L750.6,176.9 L751.4,176.5 L752.3,176.1 L753.3,175.6 L754.7,174.8 L755.8,174.3 L756.7,173.9 L757.5,173.6 L758.3,173.4 L758.9,173.2 L759.4,173.0 L759.8,173.0 L760.2,173.0 L760.4,173.1 L760.5,173.3 L760.5,173.5 L760.4,173.8 L760.2,174.2 L759.9,174.6 L759.5,175.1 L759.0,175.7 L758.4,176.3 L757.7,177.0 L756.9,177.8 L755.7,178.9 L754.8,179.8 L754.1,180.5 L753.4,181.2 L752.9,181.8 L752.5,182.4 L752.2,182.9 L751.9,183.3 L751.8,183.7 L751.8,184.0 L751.8,184.3 L752.0,184.4 L752.3,184.5 L752.7,184.6 L753.2,184.5 L753.8,184.4 L754.5,184.3 L755.3,184.1 L756.2,183.8 L757.2,183.5 L758.4,183.0 L759.8,182.4 L760.8,182.1 L761.7,181.9 L762.5,181.7 L763.2,181.6 L763.8,181.5 L764.3,181.5 L764.8,181.6 L765.1,181.7 L765.3,181.9 L765.4,182.2 L765.4,182.5 L765.3,182.9 L765.1,183.4 L764.8,183.9 L764.4,184.5 L764.0,185.2 L763.4,185.9 L762.7,186.6 L761.9,187.5 L760.8,188.6 L760.0,189.4 L759.4,190.2 L758.9,190.9 L758.4,191.5 L758.1,192.1 L757.9,192.6 L757.7,193.1 L757.7,193.4 L757.7,193.8 L757.9,194.0 L758.1,194.2 L758.5,194.4 L759.0,194.4 L759.5,194.4 L760.2,194.4 L760.9,194.3 L761.8,194.1 L762.7,193.9 L763.7,193.6 L765.2,193.1 L766.3,192.8 L767.2,192.6 L768.1,192.4 L768.8,192.3 L769.5,192.3 L770.1,192.3 L770.6,192.4 L771.0,192.5 L771.2,192.7 L771.4,193.0 L771.5,193.3 L771.5,193.7 L771.3,194.1 L771.1,194.6 L770.8,195.1 L770.4,195.7 L769.9,196.4 L769.4,197.1 L768.7,197.9 L767.6,198.9 L766.8,199.7 L766.1,200.5 L765.6,201.2 L765.1,201.8 L764.7,202.4 L764.4,202.9 L764.3,203.4 L764.2,203.8 L764.2,204.1 L764.3,204.4 L764.5,204.6 L764.8,204.8 L765.2,204.9 L765.6,205.0 L766.2,204.9 L766.9,204.9 L767.6,204.8 L768.5,204.6 L769.4,204.4 L770.5,204.0 L771.8,203.6 L772.8,203.3 L773.7,203.1 L774.5,203.0 L775.1,202.9 L775.7,202.9 L776.2,202.9 L776.6,203.0 L776.9,203.2 L777.2,203.3 L777.3,203.6 L777.3,203.9 L777.2,204.2 L777.0,204.6 L776.7,205.1 L776.4,205.6 L775.9,206.1 L775.4,206.7 L774.8,207.4 L774.0,208.1 L772.9,209.0 L772.2,209.7 L771.5,210.3 L771.0,210.9 L770.6,211.4 L770.2,211.9 L770.0,212.3 L769.8,212.7 L769.7,213.0 L769.7,213.2 L769.8,213.4 L770.0,213.6 L770.3,213.6 L770.7,213.6 L771.2,213.6 L771.7,213.5 L772.3,213.4 L773.1,213.2 L773.9,212.9 L774.8,212.6 L776.1,212.1 L777.1,211.8 L777.9,211.5 L778.7,211.3 L779.4,211.1 L779.9,211.0 L780.4,210.9 L780.8,210.9 L781.1,210.9 L781.4,211.0 L781.5,211.1 L781.5,211.3 L781.4,211.5 L781.2,211.8 L781.0,212.1 L780.6,212.4 L780.2,212.8 L779.6,213.3 L779.0,213.8 L778.3,214.3 L777.3,215.0 L776.3,215.7 L775.6,216.3 L775.0,216.7 L774.5,217.2 L774.0,217.6 L773.6,217.9 L773.4,218.2 L773.2,218.4 L773.1,218.6 L773.1,218.7 L773.1,218.8 L773.3,218.8" fill="none" stroke="#1b1310" stroke-width="1.38" stroke-linecap="butt" stroke-linejoin="round" stroke-linecap="round"/>
<path d="M768.9,161.8 L768.3,162.3 L767.6,162.9 L766.7,163.5 L765.7,164.3 L764.4,165.3 L763.5,166.0 L762.7,166.6 L762.1,167.2 L761.5,167.7 L761.1,168.1 L760.7,168.5 L760.5,168.8 L760.3,169.0 L760.3,169.2 L760.4,169.3 L760.6,169.4 L760.8,169.4 L761.3,169.3 L761.8,169.1 L762.4,168.9 L763.1,168.6 L763.9,168.3 L764.8,167.9 L765.9,167.4 L767.3,166.7 L768.4,166.2 L769.3,165.8 L770.1,165.5 L770.9,165.3 L771.5,165.1 L772.0,165.0 L772.4,165.0 L772.8,165.0 L773.0,165.1 L773.1,165.3 L773.1,165.5 L773.0,165.8 L772.7,166.2 L772.4,166.7 L772.0,167.2 L771.5,167.7 L770.9,168.4 L770.2,169.1 L769.4,169.9 L768.2,170.9 L767.2,171.8 L766.4,172.5 L765.8,173.2 L765.3,173.8 L764.8,174.4 L764.5,174.9 L764.2,175.3 L764.1,175.7 L764.0,176.0 L764.1,176.3 L764.3,176.5 L764.6,176.6 L765.0,176.6 L765.5,176.6 L766.1,176.5 L766.8,176.4 L767.6,176.2 L768.4,176.0 L769.4,175.7 L770.7,175.3 L772.0,174.7 L773.1,174.4 L774.0,174.2 L774.8,174.1 L775.5,174.0 L776.1,173.9 L776.6,174.0 L777.0,174.1 L777.4,174.2 L777.6,174.4 L777.7,174.7 L777.7,175.1 L777.5,175.5 L777.3,176.0 L777.0,176.5 L776.6,177.1 L776.1,177.7 L775.5,178.4 L774.8,179.2 L774.0,180.1 L772.8,181.1 L772.0,182.0 L771.4,182.7 L770.9,183.4 L770.4,184.0 L770.0,184.6 L769.8,185.1 L769.6,185.6 L769.6,186.0 L769.6,186.3 L769.8,186.6 L770.0,186.8 L770.4,187.0 L770.8,187.0 L771.4,187.1 L772.0,187.1 L772.8,187.0 L773.6,186.9 L774.5,186.7 L775.6,186.4 L777.0,186.0 L778.2,185.7 L779.1,185.5 L780.0,185.4 L780.7,185.3 L781.4,185.3 L782.0,185.4 L782.4,185.5 L782.8,185.6 L783.1,185.8 L783.3,186.1 L783.3,186.4 L783.3,186.8 L783.2,187.3 L782.9,187.8 L782.6,188.3 L782.2,188.9 L781.7,189.6 L781.1,190.3 L780.4,191.0 L779.3,192.0 L778.4,192.9 L777.7,193.6 L777.1,194.3 L776.7,194.9 L776.3,195.5 L776.0,196.0 L775.8,196.5 L775.7,196.9 L775.7,197.3 L775.7,197.6 L775.9,197.8 L776.2,198.0 L776.6,198.1 L777.1,198.2 L777.7,198.2 L778.3,198.2 L779.1,198.1 L779.9,197.9 L780.8,197.8 L782.0,197.5 L783.3,197.1 L784.3,196.8 L785.2,196.7 L785.9,196.6 L786.6,196.6 L787.2,196.6 L787.7,196.6 L788.1,196.7 L788.4,196.9 L788.6,197.1 L788.7,197.3 L788.7,197.6 L788.6,198.0 L788.4,198.4 L788.2,198.9 L787.8,199.4 L787.3,199.9 L786.8,200.5 L786.1,201.1 L785.3,201.8 L784.2,202.7 L783.4,203.4 L782.8,204.0 L782.2,204.6 L781.8,205.1 L781.4,205.6 L781.1,206.0 L780.9,206.3 L780.8,206.6 L780.8,206.9 L780.9,207.1 L781.1,207.2 L781.4,207.3 L781.8,207.4 L782.3,207.3 L782.8,207.3 L783.5,207.2 L784.2,207.0 L785.0,206.8 L785.9,206.5 L787.2,206.1 L788.3,205.7 L789.1,205.5 L789.9,205.3 L790.5,205.2 L791.1,205.1 L791.6,205.1 L792.0,205.0 L792.3,205.1 L792.5,205.2 L792.7,205.3 L792.7,205.5 L792.6,205.7 L792.4,206.0 L792.1,206.3 L791.7,206.6 L791.3,207.0 L790.7,207.4 L790.1,207.9 L789.4,208.4 L788.4,209.1 L787.4,209.8 L786.6,210.3 L786.0,210.8 L785.4,211.2 L785.0,211.5 L784.6,211.9 L784.3,212.1 L784.1,212.4 L784.0,212.5 L784.0,212.7 L784.1,212.7 L784.2,212.7" fill="none" stroke="#1b1310" stroke-width="1.38" stroke-linecap="butt" stroke-linejoin="round" stroke-linecap="round"/>
<path d="M781.9,153.9 L781.2,154.4 L780.5,154.9 L779.6,155.6 L778.6,156.3 L777.2,157.2 L776.3,157.9 L775.5,158.5 L774.9,159.1 L774.3,159.6 L773.8,160.0 L773.4,160.4 L773.2,160.7 L773.0,160.9 L773.0,161.1 L773.1,161.2 L773.3,161.3 L773.6,161.3 L774.0,161.2 L774.5,161.1 L775.1,160.9 L775.8,160.6 L776.6,160.3 L777.5,160.0 L778.6,159.5 L780.1,158.8 L781.2,158.4 L782.1,158.1 L782.9,157.8 L783.7,157.6 L784.3,157.5 L784.8,157.4 L785.3,157.4 L785.6,157.4 L785.8,157.5 L785.9,157.7 L785.9,158.0 L785.8,158.3 L785.5,158.7 L785.2,159.1 L784.8,159.6 L784.2,160.2 L783.6,160.8 L782.9,161.5 L782.0,162.2 L780.8,163.2 L779.8,164.1 L779.0,164.8 L778.4,165.5 L777.8,166.1 L777.3,166.6 L777.0,167.2 L776.7,167.6 L776.6,168.0 L776.5,168.3 L776.6,168.6 L776.7,168.8 L777.0,168.9 L777.4,169.0 L777.9,169.0 L778.5,168.9 L779.2,168.8 L780.0,168.7 L780.9,168.5 L781.9,168.2 L783.1,167.8 L784.5,167.4 L785.6,167.1 L786.5,167.0 L787.3,166.8 L788.0,166.8 L788.6,166.8 L789.1,166.8 L789.5,167.0 L789.9,167.1 L790.1,167.4 L790.1,167.7 L790.1,168.0 L790.0,168.4 L789.8,168.9 L789.4,169.5 L789.0,170.0 L788.5,170.7 L787.9,171.4 L787.2,172.1 L786.3,173.0 L785.1,174.0 L784.3,174.8 L783.6,175.6 L783.0,176.2 L782.6,176.9 L782.2,177.4 L781.9,178.0 L781.7,178.4 L781.7,178.8 L781.7,179.2 L781.8,179.5 L782.1,179.7 L782.4,179.9 L782.9,180.0 L783.5,180.1 L784.1,180.1 L784.8,180.0 L785.7,179.9 L786.6,179.8 L787.7,179.6 L789.1,179.2 L790.3,179.0 L791.2,178.8 L792.1,178.7 L792.8,178.7 L793.5,178.8 L794.1,178.8 L794.6,179.0 L794.9,179.1 L795.2,179.4 L795.3,179.7 L795.4,180.0 L795.4,180.4 L795.2,180.9 L794.9,181.4 L794.6,181.9 L794.2,182.5 L793.6,183.2 L793.0,183.8 L792.3,184.6 L791.2,185.5 L790.2,186.4 L789.5,187.1 L788.9,187.8 L788.4,188.4 L788.0,189.0 L787.7,189.5 L787.5,190.0 L787.4,190.4 L787.3,190.8 L787.4,191.1 L787.6,191.3 L787.9,191.5 L788.3,191.7 L788.7,191.8 L789.3,191.8 L790.0,191.8 L790.7,191.8 L791.6,191.7 L792.5,191.5 L793.7,191.3 L795.0,190.9 L796.0,190.8 L796.9,190.7 L797.6,190.6 L798.3,190.6 L798.9,190.6 L799.4,190.7 L799.8,190.9 L800.1,191.0 L800.3,191.2 L800.4,191.5 L800.4,191.8 L800.3,192.2 L800.1,192.6 L799.8,193.0 L799.4,193.5 L798.9,194.1 L798.3,194.6 L797.6,195.2 L796.8,195.9 L795.7,196.8 L794.9,197.4 L794.2,198.1 L793.7,198.6 L793.2,199.1 L792.8,199.6 L792.5,200.0 L792.3,200.4 L792.2,200.7 L792.2,200.9 L792.3,201.1 L792.5,201.3 L792.7,201.4 L793.1,201.5 L793.6,201.5 L794.2,201.4 L794.8,201.3 L795.5,201.2 L796.4,201.0 L797.3,200.8 L798.6,200.4 L799.6,200.1 L800.5,199.9 L801.3,199.8 L801.9,199.7 L802.5,199.6 L803.0,199.6 L803.4,199.6 L803.7,199.7 L803.9,199.8 L804.1,199.9 L804.1,200.1 L804.0,200.3 L803.8,200.6 L803.5,200.9 L803.1,201.2 L802.6,201.6 L802.1,202.0 L801.4,202.5 L800.7,203.0 L799.6,203.6 L798.6,204.2 L797.8,204.7 L797.2,205.2 L796.6,205.6 L796.1,205.9 L795.8,206.2 L795.5,206.5 L795.2,206.7 L795.1,206.9 L795.1,207.0 L795.2,207.1 L795.4,207.1" fill="none" stroke="#1b1310" stroke-width="1.38" stroke-linecap="butt" stroke-linejoin="round" stroke-linecap="round"/>
<path d="M795.2,146.8 L794.6,147.2 L793.8,147.7 L792.9,148.3 L791.8,149.0 L790.4,149.8 L789.4,150.4 L788.6,151.0 L787.9,151.5 L787.3,151.9 L786.8,152.3 L786.4,152.7 L786.2,153.0 L786.0,153.3 L786.0,153.4 L786.0,153.6 L786.2,153.6 L786.5,153.6 L786.9,153.6 L787.5,153.5 L788.1,153.3 L788.8,153.1 L789.6,152.9 L790.6,152.6 L791.7,152.2 L793.2,151.6 L794.3,151.3 L795.3,151.0 L796.2,150.8 L796.9,150.7 L797.5,150.6 L798.1,150.5 L798.5,150.5 L798.8,150.6 L799.1,150.8 L799.1,150.9 L799.1,151.2 L799.0,151.5 L798.7,151.9 L798.4,152.3 L797.9,152.8 L797.4,153.3 L796.7,153.9 L795.9,154.5 L795.1,155.2 L793.7,156.1 L792.7,156.9 L791.9,157.6 L791.2,158.2 L790.6,158.8 L790.1,159.4 L789.7,159.9 L789.5,160.3 L789.3,160.7 L789.2,161.0 L789.3,161.3 L789.4,161.5 L789.7,161.7 L790.1,161.8 L790.6,161.8 L791.2,161.8 L791.9,161.7 L792.7,161.6 L793.6,161.5 L794.7,161.3 L795.9,161.0 L797.4,160.6 L798.4,160.5 L799.3,160.3 L800.2,160.3 L800.9,160.3 L801.5,160.3 L802.0,160.4 L802.4,160.6 L802.7,160.8 L802.9,161.0 L803.0,161.3 L803.0,161.7 L802.8,162.1 L802.6,162.6 L802.2,163.1 L801.8,163.7 L801.2,164.3 L800.6,164.9 L799.8,165.6 L798.9,166.4 L797.6,167.4 L796.8,168.2 L796.1,168.9 L795.5,169.5 L795.0,170.2 L794.6,170.7 L794.3,171.2 L794.1,171.7 L794.0,172.1 L794.0,172.5 L794.2,172.8 L794.4,173.0 L794.8,173.2 L795.2,173.4 L795.8,173.5 L796.4,173.5 L797.2,173.5 L798.0,173.5 L798.9,173.4 L800.0,173.3 L801.5,173.0 L802.6,172.8 L803.6,172.7 L804.5,172.7 L805.3,172.7 L805.9,172.8 L806.5,172.9 L807.0,173.1 L807.3,173.3 L807.6,173.6 L807.7,173.9 L807.8,174.2 L807.7,174.6 L807.5,175.1 L807.3,175.6 L806.9,176.1 L806.4,176.7 L805.9,177.3 L805.2,178.0 L804.4,178.7 L803.3,179.6 L802.3,180.4 L801.6,181.1 L801.0,181.7 L800.4,182.3 L800.0,182.9 L799.7,183.4 L799.4,183.9 L799.3,184.3 L799.3,184.7 L799.3,185.0 L799.5,185.3 L799.8,185.5 L800.2,185.7 L800.6,185.8 L801.2,185.9 L801.9,185.9 L802.6,185.9 L803.5,185.9 L804.4,185.8 L805.6,185.6 L806.9,185.3 L808.0,185.2 L808.8,185.2 L809.6,185.2 L810.3,185.2 L810.9,185.3 L811.4,185.4 L811.8,185.5 L812.1,185.7 L812.3,186.0 L812.3,186.2 L812.3,186.6 L812.2,186.9 L812.0,187.3 L811.7,187.8 L811.2,188.2 L810.7,188.7 L810.1,189.3 L809.4,189.9 L808.6,190.5 L807.4,191.3 L806.6,192.0 L805.9,192.6 L805.3,193.1 L804.8,193.6 L804.4,194.0 L804.1,194.4 L803.9,194.8 L803.8,195.1 L803.7,195.4 L803.8,195.6 L804.0,195.8 L804.3,195.9 L804.7,196.0 L805.1,196.0 L805.7,196.0 L806.3,196.0 L807.1,195.9 L807.9,195.7 L808.9,195.5 L810.2,195.2 L811.2,195.0 L812.1,194.8 L812.9,194.7 L813.6,194.7 L814.2,194.6 L814.7,194.6 L815.1,194.7 L815.4,194.7 L815.6,194.9 L815.7,195.0 L815.7,195.2 L815.6,195.4 L815.3,195.7 L815.0,196.0 L814.6,196.3 L814.2,196.7 L813.6,197.1 L812.9,197.5 L812.1,198.0 L811.1,198.5 L810.0,199.1 L809.3,199.6 L808.6,200.0 L808.0,200.4 L807.5,200.7 L807.1,201.0 L806.8,201.3 L806.6,201.5 L806.5,201.7 L806.4,201.8 L806.5,201.9 L806.7,201.9" fill="none" stroke="#1b1310" stroke-width="1.38" stroke-linecap="butt" stroke-linejoin="round" stroke-linecap="round"/>
<path d="M809.0,140.4 L808.3,140.8 L807.5,141.2 L806.5,141.8 L805.4,142.4 L804.0,143.2 L803.0,143.8 L802.2,144.3 L801.4,144.8 L800.8,145.2 L800.3,145.6 L799.9,145.9 L799.6,146.2 L799.5,146.4 L799.4,146.6 L799.5,146.8 L799.7,146.8 L800.0,146.9 L800.4,146.8 L800.9,146.8 L801.5,146.6 L802.3,146.5 L803.1,146.3 L804.1,146.0 L805.2,145.7 L806.7,145.2 L807.9,144.9 L808.9,144.7 L809.7,144.5 L810.5,144.4 L811.1,144.3 L811.7,144.3 L812.1,144.4 L812.4,144.5 L812.6,144.6 L812.7,144.8 L812.7,145.0 L812.5,145.4 L812.3,145.7 L811.9,146.1 L811.4,146.6 L810.8,147.1 L810.1,147.6 L809.4,148.3 L808.4,148.9 L807.1,149.8 L806.0,150.5 L805.2,151.2 L804.5,151.8 L803.8,152.4 L803.3,152.9 L802.9,153.4 L802.6,153.8 L802.4,154.2 L802.4,154.5 L802.4,154.8 L802.6,155.0 L802.8,155.2 L803.2,155.3 L803.7,155.4 L804.3,155.4 L805.0,155.4 L805.8,155.4 L806.8,155.3 L807.8,155.1 L809.1,154.9 L810.5,154.6 L811.6,154.4 L812.5,154.4 L813.3,154.3 L814.0,154.4 L814.7,154.4 L815.2,154.6 L815.6,154.7 L815.9,155.0 L816.1,155.2 L816.1,155.5 L816.1,155.9 L815.9,156.3 L815.6,156.8 L815.3,157.3 L814.8,157.8 L814.2,158.4 L813.5,159.1 L812.8,159.8 L811.8,160.6 L810.5,161.5 L809.6,162.2 L808.9,162.9 L808.3,163.6 L807.8,164.2 L807.3,164.7 L807.0,165.2 L806.8,165.7 L806.7,166.1 L806.7,166.5 L806.8,166.8 L807.1,167.1 L807.4,167.3 L807.9,167.5 L808.4,167.6 L809.1,167.7 L809.8,167.7 L810.6,167.7 L811.6,167.7 L812.7,167.6 L814.2,167.3 L815.3,167.2 L816.3,167.2 L817.1,167.2 L817.9,167.3 L818.6,167.4 L819.1,167.5 L819.6,167.7 L820.0,167.9 L820.2,168.2 L820.3,168.5 L820.4,168.9 L820.3,169.3 L820.1,169.7 L819.8,170.2 L819.4,170.8 L818.9,171.3 L818.3,171.9 L817.7,172.6 L816.9,173.3 L815.7,174.1 L814.7,174.9 L813.9,175.6 L813.3,176.3 L812.7,176.9 L812.3,177.4 L811.9,177.9 L811.7,178.4 L811.5,178.8 L811.5,179.2 L811.5,179.6 L811.7,179.8 L812.0,180.1 L812.3,180.3 L812.8,180.4 L813.4,180.5 L814.0,180.6 L814.8,180.6 L815.6,180.6 L816.6,180.5 L817.7,180.4 L819.1,180.2 L820.1,180.1 L821.0,180.1 L821.7,180.1 L822.4,180.2 L823.0,180.2 L823.5,180.4 L823.9,180.6 L824.2,180.8 L824.4,181.0 L824.4,181.3 L824.4,181.6 L824.3,182.0 L824.0,182.4 L823.7,182.8 L823.2,183.3 L822.7,183.8 L822.1,184.3 L821.4,184.9 L820.5,185.6 L819.3,186.3 L818.5,187.0 L817.8,187.5 L817.2,188.1 L816.7,188.6 L816.2,189.0 L815.9,189.4 L815.7,189.8 L815.6,190.1 L815.5,190.4 L815.6,190.6 L815.8,190.8 L816.0,190.9 L816.4,191.0 L816.9,191.1 L817.4,191.1 L818.1,191.0 L818.8,191.0 L819.7,190.9 L820.6,190.7 L821.9,190.4 L823.0,190.2 L823.9,190.1 L824.6,190.0 L825.3,190.0 L825.9,189.9 L826.4,190.0 L826.8,190.0 L827.1,190.1 L827.3,190.2 L827.4,190.4 L827.4,190.6 L827.2,190.8 L827.0,191.0 L826.7,191.3 L826.3,191.7 L825.8,192.0 L825.2,192.4 L824.6,192.8 L823.8,193.3 L822.7,193.8 L821.6,194.4 L820.8,194.9 L820.2,195.3 L819.6,195.7 L819.1,196.0 L818.7,196.3 L818.4,196.6 L818.1,196.8 L818.0,196.9 L818.0,197.1 L818.0,197.1 L818.2,197.2" fill="none" stroke="#1b1310" stroke-width="1.38" stroke-linecap="butt" stroke-linejoin="round" stroke-linecap="round"/>
<path d="M823.0,134.6 L822.3,135.0 L821.4,135.4 L820.5,135.9 L819.3,136.5 L817.9,137.2 L816.9,137.7 L816.0,138.2 L815.3,138.6 L814.6,139.0 L814.1,139.4 L813.7,139.7 L813.4,140.0 L813.2,140.2 L813.1,140.4 L813.2,140.6 L813.4,140.7 L813.7,140.7 L814.1,140.7 L814.6,140.7 L815.3,140.6 L816.0,140.4 L816.9,140.3 L817.8,140.1 L819.0,139.8 L820.6,139.4 L821.7,139.2 L822.7,139.0 L823.6,138.9 L824.3,138.8 L825.0,138.8 L825.5,138.8 L826.0,138.9 L826.3,139.0 L826.5,139.1 L826.5,139.3 L826.5,139.6 L826.3,139.9 L826.1,140.2 L825.7,140.6 L825.2,141.1 L824.6,141.5 L823.8,142.1 L823.0,142.6 L822.1,143.3 L820.7,144.1 L819.6,144.8 L818.7,145.4 L818.0,146.0 L817.3,146.5 L816.8,147.0 L816.4,147.5 L816.1,147.9 L815.8,148.3 L815.8,148.6 L815.8,148.9 L815.9,149.1 L816.2,149.3 L816.6,149.5 L817.1,149.6 L817.7,149.6 L818.4,149.6 L819.2,149.6 L820.1,149.6 L821.2,149.5 L822.5,149.3 L823.9,149.1 L825.0,149.0 L825.9,149.0 L826.7,149.0 L827.5,149.1 L828.1,149.2 L828.6,149.4 L829.0,149.5 L829.3,149.8 L829.5,150.1 L829.5,150.4 L829.4,150.8 L829.3,151.2 L829.0,151.6 L828.6,152.1 L828.1,152.6 L827.5,153.2 L826.8,153.8 L826.0,154.5 L825.0,155.2 L823.6,156.1 L822.7,156.8 L822.0,157.5 L821.3,158.1 L820.8,158.7 L820.3,159.2 L820.0,159.7 L819.8,160.2 L819.6,160.6 L819.6,160.9 L819.7,161.3 L819.9,161.6 L820.3,161.8 L820.7,162.0 L821.3,162.2 L821.9,162.3 L822.6,162.4 L823.5,162.4 L824.4,162.4 L825.5,162.4 L827.0,162.2 L828.2,162.1 L829.2,162.2 L830.0,162.2 L830.8,162.3 L831.4,162.5 L832.0,162.7 L832.5,162.9 L832.8,163.1 L833.0,163.4 L833.2,163.7 L833.2,164.1 L833.1,164.5 L832.9,165.0 L832.5,165.4 L832.1,166.0 L831.6,166.5 L831.0,167.1 L830.3,167.7 L829.5,168.4 L828.3,169.2 L827.2,169.9 L826.5,170.6 L825.8,171.2 L825.2,171.8 L824.7,172.3 L824.3,172.8 L824.1,173.3 L823.9,173.7 L823.8,174.1 L823.9,174.5 L824.0,174.7 L824.3,175.0 L824.6,175.2 L825.1,175.4 L825.7,175.5 L826.3,175.6 L827.1,175.7 L827.9,175.7 L828.9,175.7 L830.0,175.6 L831.4,175.5 L832.4,175.4 L833.3,175.5 L834.1,175.5 L834.8,175.6 L835.3,175.8 L835.8,175.9 L836.2,176.1 L836.5,176.3 L836.6,176.6 L836.7,176.9 L836.7,177.2 L836.5,177.6 L836.2,178.0 L835.9,178.4 L835.4,178.8 L834.9,179.3 L834.2,179.8 L833.5,180.4 L832.6,181.0 L831.4,181.7 L830.5,182.3 L829.8,182.9 L829.2,183.4 L828.6,183.8 L828.2,184.3 L827.9,184.7 L827.6,185.0 L827.5,185.4 L827.4,185.6 L827.5,185.9 L827.7,186.1 L827.9,186.2 L828.3,186.3 L828.8,186.4 L829.3,186.4 L830.0,186.4 L830.7,186.4 L831.5,186.3 L832.5,186.2 L833.8,186.0 L834.9,185.8 L835.8,185.8 L836.5,185.7 L837.2,185.7 L837.8,185.7 L838.3,185.8 L838.7,185.8 L839.0,185.9 L839.2,186.1 L839.3,186.2 L839.2,186.4 L839.1,186.6 L838.9,186.9 L838.6,187.2 L838.2,187.5 L837.6,187.8 L837.0,188.2 L836.3,188.6 L835.5,189.0 L834.5,189.5 L833.4,190.0 L832.6,190.5 L831.9,190.9 L831.3,191.2 L830.7,191.5 L830.3,191.8 L830.0,192.1 L829.8,192.3 L829.6,192.4 L829.6,192.6 L829.7,192.6 L829.8,192.7" fill="none" stroke="#1b1310" stroke-width="1.38" stroke-linecap="butt" stroke-linejoin="round" stroke-linecap="round"/>
<path d="M837.3,129.8 L836.6,130.1 L835.7,130.5 L834.8,130.9 L833.6,131.4 L832.1,132.0 L831.0,132.5 L830.2,132.9 L829.4,133.3 L828.7,133.7 L828.2,134.0 L827.7,134.3 L827.4,134.6 L827.2,134.8 L827.2,135.0 L827.2,135.1 L827.4,135.2 L827.7,135.3 L828.1,135.3 L828.7,135.3 L829.3,135.2 L830.1,135.2 L830.9,135.0 L831.9,134.9 L833.1,134.7 L834.7,134.4 L835.8,134.2 L836.8,134.1 L837.7,134.1 L838.5,134.0 L839.1,134.1 L839.7,134.1 L840.1,134.2 L840.4,134.4 L840.6,134.5 L840.7,134.7 L840.6,135.0 L840.4,135.3 L840.2,135.6 L839.7,136.0 L839.2,136.4 L838.6,136.8 L837.9,137.3 L837.0,137.8 L836.0,138.4 L834.6,139.1 L833.5,139.7 L832.6,140.3 L831.8,140.8 L831.1,141.3 L830.6,141.8 L830.1,142.3 L829.8,142.7 L829.5,143.0 L829.4,143.4 L829.5,143.6 L829.6,143.9 L829.9,144.1 L830.2,144.3 L830.7,144.4 L831.3,144.5 L832.0,144.6 L832.9,144.6 L833.8,144.6 L834.8,144.6 L836.1,144.5 L837.6,144.4 L838.7,144.3 L839.6,144.4 L840.5,144.5 L841.2,144.6 L841.8,144.7 L842.3,144.9 L842.7,145.1 L843.0,145.4 L843.1,145.7 L843.2,146.0 L843.1,146.4 L842.9,146.8 L842.6,147.2 L842.1,147.7 L841.6,148.2 L841.0,148.7 L840.3,149.3 L839.4,149.9 L838.4,150.6 L837.0,151.4 L836.1,152.0 L835.3,152.7 L834.6,153.2 L834.0,153.8 L833.6,154.3 L833.2,154.8 L832.9,155.3 L832.8,155.7 L832.8,156.1 L832.9,156.4 L833.1,156.7 L833.4,157.0 L833.8,157.2 L834.4,157.4 L835.0,157.5 L835.7,157.6 L836.6,157.7 L837.5,157.8 L838.6,157.8 L840.1,157.7 L841.3,157.8 L842.3,157.8 L843.1,158.0 L843.9,158.1 L844.6,158.3 L845.1,158.5 L845.6,158.7 L845.9,159.0 L846.1,159.3 L846.2,159.7 L846.2,160.0 L846.1,160.4 L845.9,160.9 L845.5,161.3 L845.1,161.8 L844.6,162.4 L843.9,162.9 L843.2,163.5 L842.3,164.1 L841.1,164.9 L840.0,165.6 L839.2,166.2 L838.5,166.8 L837.9,167.3 L837.4,167.8 L837.0,168.3 L836.7,168.8 L836.5,169.2 L836.4,169.6 L836.4,169.9 L836.6,170.2 L836.8,170.5 L837.2,170.7 L837.6,170.9 L838.2,171.1 L838.9,171.2 L839.6,171.4 L840.4,171.4 L841.4,171.5 L842.6,171.4 L844.0,171.4 L845.0,171.4 L845.8,171.5 L846.6,171.6 L847.3,171.7 L847.9,171.9 L848.4,172.1 L848.7,172.3 L849.0,172.5 L849.1,172.8 L849.2,173.1 L849.1,173.4 L849.0,173.8 L848.7,174.2 L848.3,174.6 L847.8,175.0 L847.3,175.5 L846.6,175.9 L845.8,176.5 L844.9,177.0 L843.6,177.7 L842.7,178.2 L842.0,178.8 L841.4,179.2 L840.8,179.7 L840.3,180.1 L840.0,180.5 L839.7,180.8 L839.6,181.1 L839.5,181.4 L839.6,181.7 L839.7,181.9 L840.0,182.0 L840.4,182.2 L840.8,182.3 L841.4,182.3 L842.0,182.4 L842.8,182.4 L843.6,182.4 L844.6,182.3 L845.9,182.1 L847.0,182.0 L847.9,182.0 L848.6,182.0 L849.3,182.0 L849.9,182.0 L850.4,182.1 L850.8,182.2 L851.1,182.3 L851.3,182.5 L851.3,182.6 L851.3,182.8 L851.2,183.0 L850.9,183.3 L850.6,183.5 L850.2,183.8 L849.6,184.1 L849.0,184.5 L848.3,184.8 L847.5,185.2 L846.4,185.7 L845.3,186.2 L844.4,186.6 L843.7,186.9 L843.1,187.3 L842.6,187.6 L842.2,187.8 L841.8,188.1 L841.6,188.3 L841.4,188.4 L841.4,188.5 L841.5,188.6 L841.6,188.7" fill="none" stroke="#1b1310" stroke-width="1.38" stroke-linecap="butt" stroke-linejoin="round" stroke-linecap="round"/>
<path d="M852.0,126.0 L851.2,126.3 L850.3,126.6 L849.3,126.9 L848.1,127.3 L846.6,127.8 L845.5,128.2 L844.6,128.6 L843.8,128.9 L843.1,129.2 L842.6,129.5 L842.1,129.8 L841.8,130.0 L841.6,130.2 L841.5,130.4 L841.6,130.5 L841.7,130.7 L842.0,130.7 L842.5,130.8 L843.0,130.8 L843.7,130.8 L844.4,130.8 L845.3,130.8 L846.3,130.7 L847.5,130.6 L849.1,130.4 L850.3,130.3 L851.3,130.3 L852.2,130.3 L852.9,130.4 L853.6,130.4 L854.1,130.5 L854.6,130.7 L854.9,130.8 L855.1,131.0 L855.1,131.2 L855.1,131.5 L854.9,131.7 L854.6,132.0 L854.1,132.4 L853.6,132.7 L852.9,133.1 L852.2,133.5 L851.3,134.0 L850.3,134.5 L848.8,135.1 L847.6,135.6 L846.7,136.1 L845.9,136.6 L845.2,137.1 L844.6,137.5 L844.1,137.9 L843.8,138.3 L843.5,138.6 L843.4,139.0 L843.4,139.3 L843.6,139.5 L843.8,139.7 L844.2,139.9 L844.7,140.1 L845.3,140.3 L846.0,140.4 L846.8,140.5 L847.7,140.5 L848.8,140.6 L850.1,140.6 L851.6,140.6 L852.7,140.6 L853.6,140.7 L854.4,140.9 L855.2,141.0 L855.8,141.2 L856.3,141.5 L856.7,141.7 L856.9,142.0 L857.1,142.3 L857.1,142.6 L857.0,143.0 L856.8,143.4 L856.4,143.8 L856.0,144.2 L855.4,144.7 L854.8,145.2 L854.0,145.7 L853.1,146.2 L852.1,146.8 L850.7,147.5 L849.7,148.1 L848.9,148.7 L848.1,149.2 L847.5,149.7 L847.0,150.2 L846.7,150.7 L846.4,151.1 L846.2,151.5 L846.2,151.9 L846.3,152.3 L846.5,152.6 L846.8,152.9 L847.2,153.1 L847.7,153.3 L848.4,153.5 L849.1,153.7 L849.9,153.9 L850.9,154.0 L852.0,154.1 L853.5,154.1 L854.7,154.2 L855.6,154.3 L856.5,154.5 L857.3,154.7 L857.9,154.9 L858.5,155.2 L858.9,155.5 L859.2,155.8 L859.4,156.1 L859.5,156.4 L859.5,156.8 L859.4,157.2 L859.1,157.6 L858.8,158.0 L858.3,158.5 L857.7,159.0 L857.1,159.5 L856.3,160.0 L855.4,160.6 L854.1,161.3 L853.0,161.9 L852.2,162.5 L851.4,163.0 L850.8,163.5 L850.3,164.0 L849.9,164.5 L849.5,164.9 L849.3,165.4 L849.2,165.7 L849.2,166.1 L849.4,166.4 L849.6,166.7 L849.9,166.9 L850.4,167.2 L850.9,167.4 L851.6,167.5 L852.3,167.7 L853.2,167.8 L854.1,167.9 L855.3,168.0 L856.7,168.0 L857.7,168.1 L858.6,168.2 L859.4,168.3 L860.0,168.5 L860.6,168.7 L861.1,168.9 L861.4,169.2 L861.7,169.4 L861.8,169.7 L861.9,170.0 L861.8,170.3 L861.6,170.7 L861.3,171.0 L860.9,171.4 L860.4,171.8 L859.8,172.2 L859.1,172.7 L858.4,173.2 L857.4,173.7 L856.1,174.3 L855.2,174.8 L854.4,175.3 L853.7,175.7 L853.2,176.1 L852.7,176.5 L852.3,176.9 L852.0,177.2 L851.9,177.5 L851.8,177.8 L851.8,178.1 L852.0,178.3 L852.3,178.5 L852.6,178.6 L853.1,178.7 L853.6,178.8 L854.3,178.9 L855.0,178.9 L855.8,179.0 L856.8,178.9 L858.2,178.8 L859.2,178.8 L860.1,178.8 L860.9,178.8 L861.6,178.9 L862.2,179.0 L862.7,179.1 L863.0,179.2 L863.3,179.3 L863.5,179.5 L863.6,179.6 L863.5,179.8 L863.4,180.0 L863.2,180.3 L862.8,180.5 L862.4,180.8 L861.8,181.1 L861.2,181.4 L860.5,181.7 L859.6,182.0 L858.5,182.5 L857.3,182.9 L856.5,183.2 L855.8,183.6 L855.1,183.9 L854.6,184.1 L854.2,184.4 L853.8,184.6 L853.6,184.8 L853.4,184.9 L853.4,185.1 L853.4,185.2 L853.6,185.2" fill="none" stroke="#1b1310" stroke-width="1.38" stroke-linecap="butt" stroke-linejoin="round" stroke-linecap="round"/>
<path d="M866.9,123.7 L866.1,123.9 L865.2,124.1 L864.2,124.3 L863.0,124.6 L861.4,124.9 L860.3,125.2 L859.4,125.5 L858.6,125.7 L857.9,126.0 L857.3,126.2 L856.8,126.4 L856.5,126.6 L856.3,126.8 L856.2,127.0 L856.2,127.1 L856.4,127.3 L856.7,127.4 L857.1,127.5 L857.6,127.6 L858.3,127.6 L859.1,127.7 L860.0,127.7 L861.0,127.7 L862.2,127.7 L863.8,127.7 L865.0,127.8 L866.0,127.8 L866.9,127.9 L867.7,128.0 L868.3,128.2 L868.9,128.3 L869.3,128.5 L869.6,128.7 L869.8,128.9 L869.8,129.1 L869.8,129.4 L869.6,129.6 L869.2,129.9 L868.8,130.1 L868.2,130.4 L867.5,130.7 L866.7,131.1 L865.8,131.4 L864.8,131.8 L863.3,132.3 L862.1,132.7 L861.1,133.1 L860.3,133.5 L859.6,133.9 L858.9,134.3 L858.4,134.7 L858.1,135.0 L857.8,135.3 L857.7,135.6 L857.7,135.9 L857.8,136.2 L858.0,136.5 L858.4,136.7 L858.9,136.9 L859.5,137.1 L860.2,137.3 L861.0,137.4 L861.9,137.6 L863.0,137.7 L864.3,137.8 L865.8,137.9 L866.9,138.1 L867.8,138.3 L868.7,138.5 L869.4,138.7 L870.0,139.0 L870.5,139.2 L870.9,139.5 L871.1,139.8 L871.2,140.1 L871.2,140.5 L871.1,140.8 L870.9,141.2 L870.5,141.5 L870.1,141.9 L869.5,142.3 L868.8,142.7 L868.0,143.2 L867.1,143.6 L866.0,144.1 L864.5,144.7 L863.5,145.2 L862.7,145.7 L861.9,146.2 L861.3,146.7 L860.8,147.1 L860.4,147.5 L860.1,148.0 L859.9,148.3 L859.8,148.7 L859.9,149.1 L860.1,149.4 L860.4,149.7 L860.8,150.0 L861.3,150.2 L862.0,150.5 L862.7,150.7 L863.5,150.9 L864.5,151.1 L865.6,151.3 L867.1,151.4 L868.3,151.6 L869.2,151.8 L870.1,152.1 L870.8,152.3 L871.5,152.6 L872.0,152.9 L872.4,153.2 L872.8,153.5 L873.0,153.8 L873.0,154.2 L873.0,154.5 L872.8,154.9 L872.6,155.3 L872.2,155.7 L871.7,156.1 L871.1,156.6 L870.4,157.0 L869.6,157.5 L868.7,158.0 L867.4,158.6 L866.2,159.1 L865.4,159.6 L864.6,160.1 L863.9,160.6 L863.4,161.0 L862.9,161.5 L862.6,161.9 L862.4,162.3 L862.3,162.7 L862.2,163.0 L862.4,163.3 L862.6,163.6 L862.9,163.9 L863.3,164.2 L863.9,164.4 L864.5,164.6 L865.3,164.8 L866.1,165.0 L867.1,165.1 L868.2,165.3 L869.6,165.3 L870.6,165.5 L871.5,165.7 L872.3,165.9 L873.0,166.1 L873.5,166.3 L874.0,166.6 L874.3,166.8 L874.6,167.1 L874.7,167.4 L874.7,167.7 L874.6,168.0 L874.4,168.3 L874.1,168.7 L873.7,169.0 L873.2,169.4 L872.6,169.8 L871.9,170.2 L871.0,170.6 L870.1,171.0 L868.7,171.6 L867.8,172.0 L867.0,172.4 L866.3,172.9 L865.7,173.2 L865.2,173.6 L864.8,174.0 L864.5,174.3 L864.3,174.6 L864.3,174.8 L864.3,175.1 L864.4,175.3 L864.7,175.5 L865.0,175.7 L865.5,175.8 L866.0,176.0 L866.7,176.1 L867.4,176.1 L868.3,176.2 L869.2,176.2 L870.6,176.2 L871.7,176.2 L872.5,176.3 L873.3,176.4 L874.0,176.4 L874.6,176.5 L875.1,176.7 L875.4,176.8 L875.7,176.9 L875.9,177.1 L876.0,177.3 L875.9,177.5 L875.8,177.7 L875.5,177.9 L875.1,178.1 L874.7,178.3 L874.1,178.6 L873.5,178.9 L872.7,179.2 L871.9,179.5 L870.7,179.8 L869.6,180.2 L868.7,180.5 L868.0,180.8 L867.3,181.1 L866.8,181.3 L866.3,181.5 L866.0,181.7 L865.7,181.9 L865.5,182.0 L865.5,182.2 L865.5,182.3 L865.7,182.3" fill="none" stroke="#1b1310" stroke-width="1.38" stroke-linecap="butt" stroke-linejoin="round" stroke-linecap="round"/>
<path d="M881.9,123.1 L881.2,123.2 L880.3,123.3 L879.3,123.4 L878.1,123.5 L876.5,123.7 L875.4,123.8 L874.4,124.0 L873.6,124.1 L872.9,124.3 L872.3,124.5 L871.8,124.6 L871.4,124.8 L871.2,124.9 L871.1,125.1 L871.1,125.3 L871.3,125.4 L871.6,125.5 L872.0,125.7 L872.6,125.8 L873.2,125.9 L874.0,126.1 L874.9,126.2 L875.9,126.3 L877.1,126.5 L878.7,126.6 L879.9,126.8 L880.9,127.0 L881.7,127.1 L882.5,127.3 L883.1,127.5 L883.6,127.7 L884.0,127.9 L884.3,128.1 L884.5,128.3 L884.5,128.5 L884.4,128.8 L884.2,129.0 L883.9,129.2 L883.4,129.4 L882.9,129.7 L882.2,129.9 L881.4,130.2 L880.5,130.4 L879.5,130.7 L878.0,131.0 L876.8,131.3 L875.8,131.6 L874.9,131.9 L874.2,132.2 L873.5,132.5 L873.0,132.8 L872.6,133.1 L872.3,133.4 L872.2,133.7 L872.2,134.0 L872.3,134.2 L872.5,134.5 L872.9,134.8 L873.3,135.0 L873.9,135.3 L874.6,135.5 L875.4,135.8 L876.4,136.0 L877.4,136.2 L878.8,136.5 L880.2,136.7 L881.3,137.0 L882.2,137.2 L883.0,137.5 L883.7,137.8 L884.3,138.1 L884.8,138.4 L885.1,138.7 L885.4,139.0 L885.5,139.3 L885.5,139.6 L885.3,139.9 L885.1,140.2 L884.7,140.6 L884.2,140.9 L883.7,141.3 L883.0,141.6 L882.2,142.0 L881.2,142.4 L880.1,142.8 L878.6,143.2 L877.6,143.6 L876.7,144.0 L876.0,144.4 L875.3,144.8 L874.8,145.2 L874.3,145.6 L874.0,145.9 L873.8,146.3 L873.7,146.7 L873.8,147.0 L873.9,147.3 L874.2,147.7 L874.6,148.0 L875.1,148.3 L875.8,148.6 L876.5,148.9 L877.3,149.1 L878.2,149.4 L879.3,149.7 L880.9,149.9 L882.0,150.2 L883.0,150.5 L883.8,150.8 L884.6,151.0 L885.2,151.3 L885.7,151.7 L886.1,152.0 L886.4,152.3 L886.6,152.6 L886.7,153.0 L886.6,153.3 L886.4,153.7 L886.2,154.0 L885.8,154.4 L885.2,154.8 L884.6,155.2 L883.9,155.6 L883.1,156.0 L882.1,156.4 L880.8,156.9 L879.6,157.3 L878.7,157.8 L877.9,158.2 L877.3,158.6 L876.7,159.0 L876.2,159.4 L875.8,159.8 L875.6,160.2 L875.5,160.5 L875.4,160.8 L875.5,161.2 L875.7,161.5 L876.1,161.8 L876.5,162.1 L877.0,162.3 L877.7,162.6 L878.4,162.8 L879.2,163.0 L880.2,163.3 L881.3,163.5 L882.7,163.6 L883.8,163.8 L884.6,164.1 L885.4,164.3 L886.1,164.5 L886.6,164.8 L887.1,165.0 L887.5,165.3 L887.7,165.5 L887.8,165.8 L887.8,166.1 L887.7,166.4 L887.5,166.7 L887.1,167.1 L886.7,167.4 L886.1,167.7 L885.5,168.1 L884.7,168.4 L883.9,168.8 L882.9,169.2 L881.5,169.6 L880.5,170.0 L879.7,170.4 L879.0,170.8 L878.4,171.1 L877.9,171.4 L877.5,171.8 L877.2,172.1 L877.0,172.3 L876.9,172.6 L876.9,172.8 L877.0,173.1 L877.3,173.3 L877.6,173.5 L878.1,173.6 L878.6,173.8 L879.2,173.9 L880.0,174.0 L880.8,174.1 L881.8,174.2 L883.1,174.3 L884.2,174.3 L885.1,174.4 L885.9,174.5 L886.7,174.6 L887.3,174.7 L887.8,174.9 L888.2,175.0 L888.4,175.1 L888.6,175.3 L888.7,175.5 L888.6,175.6 L888.5,175.8 L888.2,176.0 L887.8,176.3 L887.3,176.5 L886.7,176.7 L886.0,177.0 L885.2,177.2 L884.3,177.5 L883.1,177.8 L881.9,178.1 L881.1,178.4 L880.3,178.6 L879.6,178.9 L879.1,179.1 L878.6,179.3 L878.2,179.4 L878.0,179.6 L877.8,179.7 L877.8,179.9 L877.8,180.0 L878.0,180.0" fill="none" stroke="#1b1310" stroke-width="1.38" stroke-linecap="butt" stroke-linejoin="round" stroke-linecap="round"/>
<path d="M896.0,122.9 L895.3,123.0 L894.5,123.2 L893.5,123.3 L892.4,123.4 L890.9,123.6 L889.8,123.7 L889.0,123.8 L888.2,123.9 L887.5,124.1 L886.9,124.2 L886.5,124.3 L886.2,124.5 L885.9,124.6 L885.8,124.7 L885.9,124.9 L886.0,125.0 L886.3,125.2 L886.7,125.3 L887.2,125.5 L887.8,125.7 L888.5,125.8 L889.4,126.0 L890.3,126.1 L891.4,126.3 L892.9,126.4 L894.0,126.6 L895.0,126.7 L895.8,126.9 L896.5,127.0 L897.1,127.2 L897.6,127.4 L898.0,127.5 L898.3,127.7 L898.4,127.9 L898.4,128.1 L898.4,128.3 L898.2,128.6 L897.8,128.8 L897.4,129.1 L896.9,129.3 L896.2,129.6 L895.5,129.8 L894.6,130.1 L893.6,130.4 L892.2,130.7 L891.0,130.9 L890.1,131.2 L889.2,131.5 L888.5,131.8 L887.9,132.0 L887.4,132.3 L887.0,132.6 L886.8,132.8 L886.6,133.1 L886.6,133.4 L886.7,133.6 L886.9,133.9 L887.2,134.2 L887.7,134.4 L888.2,134.7 L888.9,135.0 L889.7,135.2 L890.6,135.5 L891.6,135.7 L892.8,136.0 L894.2,136.2 L895.3,136.4 L896.2,136.7 L896.9,136.9 L897.6,137.2 L898.2,137.4 L898.6,137.7 L899.0,138.0 L899.2,138.3 L899.3,138.6 L899.3,138.9 L899.2,139.2 L898.9,139.5 L898.6,139.9 L898.1,140.2 L897.5,140.6 L896.8,140.9 L896.1,141.3 L895.1,141.7 L894.0,142.1 L892.6,142.5 L891.6,142.9 L890.7,143.2 L889.9,143.6 L889.3,144.0 L888.7,144.3 L888.3,144.7 L888.0,145.0 L887.8,145.4 L887.7,145.7 L887.7,146.1 L887.8,146.4 L888.1,146.7 L888.5,147.0 L889.0,147.3 L889.6,147.6 L890.3,147.9 L891.1,148.2 L892.1,148.5 L893.1,148.8 L894.7,149.0 L895.8,149.2 L896.8,149.5 L897.6,149.8 L898.3,150.0 L899.0,150.3 L899.5,150.6 L899.9,150.9 L900.2,151.2 L900.4,151.5 L900.4,151.9 L900.4,152.2 L900.2,152.5 L899.9,152.9 L899.5,153.3 L899.0,153.7 L898.3,154.1 L897.6,154.5 L896.8,154.9 L895.8,155.3 L894.4,155.7 L893.2,156.2 L892.3,156.6 L891.5,157.0 L890.8,157.4 L890.2,157.8 L889.7,158.1 L889.3,158.5 L889.0,158.8 L888.9,159.2 L888.9,159.5 L888.9,159.8 L889.1,160.1 L889.4,160.4 L889.9,160.7 L890.4,161.0 L891.1,161.2 L891.8,161.5 L892.7,161.7 L893.6,161.9 L894.8,162.1 L896.3,162.3 L897.3,162.5 L898.2,162.7 L899.0,162.9 L899.7,163.1 L900.3,163.3 L900.7,163.6 L901.1,163.8 L901.3,164.1 L901.5,164.3 L901.5,164.6 L901.3,164.9 L901.1,165.2 L900.8,165.5 L900.3,165.9 L899.7,166.2 L899.0,166.6 L898.3,166.9 L897.4,167.3 L896.3,167.7 L894.9,168.1 L893.8,168.5 L892.9,168.8 L892.2,169.2 L891.5,169.5 L891.0,169.8 L890.5,170.1 L890.2,170.4 L890.0,170.7 L889.9,170.9 L889.9,171.2 L890.0,171.4 L890.2,171.6 L890.6,171.8 L891.1,172.0 L891.6,172.1 L892.3,172.2 L893.1,172.4 L894.0,172.5 L895.0,172.5 L896.5,172.6 L897.6,172.6 L898.6,172.7 L899.4,172.8 L900.1,172.9 L900.8,173.0 L901.3,173.1 L901.7,173.3 L902.0,173.4 L902.2,173.5 L902.2,173.7 L902.2,173.9 L902.0,174.1 L901.7,174.3 L901.3,174.5 L900.8,174.7 L900.1,174.9 L899.4,175.2 L898.6,175.4 L897.6,175.7 L896.4,176.0 L895.0,176.3 L894.1,176.6 L893.3,176.8 L892.5,177.0 L891.9,177.2 L891.4,177.4 L891.0,177.6 L890.7,177.8 L890.5,177.9 L890.5,178.0 L890.5,178.1 L890.7,178.2" fill="none" stroke="#1b1310" stroke-width="1.38" stroke-linecap="butt" stroke-linejoin="round" stroke-linecap="round"/>
<path d="M909.5,121.3 L908.8,121.6 L908.0,121.8 L907.1,122.1 L906.0,122.4 L904.6,122.7 L903.6,122.9 L902.7,123.1 L902.0,123.3 L901.3,123.5 L900.8,123.7 L900.4,123.9 L900.0,124.0 L899.8,124.2 L899.7,124.3 L899.8,124.5 L899.9,124.6 L900.2,124.7 L900.6,124.9 L901.0,125.0 L901.6,125.1 L902.3,125.2 L903.1,125.3 L904.0,125.3 L905.1,125.3 L906.6,125.3 L907.6,125.3 L908.5,125.3 L909.3,125.4 L910.0,125.4 L910.6,125.5 L911.1,125.6 L911.4,125.7 L911.7,125.8 L911.8,126.0 L911.9,126.2 L911.8,126.4 L911.6,126.7 L911.3,127.0 L910.9,127.3 L910.4,127.6 L909.8,128.0 L909.1,128.4 L908.2,128.8 L907.3,129.2 L905.9,129.6 L904.7,130.0 L903.8,130.4 L903.0,130.7 L902.3,131.0 L901.7,131.3 L901.3,131.6 L900.9,131.9 L900.6,132.2 L900.5,132.5 L900.4,132.7 L900.5,133.0 L900.7,133.2 L901.1,133.5 L901.5,133.7 L902.0,133.9 L902.7,134.1 L903.4,134.3 L904.3,134.5 L905.3,134.7 L906.5,134.8 L907.9,134.9 L908.9,135.0 L909.8,135.1 L910.5,135.3 L911.2,135.5 L911.7,135.7 L912.2,135.9 L912.5,136.1 L912.8,136.4 L912.9,136.7 L912.9,137.0 L912.7,137.3 L912.5,137.7 L912.2,138.1 L911.7,138.5 L911.1,138.9 L910.5,139.3 L909.7,139.8 L908.8,140.2 L907.7,140.7 L906.3,141.3 L905.3,141.7 L904.4,142.1 L903.7,142.5 L903.0,142.9 L902.5,143.3 L902.1,143.7 L901.7,144.1 L901.5,144.4 L901.4,144.7 L901.5,145.1 L901.6,145.4 L901.9,145.7 L902.3,146.0 L902.8,146.3 L903.4,146.5 L904.1,146.8 L904.9,147.0 L905.8,147.2 L906.9,147.4 L908.4,147.6 L909.5,147.7 L910.5,147.9 L911.3,148.1 L912.0,148.3 L912.6,148.6 L913.2,148.8 L913.6,149.1 L913.9,149.4 L914.0,149.7 L914.1,150.0 L914.1,150.3 L913.9,150.7 L913.6,151.1 L913.2,151.5 L912.7,151.9 L912.1,152.4 L911.3,152.8 L910.5,153.3 L909.5,153.7 L908.2,154.3 L907.0,154.7 L906.0,155.2 L905.2,155.6 L904.5,156.0 L903.9,156.4 L903.4,156.8 L903.0,157.2 L902.7,157.5 L902.6,157.9 L902.6,158.2 L902.6,158.5 L902.8,158.8 L903.1,159.1 L903.6,159.3 L904.1,159.6 L904.8,159.8 L905.5,160.0 L906.4,160.2 L907.4,160.4 L908.6,160.5 L910.0,160.6 L911.1,160.8 L912.0,161.0 L912.8,161.1 L913.5,161.3 L914.1,161.5 L914.5,161.8 L914.9,162.0 L915.1,162.2 L915.3,162.5 L915.3,162.8 L915.2,163.1 L914.9,163.4 L914.6,163.7 L914.1,164.1 L913.5,164.4 L912.9,164.8 L912.1,165.2 L911.2,165.6 L910.1,166.0 L908.6,166.4 L907.6,166.8 L906.7,167.2 L905.9,167.6 L905.2,167.9 L904.6,168.2 L904.2,168.5 L903.8,168.8 L903.6,169.1 L903.5,169.3 L903.5,169.5 L903.6,169.7 L903.9,169.9 L904.2,170.1 L904.7,170.3 L905.3,170.4 L906.0,170.6 L906.8,170.7 L907.7,170.8 L908.8,170.8 L910.2,170.8 L911.4,170.9 L912.4,170.9 L913.3,171.0 L914.0,171.1 L914.6,171.2 L915.2,171.3 L915.6,171.4 L915.9,171.6 L916.1,171.7 L916.2,171.9 L916.1,172.1 L915.9,172.3 L915.6,172.5 L915.2,172.7 L914.7,172.9 L914.0,173.1 L913.3,173.4 L912.4,173.6 L911.4,173.9 L910.1,174.2 L908.8,174.5 L907.8,174.8 L907.0,175.0 L906.2,175.2 L905.6,175.4 L905.0,175.6 L904.6,175.8 L904.3,175.9 L904.1,176.1 L904.1,176.2 L904.1,176.3 L904.3,176.3" fill="none" stroke="#1b1310" stroke-width="1.38" stroke-linecap="butt" stroke-linejoin="round" stroke-linecap="round"/>
<path d="M921.9,116.5 L921.3,117.0 L920.6,117.5 L919.8,118.1 L918.8,118.7 L917.5,119.4 L916.6,119.8 L915.8,120.3 L915.1,120.6 L914.5,121.0 L914.0,121.3 L913.6,121.5 L913.3,121.7 L913.1,121.9 L913.1,122.1 L913.1,122.3 L913.2,122.4 L913.5,122.4 L913.8,122.5 L914.3,122.5 L914.8,122.5 L915.5,122.5 L916.2,122.4 L917.1,122.2 L918.1,122.0 L919.4,121.6 L920.4,121.4 L921.2,121.1 L921.9,121.0 L922.6,120.9 L923.1,120.8 L923.5,120.7 L923.9,120.8 L924.1,120.9 L924.3,121.0 L924.3,121.2 L924.3,121.5 L924.1,121.8 L923.8,122.2 L923.5,122.7 L923.0,123.2 L922.5,123.7 L921.8,124.3 L921.1,124.9 L920.2,125.6 L918.9,126.3 L917.9,127.0 L917.0,127.5 L916.3,128.0 L915.6,128.5 L915.1,128.9 L914.6,129.3 L914.3,129.7 L914.0,130.0 L913.9,130.3 L913.9,130.6 L913.9,130.8 L914.1,131.1 L914.5,131.2 L914.9,131.4 L915.4,131.6 L916.0,131.7 L916.8,131.7 L917.6,131.8 L918.5,131.8 L919.7,131.7 L921.0,131.5 L922.0,131.5 L922.8,131.4 L923.5,131.5 L924.1,131.5 L924.7,131.7 L925.1,131.8 L925.4,132.0 L925.7,132.3 L925.8,132.6 L925.8,132.9 L925.7,133.3 L925.5,133.7 L925.2,134.2 L924.8,134.7 L924.2,135.2 L923.6,135.8 L922.9,136.4 L922.1,137.0 L921.0,137.7 L919.7,138.5 L918.7,139.1 L917.9,139.6 L917.2,140.2 L916.6,140.7 L916.0,141.1 L915.6,141.5 L915.3,142.0 L915.1,142.3 L915.0,142.7 L915.1,143.0 L915.2,143.3 L915.5,143.6 L915.9,143.9 L916.3,144.1 L916.9,144.3 L917.6,144.5 L918.4,144.6 L919.3,144.7 L920.4,144.8 L921.9,144.8 L923.0,144.9 L923.9,145.0 L924.7,145.1 L925.5,145.3 L926.1,145.5 L926.6,145.8 L927.0,146.0 L927.4,146.3 L927.6,146.6 L927.6,147.0 L927.6,147.4 L927.4,147.8 L927.2,148.2 L926.8,148.6 L926.3,149.1 L925.7,149.6 L925.0,150.1 L924.1,150.6 L923.2,151.2 L921.8,151.8 L920.7,152.4 L919.7,152.9 L918.9,153.4 L918.2,153.9 L917.6,154.3 L917.1,154.8 L916.8,155.2 L916.5,155.5 L916.3,155.9 L916.3,156.2 L916.4,156.5 L916.6,156.8 L916.9,157.1 L917.4,157.3 L917.9,157.5 L918.6,157.7 L919.3,157.9 L920.2,158.1 L921.2,158.2 L922.4,158.3 L923.9,158.4 L925.0,158.6 L925.9,158.7 L926.7,158.9 L927.5,159.2 L928.1,159.4 L928.6,159.7 L929.0,160.0 L929.2,160.3 L929.4,160.6 L929.4,160.9 L929.3,161.2 L929.0,161.5 L928.7,161.8 L928.2,162.1 L927.6,162.5 L926.9,162.8 L926.1,163.2 L925.2,163.6 L924.1,164.0 L922.6,164.4 L921.5,164.8 L920.6,165.2 L919.8,165.6 L919.1,166.0 L918.6,166.3 L918.1,166.6 L917.7,166.9 L917.5,167.2 L917.4,167.4 L917.4,167.7 L917.5,167.9 L917.8,168.1 L918.2,168.2 L918.7,168.4 L919.3,168.5 L920.0,168.7 L920.8,168.8 L921.7,168.9 L922.8,168.9 L924.4,169.0 L925.6,169.1 L926.6,169.2 L927.5,169.4 L928.3,169.6 L929.0,169.8 L929.6,170.0 L930.1,170.2 L930.4,170.4 L930.6,170.6 L930.7,170.7 L930.6,170.9 L930.4,171.1 L930.1,171.2 L929.7,171.4 L929.1,171.5 L928.4,171.7 L927.6,171.9 L926.7,172.1 L925.7,172.3 L924.3,172.5 L922.9,172.7 L921.9,173.0 L921.0,173.2 L920.3,173.4 L919.6,173.6 L919.1,173.8 L918.6,174.0 L918.3,174.1 L918.1,174.3 L918.0,174.4 L918.1,174.5 L918.3,174.5" fill="none" stroke="#1b1310" stroke-width="1.38" stroke-linecap="butt" stroke-linejoin="round" stroke-linecap="round"/>
<path d="M710.1,203.6 L710.9,202.9 L711.6,202.3 L712.3,201.7 L713.1,201.0 L713.8,200.4 L714.6,199.8 L715.3,199.1 L716.1,198.5 L716.8,197.9 L717.6,197.2 L718.3,196.6 L719.1,196.0 L719.9,195.4 L720.6,194.8 L721.4,194.1 L722.2,193.5 L722.9,192.9 L723.7,192.3 L724.5,191.7 L725.3,191.1 L726.1,190.5 L726.8,189.9 L727.6,189.3 L728.4,188.7 L729.2,188.1 L730.0,187.5 L730.8,186.9 L731.6,186.3 L732.4,185.7 L733.2,185.1 L734.0,184.6 L734.8,184.0 L735.6,183.4 L736.4,182.8 L737.2,182.2 L738.0,181.7 L738.8,181.1 L739.6,180.5 L740.4,179.9 L741.2,179.4 L742.0,178.8 L742.8,178.2 L743.6,177.6 L744.4,177.1 L745.3,176.5 L746.1,176.0 L746.9,175.4 L747.7,174.8 L748.5,174.3 L749.4,173.7 L750.2,173.2 L751.0,172.6 L751.8,172.0 L752.6,171.5 L753.5,170.9 L754.3,170.4 L755.1,169.8 L756.0,169.3 L756.8,168.7 L757.6,168.2 L758.4,167.6 L759.3,167.1 L760.1,166.5 L760.9,166.0 L761.8,165.4 L762.6,164.9 L763.4,164.4 L764.3,163.8 L765.1,163.3 L765.9,162.7 L766.8,162.2 L767.6,161.7 L768.4,161.1 L769.3,160.6 L770.1,160.1 L771.0,159.5 L771.8,159.0 L772.7,158.5 L773.5,158.0 L774.3,157.4 L775.2,156.9 L776.0,156.4 L776.9,155.9 L777.7,155.4 L778.6,154.9 L779.4,154.4 L780.3,153.9 L781.2,153.4 L782.0,152.8 L782.9,152.4 L783.7,151.9 L784.6,151.4 L785.5,150.9 L786.3,150.4 L787.2,149.9 L788.1,149.5 L789.0,149.0 L789.8,148.5 L790.7,148.1 L791.6,147.6 L792.5,147.2 L793.4,146.7 L794.3,146.3 L795.2,145.9 L796.1,145.4 L796.9,145.0 L797.8,144.5 L798.7,144.1 L799.6,143.7 L800.5,143.3 L801.4,142.8 L802.3,142.4 L803.2,142.0 L804.1,141.6 L805.0,141.2 L805.9,140.8 L806.8,140.3 L807.7,139.9 L808.7,139.5 L809.6,139.1 L810.5,138.7 L811.4,138.4 L812.3,138.0 L813.2,137.6 L814.1,137.2 L815.0,136.8 L816.0,136.4 L816.9,136.1 L817.8,135.7 L818.7,135.3 L819.7,135.0 L820.6,134.6 L821.5,134.3 L822.4,133.9 L823.4,133.6 L824.3,133.2 L825.2,132.9 L826.2,132.5 L827.1,132.2 L828.0,131.9 L829.0,131.5 L829.9,131.2 L830.8,130.9 L831.8,130.6 L832.7,130.3 L833.7,130.0 L834.6,129.7 L835.6,129.4 L836.5,129.1 L837.5,128.8 L838.4,128.5 L839.4,128.2 L840.3,128.0 L841.3,127.7 L842.2,127.4 L843.2,127.2 L844.2,126.9 L845.1,126.7 L846.1,126.4 L847.0,126.2 L848.0,126.0 L849.0,125.8 L849.9,125.5 L850.9,125.3 L851.9,125.1 L852.8,124.9 L853.8,124.7 L854.8,124.5 L855.8,124.4 L856.7,124.2 L857.7,124.0 L858.7,123.9 L859.7,123.7 L860.7,123.6 L861.6,123.4 L862.6,123.3 L863.6,123.2 L864.6,123.1 L865.6,122.9 L866.6,122.8 L867.5,122.7 L868.5,122.7 L869.5,122.6 L870.5,122.5 L871.5,122.4 L872.5,122.4 L873.5,122.3 L874.5,122.3 L875.5,122.3 L876.5,122.3 L877.4,122.2 L878.4,122.2 L879.4,122.2 L880.4,122.2 L881.4,122.2 L882.4,122.2 L883.4,122.2 L884.4,122.2 L885.4,122.2 L886.4,122.2 L887.4,122.2 L888.4,122.2 L889.4,122.2 L890.4,122.2 L891.4,122.2 L892.4,122.2 L893.4,122.2 L894.3,122.1 L895.3,122.1 L896.3,122.1 L897.3,122.0 L898.3,121.9 L899.3,121.9 L900.3,121.8 L901.3,121.7 L902.3,121.6 L903.3,121.5 L904.3,121.4 L905.3,121.2 L906.3,121.1 L907.3,120.9 L908.2,120.7 L909.2,120.5 L910.2,120.3 L911.2,120.1 L912.1,119.8 L913.1,119.5 L914.1,119.2 L915.0,118.9 L916.0,118.6 L916.9,118.2 L917.8,117.8 L918.7,117.4 L919.6,116.9 L920.5,116.4 L921.4,115.9 L922.2,115.4 L923.1,114.8 L923.9,114.2" fill="none" stroke="#1b1310" stroke-width="1.0" stroke-linecap="butt" stroke-linejoin="round" />
<path d="M741.7,240.0 L742.4,239.6 L743.0,239.1 L743.7,238.6 L744.4,238.2 L745.0,237.7 L745.7,237.2 L746.4,236.8 L747.0,236.3 L747.7,235.8 L748.4,235.4 L749.0,234.9 L749.7,234.4 L750.4,234.0 L751.1,233.5 L751.7,233.1 L752.4,232.6 L753.1,232.2 L753.8,231.7 L754.5,231.3 L755.1,230.8 L755.8,230.4 L756.5,229.9 L757.2,229.5 L757.9,229.1 L758.5,228.6 L759.2,228.2 L759.9,227.7 L760.6,227.3 L761.3,226.9 L762.0,226.4 L762.7,226.0 L763.4,225.6 L764.1,225.2 L764.8,224.7 L765.5,224.3 L766.1,223.9 L766.8,223.5 L767.5,223.0 L768.2,222.6 L768.9,222.2 L769.6,221.8 L770.3,221.4 L771.0,221.0 L771.7,220.6 L772.4,220.2 L773.2,219.7 L773.9,219.3 L774.6,218.9 L775.3,218.5 L776.0,218.1 L776.7,217.7 L777.4,217.3 L778.1,216.9 L778.8,216.6 L779.5,216.2 L780.2,215.8 L781.0,215.4 L781.7,215.0 L782.4,214.6 L783.1,214.2 L783.8,213.8 L784.5,213.5 L785.3,213.1 L786.0,212.7 L786.7,212.3 L787.4,212.0 L788.2,211.6 L788.9,211.2 L789.6,210.9 L790.3,210.5 L791.1,210.1 L791.8,209.8 L792.5,209.4 L793.2,209.0 L794.0,208.7 L794.7,208.3 L795.4,208.0 L796.2,207.6 L796.9,207.3 L797.6,206.9 L798.4,206.6 L799.1,206.2 L799.8,205.9 L800.6,205.6 L801.3,205.2 L802.1,204.9 L802.8,204.6 L803.5,204.2 L804.3,203.9 L805.0,203.6 L805.8,203.2 L806.5,202.9 L807.3,202.6 L808.0,202.3 L808.8,202.0 L809.5,201.6 L810.3,201.3 L811.0,201.0 L811.7,200.7 L812.5,200.4 L813.3,200.1 L814.0,199.8 L814.8,199.5 L815.5,199.2 L816.3,198.9 L817.0,198.6 L817.8,198.3 L818.5,198.0 L819.3,197.7 L820.0,197.4 L820.8,197.1 L821.5,196.8 L822.3,196.5 L823.0,196.2 L823.8,195.9 L824.6,195.6 L825.3,195.3 L826.1,195.0 L826.8,194.7 L827.6,194.4 L828.4,194.2 L829.1,193.9 L829.9,193.6 L830.6,193.3 L831.4,193.0 L832.2,192.8 L832.9,192.5 L833.7,192.2 L834.5,192.0 L835.2,191.7 L836.0,191.4 L836.8,191.2 L837.5,190.9 L838.3,190.7 L839.1,190.4 L839.9,190.2 L840.6,189.9 L841.4,189.7 L842.2,189.4 L842.9,189.2 L843.7,189.0 L844.5,188.7 L845.3,188.5 L846.1,188.3 L846.8,188.0 L847.6,187.8 L848.4,187.6 L849.2,187.4 L850.0,187.1 L850.7,186.9 L851.5,186.7 L852.3,186.5 L853.1,186.3 L853.9,186.1 L854.7,185.9 L855.4,185.7 L856.2,185.5 L857.0,185.3 L857.8,185.1 L858.6,184.9 L859.4,184.7 L860.2,184.5 L861.0,184.3 L861.7,184.1 L862.5,184.0 L863.3,183.8 L864.1,183.6 L864.9,183.4 L865.7,183.2 L866.5,183.1 L867.3,182.9 L868.1,182.8 L868.9,182.6 L869.7,182.4 L870.5,182.3 L871.3,182.1 L872.1,182.0 L872.9,181.8 L873.7,181.7 L874.5,181.5 L875.3,181.4 L876.1,181.2 L876.9,181.1 L877.7,181.0 L878.5,180.8 L879.3,180.7 L880.1,180.6 L880.9,180.5 L881.7,180.4 L882.5,180.2 L883.3,180.1 L884.1,180.0 L885.0,179.9 L885.8,179.7 L886.7,179.6 L887.6,179.5 L888.5,179.4 L889.4,179.2 L890.3,179.1 L891.3,179.0 L892.2,178.8 L893.2,178.7 L894.1,178.6 L895.1,178.4 L896.0,178.3 L897.0,178.2 L898.0,178.0 L899.0,177.9 L899.9,177.8 L900.9,177.6 L901.9,177.5 L902.9,177.4 L903.9,177.2 L904.9,177.1 L906.0,177.0 L907.0,176.8 L908.0,176.7 L909.0,176.6 L910.1,176.4 L911.1,176.3 L912.1,176.2 L913.2,176.0 L914.2,175.9 L915.3,175.8 L916.3,175.6 L917.4,175.5 L918.5,175.4 L919.6,175.2 L920.6,175.1 L921.7,175.0 L922.8,174.9 L923.9,174.8 L925.0,174.7 L926.1,174.7 L927.3,174.6 L928.4,174.6 L929.5,174.7 L930.7,174.7 L931.8,174.8" fill="none" stroke="#1b1310" stroke-width="1.0" stroke-linecap="butt" stroke-linejoin="round" />
<path d="M639.8,389.2 L639.5,388.4 L639.3,387.5 L639.1,386.7 L638.8,385.9 L638.6,385.0 L638.4,384.2 L638.1,383.4 L637.9,382.5 L637.7,381.7 L637.5,380.9 L637.3,380.0 L637.1,379.2 L636.9,378.3 L636.7,377.5 L636.5,376.7 L636.3,375.8 L636.2,375.0 L636.0,374.1 L635.8,373.3 L635.7,372.4 L635.5,371.6 L635.3,370.7 L635.2,369.9 L635.0,369.0 L634.9,368.2 L634.8,367.3 L634.6,366.5 L634.5,365.6 L634.4,364.8 L634.3,363.9 L634.2,363.0 L634.0,362.2 L633.9,361.3 L633.8,360.5 L633.7,359.6 L633.7,358.8 L633.6,357.9 L633.5,357.0 L633.4,356.2 L633.3,355.3 L633.3,354.5 L633.2,353.6 L633.1,352.7 L633.1,351.9 L633.0,351.0 L633.0,350.1 L632.9,349.3 L632.9,348.4 L632.9,347.6 L632.8,346.7 L632.8,345.8 L632.8,345.0 L632.8,344.1 L632.8,343.2 L632.7,342.4 L632.7,341.5 L632.7,340.6 L632.7,339.8 L632.8,338.9 L632.8,338.1 L632.8,337.2 L632.8,336.3 L632.8,335.5 L632.9,334.6 L632.9,333.7 L632.9,332.9 L633.0,332.0 L633.0,331.1 L633.1,330.3 L633.1,329.4 L633.2,328.6 L633.3,327.7 L633.3,326.8 L633.4,326.0 L633.5,325.1 L633.6,324.3 L633.6,323.4 L633.7,322.5 L633.8,321.7 L633.9,320.8 L634.0,320.0 L634.1,319.1 L634.3,318.2 L634.4,317.4 L634.5,316.5 L634.6,315.7 L634.7,314.8 L634.9,314.0 L635.0,313.1 L635.1,312.3 L635.3,311.4 L635.4,310.6 L635.6,309.7 L635.8,308.9 L635.9,308.0 L636.1,307.2 L636.2,306.3 L636.4,305.5 L636.6,304.6 L636.8,303.8 L637.0,302.9 L637.2,302.1 L637.4,301.3 L637.6,300.4 L637.8,299.6 L638.0,298.7 L638.2,297.9 L638.4,297.1 L638.6,296.2 L638.8,295.4 L639.1,294.6 L639.3,293.7 L639.5,292.9 L639.8,292.1 L640.0,291.3 L640.2,290.4 L640.5,289.6 L640.8,288.8 L641.0,288.0 L641.3,287.1 L641.5,286.3 L641.8,285.5 L642.1,284.7 L642.4,283.9 L642.7,283.1 L642.9,282.2 L643.2,281.4 L643.5,280.6 L643.8,279.8 L644.1,279.0 L644.4,278.2 L644.7,277.4 L645.1,276.6 L645.4,275.8 L645.7,275.0 L646.0,274.2 L646.4,273.4 L646.7,272.6 L647.0,271.8 L647.4,271.1 L647.7,270.3 L648.1,269.5 L648.4,268.7 L648.8,267.9 L649.1,267.1 L649.5,266.4 L649.9,265.6 L650.2,264.8 L650.6,264.0 L651.0,263.3 L651.4,262.5 L651.8,261.7 L652.2,261.0 L652.6,260.2 L653.0,259.5 L653.4,258.7 L653.8,257.9 L654.2,257.2 L654.6,256.4 L655.0,255.7 L655.4,255.0 L655.9,254.2 L656.3,253.5 L656.7,252.7 L657.2,252.0 L657.6,251.3 L658.1,250.5 L658.5,249.8 L659.0,249.1 L659.4,248.4 L659.9,247.6 L660.3,246.9 L660.8,246.2 L661.3,245.5 L661.8,244.8 L662.2,244.1 L662.7,243.4 L663.2,242.7 L663.7,242.0 L664.2,241.3 L664.7,240.6 L665.2,239.9 L665.7,239.2 L666.2,238.5 L666.7,237.8 L667.2,237.1 L667.7,236.5 L668.3,235.8 L668.8,235.1 L669.3,234.4 L669.9,233.8 L670.4,233.1 L670.9,232.5 L671.5,231.8 L672.0,231.1 L672.6,230.5 L673.1,229.8 L673.7,229.2 L674.3,228.6 L674.8,227.9 L675.4,227.3 L676.0,226.6 L676.5,226.0 L677.1,225.4 L677.7,224.7 L678.3,224.1 L678.9,223.5 L679.5,222.9 L680.1,222.3 L680.6,221.6 L681.2,221.0 L681.9,220.4 L682.5,219.8 L683.1,219.2 L683.7,218.6 L684.3,218.0 L684.9,217.4 L685.5,216.8 L686.1,216.2 L686.8,215.6 L687.4,215.0 L688.0,214.5 L688.7,213.9 L689.3,213.3 L689.9,212.7 L690.6,212.1 L691.2,211.6 L691.9,211.0 L692.5,210.4 L693.2,209.9 L693.8,209.3 L694.5,208.7 L695.1,208.2 L695.8,207.6 L696.4,207.1 L697.1,206.5 L697.8,206.0 L698.4,205.4 L699.1,204.9 L699.8,204.3 L700.5,203.8 L701.1,203.2 L701.8,202.7 L702.5,202.2 L703.2,201.6 L703.9,201.1 L704.6,200.6 L705.2,200.0 L705.9,199.5 L706.6,199.0 L707.3,198.4 L708.0,197.9 L708.7,197.4 L709.4,196.9 L710.1,196.4 L710.8,195.9 L711.5,195.3 L712.2,194.8 L712.9,194.3 L713.6,193.8 L714.4,193.3 L715.1,192.8 L715.8,192.3 L716.5,191.8 L717.2,191.3 L717.9,190.8 L718.7,190.3 L719.4,189.8 L720.1,189.3 L720.8,188.8 L721.5,188.3 L722.3,187.8 L723.0,187.4 L723.7,186.9 L724.4,186.4 L725.2,185.9 L725.9,185.4 L726.6,184.9 L727.4,184.5 L728.1,184.0 L728.8,183.5 L729.6,183.0 L730.3,182.6 L731.0,182.1 L731.8,181.6 L732.5,181.2 L733.3,180.7 L734.0,180.2 L734.7,179.8 L735.5,179.3 L736.2,178.8 L737.0,178.4 L737.7,177.9 L738.4,177.4 L739.2,177.0 L739.9,176.5 L740.7,176.1 L741.4,175.6 L742.2,175.2 L742.9,174.7 L743.7,174.3 L744.4,173.8 L745.2,173.4 L745.9,172.9 L746.6,172.5 L747.4,172.0 L748.1,171.6 L748.9,171.1 L749.6,170.7 L750.4,170.2 L751.1,169.8 L751.9,169.3 L752.6,168.9 L753.4,168.5 L754.1,168.0 L754.9,167.6 L755.6,167.2 L756.4,166.7 L757.1,166.3 L757.8,165.8 L758.6,165.4 L759.3,165.0 L760.1,164.5 L760.8,164.1 L761.6,163.7 L762.3,163.2 L763.1,162.8 L763.8,162.4 L764.5,162.0 L765.3,161.5 L766.0,161.1 L766.8,160.7 L767.5,160.3 L768.3,159.8 L769.0,159.4 L769.8,159.0 L770.5,158.6 L771.2,158.1 L772.0,157.7 L772.7,157.3 L773.5,156.9 L774.2,156.5 L775.0,156.1 L775.7,155.6 L776.5,155.2 L777.2,154.8 L777.9,154.4 L778.7,154.0 L779.4,153.6 L780.2,153.2 L780.9,152.8 L781.7,152.4 L782.4,152.0 L783.2,151.6 L783.9,151.2 L784.7,150.8 L785.4,150.4 L786.2,150.0 L786.9,149.6 L787.7,149.2 L788.4,148.8 L789.2,148.4 L789.9,148.0 L790.7,147.7 L791.5,147.3 L792.2,146.9 L793.0,146.5 L793.7,146.1 L794.5,145.7 L795.3,145.4 L796.0,145.0 L796.8,144.6 L797.5,144.2 L798.3,143.9 L799.1,143.5 L799.8,143.1 L800.6,142.8 L801.4,142.4 L802.1,142.1 L802.9,141.7 L803.7,141.3 L804.5,141.0 L805.2,140.6 L806.0,140.3 L806.8,139.9 L807.6,139.6 L808.3,139.2 L809.1,138.9 L809.9,138.6 L810.7,138.2 L811.5,137.9 L812.3,137.5 L813.1,137.2 L813.8,136.9 L814.6,136.6 L815.4,136.2 L816.2,135.9 L817.0,135.6 L817.8,135.3 L818.6,134.9 L819.4,134.6 L820.2,134.3 L821.0,134.0 L821.8,133.7 L822.6,133.4 L823.4,133.1 L824.3,132.8 L825.1,132.5 L825.9,132.2 L826.7,131.9 L827.5,131.6 L828.3,131.3 L829.2,131.0 L830.0,130.8 L830.8,130.5 L831.6,130.2 L832.5,129.9 L833.3,129.7 L834.1,129.4 L835.0,129.1 L835.8,128.9 L836.6,128.6 L837.5,128.4 L838.3,128.1 L839.1,127.9 L840.0,127.6 L840.8,127.4 L841.7,127.2 L842.5,127.0 L843.3,126.7 L844.2,126.5 L845.0,126.3 L845.9,126.1 L846.7,125.9 L847.6,125.7 L848.4,125.5 L849.3,125.3 L850.1,125.1 L851.0,124.9 L851.8,124.7 L852.7,124.5 L853.5,124.4 L854.4,124.2 L855.3,124.0 L856.1,123.9 L857.0,123.7 L857.8,123.6 L858.7,123.5 L859.6,123.3 L860.4,123.2 L861.3,123.1 L862.1,123.0 L863.0,122.8 L863.9,122.7 L864.7,122.6 L865.6,122.5 L866.5,122.4 L867.3,122.4 L868.2,122.3 L869.1,122.2 L869.9,122.1 L870.8,122.1 L871.7,122.0 L872.5,122.0 L873.4,122.0 L874.3,121.9 L875.1,121.9 L876.0,121.9 L876.9,121.8 L877.7,121.8 L878.6,121.8 L879.5,121.8 L880.3,121.8 L881.2,121.8 L882.1,121.8 L882.9,121.8 L883.8,121.8 L884.7,121.8 L885.5,121.8 L886.4,121.8 L887.3,121.8 L888.1,121.8 L889.0,121.8 L889.9,121.8 L890.7,121.8 L891.6,121.8 L892.4,121.8 L893.3,121.8 L894.2,121.7 L895.0,121.7 L895.9,121.7 L896.7,121.6 L897.6,121.6 L898.5,121.5 L899.3,121.5 L900.2,121.4 L901.0,121.3 L901.9,121.3 L902.7,121.2 L903.6,121.1 L904.4,121.0 L905.3,120.8 L906.1,120.7 L907.0,120.6 L907.8,120.4 L908.7,120.2 L909.5,120.1 L910.4,119.9 L911.2,119.7 L912.0,119.4 L912.9,119.2 L913.7,118.9 L914.5,118.7 L915.3,118.4 L916.1,118.1 L916.9,117.7 L917.7,117.4 L918.5,117.0 L919.3,116.6 L920.0,116.2 L920.8,115.8 L921.5,115.4 L922.2,114.9 L922.9,114.4 L923.6,113.9 L924.3,113.4 L925.0,112.9 L925.7,112.3 L926.3,111.7 L926.9,111.2 L927.5,110.6 L928.1,109.9 L928.7,109.3 L929.3,108.7 L929.8,108.0 L930.3,107.3 L930.9,106.7 L931.4,106.0 L931.8,105.3 L932.3,104.5 L932.8,103.8 L933.2,103.1 L933.6,102.3 L934.0,101.6 L934.4,100.8 L934.8,100.0 L935.2,99.2 L935.5,98.4 L935.9,97.7 L936.2,96.8 L936.5,96.0 L936.9,95.2 L937.2,94.4 L937.4,93.6 L937.7,92.7 L938.0,91.9 L938.2,91.1 L938.5,90.2 L938.7,89.4 L938.9,88.5 L939.1,87.7 L939.3,86.8 L939.5,86.0 L939.7,85.1 L939.9,84.3 L940.1,83.4 L940.2,82.6 L940.4,81.8 L940.5,80.9 L940.7,80.1 L940.8,79.2 L940.9,78.4 L941.0,77.5 L941.1,76.7 L941.2,75.8 L941.3,75.0 L941.4,74.1 L941.5,73.3 L941.5,72.4 L941.6,71.6 L941.7,70.7 L941.7,69.9 L941.8,69.0 L941.8,68.2 L941.8,67.3 L941.9,66.5 L941.9,65.6 L941.9,64.7 L941.9,63.9 L941.9,63.0 L941.9,62.2 L941.9,61.3 L941.9,60.4 L941.9,59.6 L941.9,58.7 L941.9,57.8 L941.9,56.9 L941.8,56.1 L941.8,55.2" fill="none" stroke="#1b1310" stroke-width="2.4" stroke-linecap="butt" stroke-linejoin="round" />
<path d="M693.4,379.4 L693.3,378.7 L693.2,378.1 L693.1,377.4 L693.0,376.7 L692.9,376.0 L692.8,375.3 L692.7,374.6 L692.6,373.9 L692.5,373.2 L692.4,372.5 L692.3,371.7 L692.2,371.0 L692.1,370.3 L692.0,369.6 L691.9,368.8 L691.8,368.1 L691.7,367.3 L691.6,366.6 L691.5,365.8 L691.4,365.1 L691.3,364.3 L691.2,363.6 L691.1,362.8 L691.0,362.0 L690.9,361.3 L690.8,360.5 L690.7,359.7 L690.6,358.9 L690.5,358.2 L690.5,357.4 L690.4,356.6 L690.3,355.8 L690.2,355.0 L690.1,354.2 L690.0,353.4 L690.0,352.6 L689.9,351.8 L689.8,351.0 L689.8,350.2 L689.7,349.4 L689.6,348.6 L689.6,347.8 L689.5,347.0 L689.5,346.2 L689.4,345.4 L689.3,344.6 L689.3,343.8 L689.3,342.9 L689.2,342.1 L689.2,341.3 L689.1,340.5 L689.1,339.7 L689.1,338.9 L689.1,338.1 L689.0,337.2 L689.0,336.4 L689.0,335.6 L689.0,334.8 L689.0,334.0 L689.0,333.2 L689.0,332.3 L689.0,331.5 L689.0,330.7 L689.0,329.9 L689.1,329.1 L689.1,328.3 L689.1,327.5 L689.1,326.7 L689.2,325.8 L689.2,325.0 L689.3,324.2 L689.3,323.4 L689.4,322.6 L689.5,321.8 L689.5,321.0 L689.6,320.2 L689.7,319.4 L689.8,318.6 L689.9,317.8 L690.0,317.1 L690.1,316.3 L690.2,315.5 L690.3,314.7 L690.4,313.9 L690.5,313.1 L690.7,312.4 L690.8,311.6 L691.0,310.8 L691.1,310.1 L691.3,309.3 L691.4,308.5 L691.6,307.8 L691.8,307.0 L692.0,306.3 L692.2,305.5 L692.4,304.8 L692.6,304.1 L692.8,303.3 L693.0,302.6 L693.2,301.9 L693.5,301.2 L693.7,300.4 L694.0,299.7 L694.2,299.0 L694.5,298.3 L694.7,297.6 L695.0,296.9 L695.3,296.2 L695.6,295.5 L695.9,294.8 L696.2,294.1 L696.5,293.5 L696.8,292.8 L697.1,292.1 L697.5,291.4 L697.8,290.8 L698.1,290.1 L698.5,289.5 L698.8,288.8 L699.2,288.1 L699.5,287.5 L699.9,286.8 L700.3,286.2 L700.7,285.6 L701.0,284.9 L701.4,284.3 L701.8,283.7 L702.2,283.0 L702.6,282.4 L703.1,281.8 L703.5,281.2 L703.9,280.6 L704.3,279.9 L704.7,279.3 L705.2,278.7 L705.6,278.1 L706.1,277.5 L706.5,276.9 L707.0,276.3 L707.4,275.7 L707.9,275.2 L708.4,274.6 L708.8,274.0 L709.3,273.4 L709.8,272.8 L710.3,272.2 L710.8,271.7 L711.3,271.1 L711.8,270.5 L712.3,270.0 L712.8,269.4 L713.3,268.8 L713.8,268.3 L714.3,267.7 L714.8,267.2 L715.4,266.6 L715.9,266.1 L716.4,265.5 L717.0,265.0 L717.5,264.4 L718.0,263.9 L718.6,263.4 L719.1,262.8 L719.7,262.3 L720.2,261.8 L720.8,261.2 L721.4,260.7 L721.9,260.2 L722.5,259.7 L723.0,259.1 L723.6,258.6 L724.2,258.1 L724.8,257.6 L725.3,257.1 L725.9,256.6 L726.5,256.1 L727.1,255.6 L727.7,255.1 L728.3,254.5 L728.9,254.0 L729.5,253.5 L730.0,253.0 L730.6,252.5 L731.2,252.1 L731.8,251.6 L732.4,251.1 L733.0,250.6 L733.7,250.1 L734.3,249.6 L734.9,249.1 L735.5,248.6 L736.1,248.1 L736.7,247.7 L737.3,247.2 L737.9,246.7 L738.5,246.2 L739.2,245.7 L739.8,245.3 L740.4,244.8 L741.0,244.3 L741.6,243.8 L742.3,243.4 L742.9,242.9 L743.5,242.4 L744.1,242.0 L744.7,241.5 L745.4,241.0 L746.0,240.6 L746.6,240.1 L747.3,239.7 L747.9,239.2 L748.5,238.7 L749.1,238.3 L749.8,237.8 L750.4,237.4 L751.0,236.9 L751.7,236.5 L752.3,236.0 L752.9,235.6 L753.6,235.1 L754.2,234.7 L754.9,234.2 L755.5,233.8 L756.1,233.3 L756.8,232.9 L757.4,232.5 L758.1,232.0 L758.7,231.6 L759.3,231.1 L760.0,230.7 L760.6,230.3 L761.3,229.8 L761.9,229.4 L762.6,229.0 L763.2,228.6 L763.9,228.1 L764.5,227.7 L765.2,227.3 L765.8,226.9 L766.5,226.4 L767.1,226.0 L767.8,225.6 L768.4,225.2 L769.1,224.8 L769.8,224.4 L770.4,223.9 L771.1,223.5 L771.7,223.1 L772.4,222.7 L773.1,222.3 L773.7,221.9 L774.4,221.5 L775.1,221.1 L775.7,220.7 L776.4,220.3 L777.0,219.9 L777.7,219.5 L778.4,219.1 L779.1,218.7 L779.7,218.3 L780.4,217.9 L781.1,217.6 L781.7,217.2 L782.4,216.8 L783.1,216.4 L783.8,216.0 L784.4,215.6 L785.1,215.3 L785.8,214.9 L786.5,214.5 L787.1,214.1 L787.8,213.8 L788.5,213.4 L789.2,213.0 L789.9,212.7 L790.5,212.3 L791.2,211.9 L791.9,211.6 L792.6,211.2 L793.3,210.9 L794.0,210.5 L794.6,210.2 L795.3,209.8 L796.0,209.4 L796.7,209.1 L797.4,208.7 L798.1,208.4 L798.8,208.1 L799.5,207.7 L800.2,207.4 L800.9,207.0 L801.5,206.7 L802.2,206.4 L802.9,206.0 L803.6,205.7 L804.3,205.4 L805.0,205.0 L805.7,204.7 L806.4,204.4 L807.1,204.1 L807.8,203.7 L808.5,203.4 L809.2,203.1 L809.9,202.8 L810.6,202.5 L811.3,202.1 L812.0,201.8 L812.7,201.5 L813.5,201.2 L814.2,200.9 L814.9,200.6 L815.6,200.3 L816.3,200.0 L817.0,199.7 L817.7,199.4 L818.4,199.1 L819.1,198.8 L819.8,198.5 L820.5,198.2 L821.3,198.0 L822.0,197.7 L822.7,197.4 L823.4,197.1 L824.1,196.8 L824.8,196.5 L825.6,196.3 L826.3,196.0 L827.0,195.7 L827.7,195.5 L828.4,195.2 L829.2,194.9 L829.9,194.7 L830.6,194.4 L831.3,194.1 L832.0,193.9 L832.8,193.6 L833.5,193.4 L834.2,193.1 L835.0,192.9 L835.7,192.6 L836.4,192.4 L837.1,192.1 L837.9,191.9 L838.6,191.6 L839.3,191.4 L840.1,191.2 L840.8,190.9 L841.5,190.7 L842.3,190.5 L843.0,190.2 L843.7,190.0 L844.5,189.8 L845.2,189.6 L845.9,189.3 L846.7,189.1 L847.4,188.9 L848.1,188.7 L848.9,188.5 L849.6,188.3 L850.4,188.1 L851.1,187.9 L851.8,187.7 L852.6,187.5 L853.3,187.3 L854.1,187.1 L854.8,186.9 L855.6,186.7 L856.3,186.5 L857.0,186.3 L857.8,186.1 L858.5,185.9 L859.3,185.7 L860.0,185.6 L860.8,185.4 L861.5,185.2 L862.3,185.0 L863.0,184.9 L863.8,184.7 L864.5,184.5 L865.3,184.4 L866.0,184.2 L866.8,184.0 L867.5,183.9 L868.3,183.7 L869.1,183.6 L869.8,183.4 L870.6,183.3 L871.3,183.1 L872.1,183.0 L872.8,182.8 L873.6,182.7 L874.4,182.6 L875.1,182.4 L875.9,182.3 L876.6,182.2 L877.4,182.0 L878.2,181.9 L878.9,181.8 L879.7,181.7 L880.4,181.5 L881.2,181.4 L882.0,181.3 L882.7,181.2 L883.5,181.1 L884.3,181.0 L885.0,180.9 L885.8,180.8 L886.6,180.7 L887.3,180.6 L888.1,180.5 L888.9,180.4 L889.6,180.3 L890.4,180.2 L891.2,180.1 L892.0,180.0 L892.7,180.0 L893.5,179.9 L894.3,179.8 L895.0,179.7 L895.8,179.6 L896.6,179.6 L897.4,179.5 L898.1,179.4 L898.9,179.3 L899.7,179.3 L900.4,179.2 L901.2,179.1 L902.0,179.1 L902.7,179.0 L903.5,179.0 L904.3,178.9 L905.1,178.8 L905.8,178.8 L906.6,178.7 L907.4,178.7 L908.1,178.6 L908.9,178.5 L909.7,178.5 L910.4,178.4 L911.2,178.4 L912.0,178.3 L912.7,178.3 L913.5,178.2 L914.3,178.2 L915.0,178.2 L915.8,178.2 L916.6,178.2 L917.3,178.2 L918.1,178.2 L918.9,178.3 L919.7,178.4 L920.5,178.5 L921.3,178.6 L922.0,178.8 L922.8,179.0 L923.5,179.3 L924.2,179.6 L924.9,180.0 L925.5,180.5 L926.1,181.0 L926.6,181.5 L927.0,182.1 L927.4,182.8 L927.7,183.5 L928.0,184.2 L928.3,184.9 L928.5,185.7 L928.7,186.4 L929.0,187.2 L929.2,188.0 L929.4,188.7 L929.6,189.5 L929.8,190.3 L929.9,191.0 L930.1,191.8 L930.3,192.5 L930.5,193.3 L930.7,194.0 L930.9,194.8 L931.1,195.5 L931.3,196.2 L931.5,197.0 L931.7,197.7 L931.9,198.5 L932.0,199.2 L932.2,199.9 L932.4,200.7 L932.6,201.4 L932.8,202.1 L933.0,202.9 L933.3,203.6 L933.5,204.3 L933.7,205.1 L933.9,205.8 L934.1,206.5 L934.4,207.2 L934.6,208.0 L934.8,208.7 L935.1,209.4 L935.3,210.2 L935.6,210.9 L935.8,211.6 L936.1,212.3 L936.4,213.1 L936.7,213.8 L936.9,214.5 L937.2,215.2 L937.5,216.0 L937.8,216.7 L938.1,217.4 L938.4,218.1 L938.7,218.8 L939.1,219.5 L939.4,220.3 L939.7,221.0 L940.1,221.7 L940.4,222.4 L940.7,223.1 L941.1,223.8 L941.5,224.5 L941.8,225.1 L942.2,225.8 L942.6,226.5 L942.9,227.2 L943.3,227.9 L943.7,228.5 L944.1,229.2 L944.5,229.9 L944.9,230.5 L945.4,231.2 L945.8,231.8 L946.2,232.5 L946.6,233.1 L947.1,233.8 L947.5,234.4 L948.0,235.0 L948.4,235.6 L948.9,236.3 L949.4,236.9 L949.9,237.5 L950.3,238.1 L950.8,238.7 L951.3,239.3 L951.8,239.8 L952.4,240.4 L952.9,241.0 L953.4,241.6 L953.9,242.1 L954.5,242.7 L955.0,243.2 L955.5,243.7 L956.1,244.3 L956.7,244.8 L957.2,245.3 L957.8,245.8 L958.4,246.3 L959.0,246.8 L959.6,247.3 L960.2,247.8 L960.8,248.2 L961.4,248.7 L962.0,249.1 L962.7,249.6 L963.3,250.0 L963.9,250.4 L964.6,250.9 L965.2,251.3 L965.9,251.7 L966.6,252.0 L967.3,252.4 L967.9,252.8 L968.6,253.1 L969.3,253.5 L970.0,253.8 L970.8,254.1 L971.5,254.4 L972.2,254.7 L972.9,255.0 L973.7,255.2 L974.4,255.5 L975.1,255.7 L975.9,255.8 L976.6,256.0 L977.4,256.2 L978.2,256.3 L978.9,256.4 L979.7,256.4 L980.5,256.5 L981.2,256.5 L982.0,256.5 L982.8,256.5 L983.6,256.4 L984.4,256.3 L985.2,256.3 L986.0,256.2 L986.7,256.2 L987.5,256.2 L988.3,256.2 L989.0,256.4" fill="none" stroke="#1b1310" stroke-width="2.4" stroke-linecap="butt" stroke-linejoin="round" />
<rect x="916.75" y="61.45" width="2.3" height="2.3" fill="#1b1310" transform="rotate(82.8 917.90 62.60)"/>
<rect x="917.39" y="66.57" width="2.3" height="2.3" fill="#1b1310" transform="rotate(82.8 918.54 67.72)"/>
<rect x="918.03" y="71.68" width="2.3" height="2.3" fill="#1b1310" transform="rotate(82.8 919.18 72.83)"/>
<rect x="918.68" y="76.80" width="2.3" height="2.3" fill="#1b1310" transform="rotate(82.8 919.83 77.95)"/>
<rect x="919.32" y="81.91" width="2.3" height="2.3" fill="#1b1310" transform="rotate(82.8 920.47 83.06)"/>
<rect x="919.96" y="87.03" width="2.3" height="2.3" fill="#1b1310" transform="rotate(82.8 921.11 88.18)"/>
<rect x="920.60" y="92.14" width="2.3" height="2.3" fill="#1b1310" transform="rotate(82.8 921.75 93.29)"/>
<rect x="921.24" y="97.26" width="2.3" height="2.3" fill="#1b1310" transform="rotate(82.8 922.39 98.41)"/>
<rect x="921.89" y="102.38" width="2.3" height="2.3" fill="#1b1310" transform="rotate(82.8 923.04 103.53)"/>
<rect x="922.53" y="107.49" width="2.3" height="2.3" fill="#1b1310" transform="rotate(82.8 923.68 108.64)"/>
<rect x="923.17" y="112.61" width="2.3" height="2.3" fill="#1b1310" transform="rotate(82.8 924.32 113.76)"/>
<rect x="923.81" y="117.72" width="2.3" height="2.3" fill="#1b1310" transform="rotate(82.8 924.96 118.87)"/>
<rect x="924.46" y="122.84" width="2.3" height="2.3" fill="#1b1310" transform="rotate(82.8 925.61 123.99)"/>
<rect x="925.10" y="127.96" width="2.3" height="2.3" fill="#1b1310" transform="rotate(82.8 926.25 129.11)"/>
<rect x="925.74" y="133.07" width="2.3" height="2.3" fill="#1b1310" transform="rotate(82.8 926.89 134.22)"/>
<rect x="926.38" y="138.19" width="2.3" height="2.3" fill="#1b1310" transform="rotate(82.8 927.53 139.34)"/>
<rect x="927.02" y="143.30" width="2.3" height="2.3" fill="#1b1310" transform="rotate(82.8 928.17 144.45)"/>
<rect x="927.67" y="148.42" width="2.3" height="2.3" fill="#1b1310" transform="rotate(82.8 928.82 149.57)"/>
<rect x="928.31" y="153.53" width="2.3" height="2.3" fill="#1b1310" transform="rotate(82.8 929.46 154.68)"/>
<rect x="928.95" y="158.65" width="2.3" height="2.3" fill="#1b1310" transform="rotate(82.8 930.10 159.80)"/>
<rect x="929.59" y="163.77" width="2.3" height="2.3" fill="#1b1310" transform="rotate(82.8 930.74 164.92)"/>
<rect x="930.23" y="168.88" width="2.3" height="2.3" fill="#1b1310" transform="rotate(82.8 931.38 170.03)"/>
<rect x="930.88" y="174.00" width="2.3" height="2.3" fill="#1b1310" transform="rotate(82.8 932.03 175.15)"/>
<rect x="931.52" y="179.11" width="2.3" height="2.3" fill="#1b1310" transform="rotate(82.8 932.67 180.26)"/>
<rect x="932.16" y="184.23" width="2.3" height="2.3" fill="#1b1310" transform="rotate(82.8 933.31 185.38)"/>
<rect x="932.80" y="189.34" width="2.3" height="2.3" fill="#1b1310" transform="rotate(82.8 933.95 190.49)"/>
<rect x="933.44" y="194.46" width="2.3" height="2.3" fill="#1b1310" transform="rotate(82.8 934.59 195.61)"/>
<rect x="934.09" y="199.58" width="2.3" height="2.3" fill="#1b1310" transform="rotate(82.8 935.24 200.73)"/>
<rect x="934.73" y="204.69" width="2.3" height="2.3" fill="#1b1310" transform="rotate(82.8 935.88 205.84)"/>
<rect x="935.37" y="209.81" width="2.3" height="2.3" fill="#1b1310" transform="rotate(82.8 936.52 210.96)"/>
<rect x="936.01" y="214.92" width="2.3" height="2.3" fill="#1b1310" transform="rotate(82.8 937.16 216.07)"/>
<rect x="936.66" y="220.04" width="2.3" height="2.3" fill="#1b1310" transform="rotate(82.8 937.81 221.19)"/>
<rect x="937.30" y="225.16" width="2.3" height="2.3" fill="#1b1310" transform="rotate(82.8 938.45 226.31)"/>
<rect x="937.94" y="230.27" width="2.3" height="2.3" fill="#1b1310" transform="rotate(82.8 939.09 231.42)"/>
<rect x="938.58" y="235.39" width="2.3" height="2.3" fill="#1b1310" transform="rotate(82.8 939.73 236.54)"/>
<rect x="939.22" y="240.50" width="2.3" height="2.3" fill="#1b1310" transform="rotate(82.8 940.37 241.65)"/>
<rect x="939.87" y="245.62" width="2.3" height="2.3" fill="#1b1310" transform="rotate(82.8 941.02 246.77)"/>
<rect x="940.51" y="250.73" width="2.3" height="2.3" fill="#1b1310" transform="rotate(82.8 941.66 251.88)"/>
<rect x="941.15" y="255.85" width="2.3" height="2.3" fill="#1b1310" transform="rotate(82.8 942.30 257.00)"/>
<path d="M972.5,239.3 L975.1,240.8 L977.7,242.2 L980.3,243.5 L983.0,244.8 L985.6,246.0 L988.3,247.2 L991.0,248.4 L993.7,249.5 L996.5,250.6 L999.2,251.6 L1002.0,252.6 L1004.8,253.6 L1007.6,254.6 L1010.3,255.5 L1013.1,256.4 L1016.0,257.3 L1018.8,258.2 L1021.6,259.1 L1024.4,260.0 L1027.2,260.9 L1030.0,261.8 L1032.9,262.6 L1035.7,263.5 L1038.5,264.4 L1041.3,265.3 L1044.1,266.2 L1046.9,267.2 L1049.6,268.1 L1052.4,269.1" fill="none" stroke="#1b1310" stroke-width="0.7" stroke-linecap="butt" stroke-linejoin="round" />
</g>
<rect x="1071.75" y="0" width="1.25" height="403" fill="#000"/>
</svg>
</body></html>
